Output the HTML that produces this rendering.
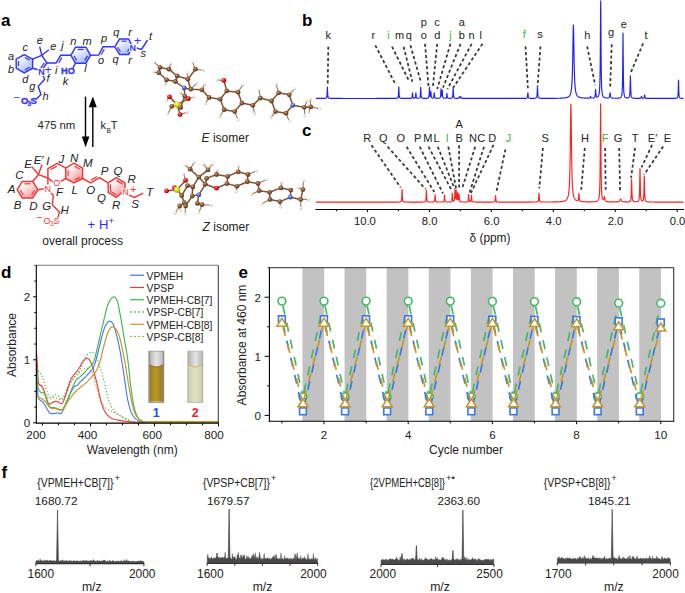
<!DOCTYPE html>
<html><head><meta charset="utf-8"><style>
html,body{margin:0;padding:0;background:#fff;}
svg{display:block;}
text{font-family:"Liberation Sans",sans-serif;}
</style></head><body>
<svg width="685" height="593" viewBox="0 0 685 593">
<rect width="685" height="593" fill="#fff"/>
<defs>
<linearGradient id="gb" x1="0.15" y1="0.1" x2="0.85" y2="0.95"><stop offset="0" stop-color="#ffffff"/><stop offset="0.3" stop-color="#e8eeff"/><stop offset="1" stop-color="#9ab4ff"/></linearGradient>
<linearGradient id="gr" x1="0.15" y1="0.1" x2="0.85" y2="0.95"><stop offset="0" stop-color="#ffffff"/><stop offset="0.35" stop-color="#fde6e6"/><stop offset="1" stop-color="#ee8c8c"/></linearGradient>
<radialGradient id="gh" cx="40%" cy="35%" r="65%"><stop offset="0" stop-color="#ffffff"/><stop offset="0.6" stop-color="#e4e4dc"/><stop offset="1" stop-color="#a8a8a0"/></radialGradient>
<radialGradient id="gc" cx="40%" cy="35%" r="65%"><stop offset="0" stop-color="#c9a58a"/><stop offset="0.5" stop-color="#85532f"/><stop offset="1" stop-color="#5a3418"/></radialGradient>
<radialGradient id="go" cx="40%" cy="35%" r="65%"><stop offset="0" stop-color="#ff9a9a"/><stop offset="0.5" stop-color="#e01010"/><stop offset="1" stop-color="#a00000"/></radialGradient>
<radialGradient id="gn" cx="40%" cy="35%" r="65%"><stop offset="0" stop-color="#b8c8ff"/><stop offset="0.5" stop-color="#4a66d0"/><stop offset="1" stop-color="#2a3a90"/></radialGradient>
<radialGradient id="gs" cx="40%" cy="35%" r="65%"><stop offset="0" stop-color="#ffffa0"/><stop offset="0.5" stop-color="#d8e020"/><stop offset="1" stop-color="#9aa000"/></radialGradient>
<linearGradient id="cuv1" x1="0" y1="0" x2="1" y2="0"><stop offset="0" stop-color="#9a7c2c"/><stop offset="0.45" stop-color="#bc981e"/><stop offset="1" stop-color="#977a30"/></linearGradient>
<linearGradient id="cuv2" x1="0" y1="0" x2="1" y2="0"><stop offset="0" stop-color="#cfd0b0"/><stop offset="0.5" stop-color="#e2e3c2"/><stop offset="1" stop-color="#cfd0b0"/></linearGradient>
</defs>
<text x="1" y="26" font-size="17" text-anchor="start" font-weight="bold" font-style="normal" fill="#000" >a</text>
<text x="302" y="26" font-size="17" text-anchor="start" font-weight="bold" font-style="normal" fill="#000" >b</text>
<text x="302" y="136" font-size="17" text-anchor="start" font-weight="bold" font-style="normal" fill="#000" >c</text>
<text x="1" y="277.5" font-size="17" text-anchor="start" font-weight="bold" font-style="normal" fill="#000" >d</text>
<text x="238.5" y="277.5" font-size="17" text-anchor="start" font-weight="bold" font-style="normal" fill="#000" >e</text>
<text x="1.5" y="477.5" font-size="17" text-anchor="start" font-weight="bold" font-style="normal" fill="#000" >f</text>
<path d="M24.2,54.7 L32.6,59.2 L32.6,68.2 L24.2,72.8 L16.2,68.2 L16.2,59.2 Z" stroke="#3434f8" stroke-width="1.45" fill="url(#gb)" />
<line x1="24.84" y1="57.55" x2="29.68" y2="60.14" stroke="#3434f8" stroke-width="1.2" />
<line x1="29.68" y1="67.28" x2="24.84" y2="69.93" stroke="#3434f8" stroke-width="1.2" />
<line x1="18.48" y1="66.3" x2="18.48" y2="61.11" stroke="#3434f8" stroke-width="1.2" />
<path d="M32.6,59.2 L41.8,55.3 L46.9,63 L41.6,70.7 L32.6,68.2" stroke="#3434f8" stroke-width="1.45" fill="none" />
<line x1="44.29" y1="62.91" x2="40.58" y2="68.3" stroke="#3434f8" stroke-width="1.2" />
<line x1="41.8" y1="55.3" x2="39.7" y2="46.6" stroke="#3434f8" stroke-width="1.45" />
<line x1="41.8" y1="55.3" x2="48.9" y2="49.7" stroke="#3434f8" stroke-width="1.45" />
<path d="M46.9,63 L56.1,63 L60.7,55.3 L70.9,55.3" stroke="#3434f8" stroke-width="1.45" fill="none" />
<line x1="58.68" y1="62.97" x2="61.9" y2="57.58" stroke="#3434f8" stroke-width="1.2" />
<path d="M70.9,55.3 L75.5,47.2 L85.9,47.2 L90.5,55.3 L85.9,63.2 L75.5,63.2 Z" stroke="#3434f8" stroke-width="1.45" fill="url(#gb)" />
<line x1="77.7" y1="49.45" x2="83.7" y2="49.45" stroke="#3434f8" stroke-width="1.2" />
<line x1="87.42" y1="55.85" x2="84.78" y2="60.4" stroke="#3434f8" stroke-width="1.2" />
<line x1="76.62" y1="60.4" x2="73.98" y2="55.85" stroke="#3434f8" stroke-width="1.2" />
<line x1="75.5" y1="63.2" x2="72.4" y2="69" stroke="#3434f8" stroke-width="1.45" />
<path d="M90.5,55.3 L98.7,55 L103,46.8 L114.7,46.8" stroke="#3434f8" stroke-width="1.45" fill="none" />
<line x1="101.29" y1="54.79" x2="104.3" y2="49.05" stroke="#3434f8" stroke-width="1.2" />
<path d="M114.7,46.8 L119.6,39 L128.6,39 L132.6,46.8 L128.6,54.4 L119.6,54.4 Z" stroke="#3434f8" stroke-width="1.45" fill="url(#gb)" />
<line x1="121.47" y1="41.17" x2="126.65" y2="41.17" stroke="#3434f8" stroke-width="1.2" />
<line x1="129.89" y1="47.33" x2="127.59" y2="51.71" stroke="#3434f8" stroke-width="1.2" />
<line x1="120.47" y1="51.71" x2="117.64" y2="47.33" stroke="#3434f8" stroke-width="1.2" />
<path d="M134.5,47.5 L141.5,49.5 L147.6,40" stroke="#3434f8" stroke-width="1.45" fill="none" />
<path d="M41.8,72.5 L44.6,79.3 L38.2,86.3 L41,94.5 L36,99.3" stroke="#3434f8" stroke-width="1.45" fill="none" />
<text x="41.6" y="74.6" font-size="9" text-anchor="middle" font-weight="bold" fill="#3434f8" stroke="#fff" stroke-width="2.2" paint-order="stroke" stroke-linejoin="round">N</text>
<text x="48" y="74.2" font-size="13" text-anchor="middle" font-weight="normal" font-style="normal" fill="#3434f8" >+</text>
<text x="132.8" y="50.9" font-size="9" text-anchor="middle" font-weight="bold" fill="#3434f8" stroke="#fff" stroke-width="2.2" paint-order="stroke" stroke-linejoin="round">N</text>
<text x="137.6" y="44.6" font-size="13" text-anchor="middle" font-weight="normal" font-style="normal" fill="#3434f8" >+</text>
<text x="67.9" y="74.2" font-size="9.2" text-anchor="middle" font-weight="bold" font-style="normal" fill="#3434f8" stroke="#3434f8" stroke-width="0.35">HO</text>
<text x="13.6" y="101.2" font-size="11" text-anchor="start" font-weight="normal" font-style="normal" fill="#3434f8" >−</text>
<text x="21" y="104.3" font-size="9.4" text-anchor="start" font-weight="bold" font-style="normal" fill="#3434f8" stroke="#3434f8" stroke-width="0.35">O</text>
<text x="27.6" y="106.2" font-size="6.5" text-anchor="start" font-weight="bold" font-style="normal" fill="#3434f8" stroke="#3434f8" stroke-width="0.25">3</text>
<text x="30.6" y="104.3" font-size="9.4" text-anchor="start" font-weight="bold" font-style="normal" fill="#3434f8" stroke="#3434f8" stroke-width="0.35">S</text>
<text x="11.1" y="59.5" font-size="11" text-anchor="middle" font-weight="normal" font-style="italic" fill="#222" >a</text>
<text x="11.1" y="73" font-size="11" text-anchor="middle" font-weight="normal" font-style="italic" fill="#222" >b</text>
<text x="25.2" y="51.3" font-size="11" text-anchor="middle" font-weight="normal" font-style="italic" fill="#222" >c</text>
<text x="25.2" y="83" font-size="11" text-anchor="middle" font-weight="normal" font-style="italic" fill="#222" >d</text>
<text x="39.7" y="44.3" font-size="11" text-anchor="middle" font-weight="normal" font-style="italic" fill="#222" >e</text>
<text x="53.2" y="50" font-size="11" text-anchor="middle" font-weight="normal" font-style="italic" fill="#222" >e</text>
<text x="62.5" y="48.9" font-size="11" text-anchor="middle" font-weight="normal" font-style="italic" fill="#222" >j</text>
<text x="56.2" y="73.5" font-size="11" text-anchor="middle" font-weight="normal" font-style="italic" fill="#222" >i</text>
<text x="48" y="82.4" font-size="11" text-anchor="middle" font-weight="normal" font-style="italic" fill="#222" >f</text>
<text x="32.3" y="90.3" font-size="11" text-anchor="middle" font-weight="normal" font-style="italic" fill="#222" >g</text>
<text x="45.6" y="99.7" font-size="11" text-anchor="middle" font-weight="normal" font-style="italic" fill="#222" >h</text>
<text x="65.4" y="84.6" font-size="11" text-anchor="middle" font-weight="normal" font-style="italic" fill="#222" >k</text>
<text x="73.2" y="45.2" font-size="11" text-anchor="middle" font-weight="normal" font-style="italic" fill="#222" >n</text>
<text x="87.2" y="45.2" font-size="11" text-anchor="middle" font-weight="normal" font-style="italic" fill="#222" >m</text>
<text x="85.6" y="71.8" font-size="11" text-anchor="middle" font-weight="normal" font-style="italic" fill="#222" >l</text>
<text x="104" y="41.6" font-size="11" text-anchor="middle" font-weight="normal" font-style="italic" fill="#222" >p</text>
<text x="101" y="63.7" font-size="11" text-anchor="middle" font-weight="normal" font-style="italic" fill="#222" >o</text>
<text x="116.2" y="35.9" font-size="11" text-anchor="middle" font-weight="normal" font-style="italic" fill="#222" >q</text>
<text x="130" y="35.9" font-size="11" text-anchor="middle" font-weight="normal" font-style="italic" fill="#222" >r</text>
<text x="115.6" y="62.9" font-size="11" text-anchor="middle" font-weight="normal" font-style="italic" fill="#222" >q</text>
<text x="130" y="64.4" font-size="11" text-anchor="middle" font-weight="normal" font-style="italic" fill="#222" >r</text>
<text x="143.3" y="57.1" font-size="11" text-anchor="middle" font-weight="normal" font-style="italic" fill="#222" >s</text>
<text x="150.6" y="40.3" font-size="11" text-anchor="middle" font-weight="normal" font-style="italic" fill="#222" >t</text>
<line x1="85.5" y1="96.6" x2="85.5" y2="138" stroke="#000" stroke-width="1.4" />
<path d="M81.8,136.5 L89.4,136.5 L85.6,147.2 Z" stroke="none" stroke-width="1" fill="#000" />
<line x1="92.8" y1="105" x2="92.8" y2="147" stroke="#000" stroke-width="1.4" />
<path d="M88.8,107.2 L96.8,107.2 L92.8,96.4 Z" stroke="none" stroke-width="1" fill="#000" />
<text x="37.6" y="128.5" font-size="11.3" text-anchor="start" font-weight="normal" font-style="normal" fill="#222" >475 nm</text>
<text x="100.6" y="128.8" font-size="11" text-anchor="start" font-weight="normal" font-style="normal" fill="#222" >k</text>
<text x="106.4" y="133" font-size="6.5" text-anchor="start" font-weight="normal" font-style="normal" fill="#222" >B</text>
<text x="110.8" y="128.8" font-size="11" text-anchor="start" font-weight="normal" font-style="normal" fill="#222" >T</text>
<path d="M22.2,181.5 L32.7,181.5 L38,189.7 L32.7,197.9 L22.2,197.9 L17.2,189.7 Z" stroke="#f03838" stroke-width="1.45" fill="url(#gr)" />
<line x1="24.44" y1="183.8" x2="30.49" y2="183.8" stroke="#f03838" stroke-width="1.2" />
<line x1="34.68" y1="190.29" x2="31.63" y2="195.01" stroke="#f03838" stroke-width="1.2" />
<line x1="23.32" y1="195.01" x2="20.44" y2="190.29" stroke="#f03838" stroke-width="1.2" />
<path d="M32.7,181.5 L38.5,174.5 L47.9,178 L47.9,184.5" stroke="#f03838" stroke-width="1.45" fill="none" />
<line x1="38" y1="189.7" x2="44.4" y2="188.6" stroke="#f03838" stroke-width="1.45" />
<line x1="38.5" y1="174.5" x2="31.5" y2="166.4" stroke="#f03838" stroke-width="1.45" />
<line x1="38.5" y1="174.5" x2="42" y2="164.6" stroke="#f03838" stroke-width="1.45" />
<path d="M47.9,178 L47.9,168.7 L57.2,163.4 L65.8,168.2 L65.8,178.5" stroke="#f03838" stroke-width="1.45" fill="none" />
<line x1="53.6" y1="182.3" x2="47.9" y2="178" stroke="#f03838" stroke-width="1.45" />
<line x1="65.8" y1="178.5" x2="60" y2="181.8" stroke="#f03838" stroke-width="1.45" />
<line x1="50.38" y1="169.82" x2="56.89" y2="166.11" stroke="#f03838" stroke-width="1.2" />
<path d="M73.9,163.1 L82.6,168.2 L82.6,178.5 L73.9,183 L65.8,178.5 L65.8,168.2 Z" stroke="#f03838" stroke-width="1.45" fill="url(#gr)" />
<line x1="74.58" y1="166.31" x2="79.59" y2="169.25" stroke="#f03838" stroke-width="1.2" />
<line x1="79.59" y1="177.35" x2="74.58" y2="179.95" stroke="#f03838" stroke-width="1.2" />
<line x1="68.12" y1="176.29" x2="68.12" y2="170.36" stroke="#f03838" stroke-width="1.2" />
<path d="M82.6,178.5 L90.7,182.8 L99.4,177.7 L108.2,182.8" stroke="#f03838" stroke-width="1.45" fill="none" />
<line x1="90.89" y1="180.14" x2="96.98" y2="176.57" stroke="#f03838" stroke-width="1.2" />
<path d="M116.2,177.7 L125,182.8 L125,190 L116.2,197.4 L108.2,192.3 L108.2,182.8 Z" stroke="#f03838" stroke-width="1.45" fill="url(#gr)" />
<line x1="116.42" y1="180.37" x2="122.58" y2="183.94" stroke="#f03838" stroke-width="1.2" />
<line x1="116.18" y1="194.78" x2="110.58" y2="191.21" stroke="#f03838" stroke-width="1.2" />
<line x1="110.4" y1="190.88" x2="110.4" y2="184.23" stroke="#f03838" stroke-width="1.2" />
<path d="M127.5,194.5 L134.5,197.4 L143.2,193.1" stroke="#f03838" stroke-width="1.45" fill="none" />
<path d="M49.5,191.5 L53.3,195.3 L52.4,204.9 L59.4,211.9 L57.9,217.6" stroke="#f03838" stroke-width="1.45" fill="none" />
<text x="47.8" y="191.8" font-size="9" text-anchor="middle" font-weight="normal" fill="#f03838" stroke="#fff" stroke-width="2.2" paint-order="stroke" stroke-linejoin="round">N</text>
<text x="56.7" y="186.3" font-size="9" text-anchor="middle" font-weight="normal" fill="#f03838" stroke="#fff" stroke-width="2.2" paint-order="stroke" stroke-linejoin="round">O</text>
<text x="125.5" y="195.3" font-size="9" text-anchor="middle" font-weight="normal" fill="#f03838" stroke="#fff" stroke-width="2.2" paint-order="stroke" stroke-linejoin="round">N</text>
<text x="133.2" y="192.6" font-size="11" text-anchor="middle" font-weight="normal" font-style="normal" fill="#f03838" >+</text>
<text x="36" y="221.2" font-size="10.5" text-anchor="start" font-weight="normal" font-style="normal" fill="#f03838" >−</text>
<text x="43.6" y="224.2" font-size="9" text-anchor="start" font-weight="normal" font-style="normal" fill="#f03838" >O</text>
<text x="49.9" y="226.3" font-size="6.5" text-anchor="start" font-weight="normal" font-style="normal" fill="#f03838" >3</text>
<text x="53.6" y="224.2" font-size="9" text-anchor="start" font-weight="normal" font-style="normal" fill="#f03838" >S</text>
<text x="28.2" y="167.6" font-size="11.5" text-anchor="middle" font-weight="normal" font-style="italic" fill="#222" >E</text>
<text x="38.6" y="164.2" font-size="11.5" text-anchor="middle" font-weight="normal" font-style="italic" fill="#222" >E′</text>
<text x="47.9" y="165.2" font-size="11.5" text-anchor="middle" font-weight="normal" font-style="italic" fill="#222" >I</text>
<text x="61.3" y="163.4" font-size="11.5" text-anchor="middle" font-weight="normal" font-style="italic" fill="#222" >J</text>
<text x="74.2" y="161.8" font-size="11.5" text-anchor="middle" font-weight="normal" font-style="italic" fill="#222" >N</text>
<text x="19.3" y="179.3" font-size="11.5" text-anchor="middle" font-weight="normal" font-style="italic" fill="#222" >C</text>
<text x="11.7" y="192.6" font-size="11.5" text-anchor="middle" font-weight="normal" font-style="italic" fill="#222" >A</text>
<text x="17.5" y="209.1" font-size="11.5" text-anchor="middle" font-weight="normal" font-style="italic" fill="#222" >B</text>
<text x="33.3" y="209.6" font-size="11.5" text-anchor="middle" font-weight="normal" font-style="italic" fill="#222" >D</text>
<text x="46.7" y="210.2" font-size="11.5" text-anchor="middle" font-weight="normal" font-style="italic" fill="#222" >G</text>
<text x="59.6" y="196.2" font-size="11.5" text-anchor="middle" font-weight="normal" font-style="italic" fill="#222" >F</text>
<text x="74.6" y="194.2" font-size="11.5" text-anchor="middle" font-weight="normal" font-style="italic" fill="#222" >L</text>
<text x="87.9" y="166.6" font-size="11.5" text-anchor="middle" font-weight="normal" font-style="italic" fill="#222" >M</text>
<text x="104.5" y="174.5" font-size="11.5" text-anchor="middle" font-weight="normal" font-style="italic" fill="#222" >P</text>
<text x="117.9" y="175.4" font-size="11.5" text-anchor="middle" font-weight="normal" font-style="italic" fill="#222" >Q</text>
<text x="131.7" y="183" font-size="11.5" text-anchor="middle" font-weight="normal" font-style="italic" fill="#222" >R</text>
<text x="149.8" y="195.7" font-size="11.5" text-anchor="middle" font-weight="normal" font-style="italic" fill="#222" >T</text>
<text x="135.2" y="208.1" font-size="11.5" text-anchor="middle" font-weight="normal" font-style="italic" fill="#222" >S</text>
<text x="116.2" y="208.8" font-size="11.5" text-anchor="middle" font-weight="normal" font-style="italic" fill="#222" >R</text>
<text x="101.6" y="202.4" font-size="11.5" text-anchor="middle" font-weight="normal" font-style="italic" fill="#222" >Q</text>
<text x="90.7" y="193.5" font-size="11.5" text-anchor="middle" font-weight="normal" font-style="italic" fill="#222" >O</text>
<text x="64.6" y="214.2" font-size="11.5" text-anchor="middle" font-weight="normal" font-style="italic" fill="#222" >H</text>
<text x="87.6" y="228.8" font-size="13" text-anchor="start" font-weight="normal" font-style="normal" fill="#2a2aff" >+</text>
<text x="99" y="229.4" font-size="13" text-anchor="start" font-weight="normal" font-style="normal" fill="#2a2aff" >H</text>
<text x="108.6" y="224.2" font-size="9.5" text-anchor="start" font-weight="normal" font-style="normal" fill="#2a2aff" >+</text>
<text x="42.3" y="244.5" font-size="12" text-anchor="start" font-weight="normal" font-style="normal" fill="#222" >overall process</text>
<line x1="154.1" y1="62.1" x2="160" y2="67.4" stroke="#9a7a64" stroke-width="1.1" />
<line x1="170.6" y1="63.5" x2="168.9" y2="69.2" stroke="#9a7a64" stroke-width="1.1" />
<line x1="192.5" y1="62.1" x2="195.4" y2="69.2" stroke="#9a7a64" stroke-width="1.1" />
<line x1="203.7" y1="70.3" x2="195.4" y2="69.2" stroke="#9a7a64" stroke-width="1.1" />
<line x1="153.5" y1="72.1" x2="158.8" y2="72.7" stroke="#9a7a64" stroke-width="1.1" />
<line x1="165.3" y1="84.6" x2="166.5" y2="79.8" stroke="#9a7a64" stroke-width="1.1" />
<line x1="187.2" y1="72.7" x2="187.8" y2="79.2" stroke="#9a7a64" stroke-width="1.1" />
<line x1="196.6" y1="83.3" x2="190.7" y2="89.2" stroke="#9a7a64" stroke-width="1.1" />
<line x1="204.9" y1="83.9" x2="201.9" y2="89.8" stroke="#9a7a64" stroke-width="1.1" />
<line x1="205.5" y1="103.4" x2="209" y2="97.5" stroke="#9a7a64" stroke-width="1.1" />
<line x1="217" y1="80" x2="223.9" y2="80.4" stroke="#9a7a64" stroke-width="1.1" />
<line x1="219.6" y1="116.5" x2="224.2" y2="109.7" stroke="#9a7a64" stroke-width="1.1" />
<line x1="167.7" y1="114" x2="171.8" y2="106.3" stroke="#9a7a64" stroke-width="1.1" />
<line x1="166.5" y1="100.5" x2="169.5" y2="96.9" stroke="#9a7a64" stroke-width="1.1" />
<line x1="187.2" y1="112.2" x2="180.1" y2="114.6" stroke="#9a7a64" stroke-width="1.1" />
<line x1="194" y1="96.9" x2="188.3" y2="98.7" stroke="#9a7a64" stroke-width="1.1" />
<line x1="180.1" y1="92.8" x2="184.8" y2="96.3" stroke="#9a7a64" stroke-width="1.1" />
<line x1="242.6" y1="85" x2="238" y2="92.2" stroke="#9a7a64" stroke-width="1.1" />
<line x1="259" y1="89.6" x2="260.3" y2="98.1" stroke="#9a7a64" stroke-width="1.1" />
<line x1="276.1" y1="84.3" x2="278.7" y2="92.8" stroke="#9a7a64" stroke-width="1.1" />
<line x1="294.5" y1="88.9" x2="289.2" y2="94.8" stroke="#9a7a64" stroke-width="1.1" />
<line x1="254.4" y1="113.9" x2="252.8" y2="105.3" stroke="#9a7a64" stroke-width="1.1" />
<line x1="238" y1="119.8" x2="234.7" y2="111.6" stroke="#9a7a64" stroke-width="1.1" />
<line x1="270.8" y1="117.8" x2="275.4" y2="111.6" stroke="#9a7a64" stroke-width="1.1" />
<line x1="289.2" y1="121.1" x2="286" y2="113.2" stroke="#9a7a64" stroke-width="1.1" />
<line x1="306.9" y1="101.2" x2="304.3" y2="107.3" stroke="#9a7a64" stroke-width="1.1" />
<line x1="310.3" y1="99" x2="310.7" y2="106.9" stroke="#9a7a64" stroke-width="1.1" />
<line x1="319.5" y1="108.8" x2="310.7" y2="106.9" stroke="#9a7a64" stroke-width="1.1" />
<line x1="304.7" y1="115.3" x2="304.3" y2="107.3" stroke="#9a7a64" stroke-width="1.1" />
<line x1="308.5" y1="112.6" x2="310.7" y2="106.9" stroke="#9a7a64" stroke-width="1.1" />
<line x1="160" y1="67.4" x2="168.9" y2="69.2" stroke="#7e5234" stroke-width="1.5" />
<line x1="168.9" y1="69.2" x2="177.1" y2="76" stroke="#7e5234" stroke-width="1.5" />
<line x1="177.1" y1="76" x2="175.4" y2="81.5" stroke="#7e5234" stroke-width="1.5" />
<line x1="175.4" y1="81.5" x2="166.5" y2="79.8" stroke="#7e5234" stroke-width="1.5" />
<line x1="166.5" y1="79.8" x2="158.8" y2="72.7" stroke="#7e5234" stroke-width="1.5" />
<line x1="158.8" y1="72.7" x2="160" y2="67.4" stroke="#7e5234" stroke-width="1.5" />
<line x1="177.1" y1="76" x2="187.8" y2="79.2" stroke="#7e5234" stroke-width="1.5" />
<line x1="187.8" y1="79.2" x2="190.7" y2="89.2" stroke="#7e5234" stroke-width="1.5" />
<line x1="190.7" y1="89.2" x2="184.2" y2="88" stroke="#7e5234" stroke-width="1.5" />
<line x1="184.2" y1="88" x2="175.4" y2="81.5" stroke="#7e5234" stroke-width="1.5" />
<line x1="187.8" y1="79.2" x2="195.4" y2="69.2" stroke="#7e5234" stroke-width="1.5" />
<line x1="190.7" y1="89.2" x2="201.9" y2="89.8" stroke="#7e5234" stroke-width="1.5" />
<line x1="201.9" y1="89.8" x2="209" y2="97.5" stroke="#7e5234" stroke-width="1.5" />
<line x1="209" y1="97.5" x2="220.2" y2="99.2" stroke="#7e5234" stroke-width="1.5" />
<line x1="220.2" y1="99.2" x2="226.8" y2="90.9" stroke="#7e5234" stroke-width="1.5" />
<line x1="226.8" y1="90.9" x2="238" y2="92.2" stroke="#7e5234" stroke-width="1.5" />
<line x1="238" y1="92.2" x2="241.9" y2="103.1" stroke="#7e5234" stroke-width="1.5" />
<line x1="241.9" y1="103.1" x2="234.7" y2="111.6" stroke="#7e5234" stroke-width="1.5" />
<line x1="234.7" y1="111.6" x2="224.2" y2="109.7" stroke="#7e5234" stroke-width="1.5" />
<line x1="224.2" y1="109.7" x2="220.2" y2="99.2" stroke="#7e5234" stroke-width="1.5" />
<line x1="226.8" y1="90.9" x2="223.9" y2="80.4" stroke="#7e5234" stroke-width="1.5" />
<line x1="241.9" y1="103.1" x2="252.8" y2="105.3" stroke="#7e5234" stroke-width="1.5" />
<line x1="252.8" y1="105.3" x2="260.3" y2="98.1" stroke="#7e5234" stroke-width="1.5" />
<line x1="260.3" y1="98.1" x2="271.5" y2="101" stroke="#7e5234" stroke-width="1.5" />
<line x1="271.5" y1="101" x2="278.7" y2="92.8" stroke="#7e5234" stroke-width="1.5" />
<line x1="278.7" y1="92.8" x2="289.2" y2="94.8" stroke="#7e5234" stroke-width="1.5" />
<line x1="289.2" y1="94.8" x2="292.8" y2="105.3" stroke="#7e5234" stroke-width="1.5" />
<line x1="292.8" y1="105.3" x2="286" y2="113.2" stroke="#7e5234" stroke-width="1.5" />
<line x1="286" y1="113.2" x2="275.4" y2="111.6" stroke="#7e5234" stroke-width="1.5" />
<line x1="275.4" y1="111.6" x2="271.5" y2="101" stroke="#7e5234" stroke-width="1.5" />
<line x1="292.8" y1="105.3" x2="304.3" y2="107.3" stroke="#7e5234" stroke-width="1.5" />
<line x1="304.3" y1="107.3" x2="310.7" y2="106.9" stroke="#7e5234" stroke-width="1.5" />
<line x1="184.2" y1="88" x2="184.8" y2="96.3" stroke="#7e5234" stroke-width="1.5" />
<line x1="184.8" y1="96.3" x2="180.7" y2="107.5" stroke="#7e5234" stroke-width="1.5" />
<line x1="180.7" y1="107.5" x2="177.1" y2="104.6" stroke="#7e5234" stroke-width="1.5" />
<line x1="177.1" y1="104.6" x2="171.8" y2="106.3" stroke="#7e5234" stroke-width="1.5" />
<line x1="177.1" y1="104.6" x2="169.5" y2="96.9" stroke="#7e5234" stroke-width="1.5" />
<line x1="177.1" y1="104.6" x2="188.3" y2="98.7" stroke="#7e5234" stroke-width="1.5" />
<line x1="177.1" y1="104.6" x2="180.1" y2="114.6" stroke="#7e5234" stroke-width="1.5" />
<circle cx="154.1" cy="62.1" r="1.45" fill="url(#gh)"/>
<circle cx="170.6" cy="63.5" r="1.45" fill="url(#gh)"/>
<circle cx="192.5" cy="62.1" r="1.45" fill="url(#gh)"/>
<circle cx="203.7" cy="70.3" r="1.45" fill="url(#gh)"/>
<circle cx="153.5" cy="72.1" r="1.45" fill="url(#gh)"/>
<circle cx="165.3" cy="84.6" r="1.45" fill="url(#gh)"/>
<circle cx="187.2" cy="72.7" r="1.45" fill="url(#gh)"/>
<circle cx="196.6" cy="83.3" r="1.45" fill="url(#gh)"/>
<circle cx="204.9" cy="83.9" r="1.45" fill="url(#gh)"/>
<circle cx="205.5" cy="103.4" r="1.45" fill="url(#gh)"/>
<circle cx="217" cy="80" r="1.45" fill="url(#gh)"/>
<circle cx="219.6" cy="116.5" r="1.45" fill="url(#gh)"/>
<circle cx="167.7" cy="114" r="1.45" fill="url(#gh)"/>
<circle cx="166.5" cy="100.5" r="1.45" fill="url(#gh)"/>
<circle cx="187.2" cy="112.2" r="1.45" fill="url(#gh)"/>
<circle cx="194" cy="96.9" r="1.45" fill="url(#gh)"/>
<circle cx="180.1" cy="92.8" r="1.45" fill="url(#gh)"/>
<circle cx="242.6" cy="85" r="1.45" fill="url(#gh)"/>
<circle cx="259" cy="89.6" r="1.45" fill="url(#gh)"/>
<circle cx="276.1" cy="84.3" r="1.45" fill="url(#gh)"/>
<circle cx="294.5" cy="88.9" r="1.45" fill="url(#gh)"/>
<circle cx="254.4" cy="113.9" r="1.45" fill="url(#gh)"/>
<circle cx="238" cy="119.8" r="1.45" fill="url(#gh)"/>
<circle cx="270.8" cy="117.8" r="1.45" fill="url(#gh)"/>
<circle cx="289.2" cy="121.1" r="1.45" fill="url(#gh)"/>
<circle cx="306.9" cy="101.2" r="1.45" fill="url(#gh)"/>
<circle cx="310.3" cy="99" r="1.45" fill="url(#gh)"/>
<circle cx="319.5" cy="108.8" r="1.45" fill="url(#gh)"/>
<circle cx="304.7" cy="115.3" r="1.45" fill="url(#gh)"/>
<circle cx="308.5" cy="112.6" r="1.45" fill="url(#gh)"/>
<circle cx="160" cy="67.4" r="2.4" fill="url(#gc)"/>
<circle cx="168.9" cy="69.2" r="2.4" fill="url(#gc)"/>
<circle cx="158.8" cy="72.7" r="2.4" fill="url(#gc)"/>
<circle cx="177.1" cy="76" r="2.4" fill="url(#gc)"/>
<circle cx="166.5" cy="79.8" r="2.4" fill="url(#gc)"/>
<circle cx="175.4" cy="81.5" r="2.4" fill="url(#gc)"/>
<circle cx="187.8" cy="79.2" r="2.4" fill="url(#gc)"/>
<circle cx="195.4" cy="69.2" r="2.4" fill="url(#gc)"/>
<circle cx="190.7" cy="89.2" r="2.4" fill="url(#gc)"/>
<circle cx="201.9" cy="89.8" r="2.4" fill="url(#gc)"/>
<circle cx="209" cy="97.5" r="2.4" fill="url(#gc)"/>
<circle cx="220.2" cy="99.2" r="2.4" fill="url(#gc)"/>
<circle cx="226.8" cy="90.9" r="2.4" fill="url(#gc)"/>
<circle cx="224.2" cy="109.7" r="2.4" fill="url(#gc)"/>
<circle cx="184.8" cy="96.3" r="2.4" fill="url(#gc)"/>
<circle cx="171.8" cy="106.3" r="2.4" fill="url(#gc)"/>
<circle cx="180.7" cy="107.5" r="2.4" fill="url(#gc)"/>
<circle cx="184.2" cy="88" r="2.4" fill="url(#gn)"/>
<circle cx="223.9" cy="80.4" r="2.4" fill="url(#go)"/>
<circle cx="169.5" cy="96.9" r="2.4" fill="url(#go)"/>
<circle cx="188.3" cy="98.7" r="2.4" fill="url(#go)"/>
<circle cx="180.1" cy="114.6" r="2.4" fill="url(#go)"/>
<circle cx="177.1" cy="104.6" r="3.2" fill="url(#gs)"/>
<circle cx="238" cy="92.2" r="2.4" fill="url(#gc)"/>
<circle cx="241.9" cy="103.1" r="2.4" fill="url(#gc)"/>
<circle cx="234.7" cy="111.6" r="2.4" fill="url(#gc)"/>
<circle cx="252.8" cy="105.3" r="2.4" fill="url(#gc)"/>
<circle cx="260.3" cy="98.1" r="2.4" fill="url(#gc)"/>
<circle cx="271.5" cy="101" r="2.4" fill="url(#gc)"/>
<circle cx="278.7" cy="92.8" r="2.4" fill="url(#gc)"/>
<circle cx="289.2" cy="94.8" r="2.4" fill="url(#gc)"/>
<circle cx="275.4" cy="111.6" r="2.4" fill="url(#gc)"/>
<circle cx="286" cy="113.2" r="2.4" fill="url(#gc)"/>
<circle cx="292.8" cy="105.3" r="2.4" fill="url(#gn)"/>
<circle cx="304.3" cy="107.3" r="2.4" fill="url(#gc)"/>
<circle cx="310.7" cy="106.9" r="2.4" fill="url(#gc)"/>
<line x1="185" y1="165.3" x2="190.2" y2="169.2" stroke="#9a7a64" stroke-width="1.1" />
<line x1="194.2" y1="162" x2="190.2" y2="169.2" stroke="#9a7a64" stroke-width="1.1" />
<line x1="203.4" y1="164" x2="208" y2="169.9" stroke="#9a7a64" stroke-width="1.1" />
<line x1="212.6" y1="164" x2="208" y2="169.9" stroke="#9a7a64" stroke-width="1.1" />
<line x1="183.7" y1="173.8" x2="185.6" y2="180.4" stroke="#9a7a64" stroke-width="1.1" />
<line x1="217.2" y1="169.9" x2="216.5" y2="174.5" stroke="#9a7a64" stroke-width="1.1" />
<line x1="238.8" y1="165.9" x2="238.2" y2="171.8" stroke="#9a7a64" stroke-width="1.1" />
<line x1="236.2" y1="191.5" x2="236.9" y2="186.3" stroke="#9a7a64" stroke-width="1.1" />
<line x1="175.1" y1="213.2" x2="179.7" y2="206" stroke="#9a7a64" stroke-width="1.1" />
<line x1="185" y1="213.9" x2="185.6" y2="206" stroke="#9a7a64" stroke-width="1.1" />
<line x1="198.8" y1="212.6" x2="202" y2="204.7" stroke="#9a7a64" stroke-width="1.1" />
<line x1="211.2" y1="205.3" x2="202" y2="204.7" stroke="#9a7a64" stroke-width="1.1" />
<line x1="180.4" y1="210" x2="179.7" y2="206" stroke="#9a7a64" stroke-width="1.1" />
<line x1="256.4" y1="171" x2="248" y2="174.5" stroke="#9a7a64" stroke-width="1.1" />
<line x1="266.2" y1="179.7" x2="258" y2="183.5" stroke="#9a7a64" stroke-width="1.1" />
<line x1="251.4" y1="194.5" x2="259.1" y2="190.7" stroke="#9a7a64" stroke-width="1.1" />
<line x1="261.8" y1="203.8" x2="270" y2="199.4" stroke="#9a7a64" stroke-width="1.1" />
<line x1="281.5" y1="182.4" x2="281" y2="187.9" stroke="#9a7a64" stroke-width="1.1" />
<line x1="280.4" y1="207.1" x2="279.9" y2="201.6" stroke="#9a7a64" stroke-width="1.1" />
<line x1="298.5" y1="187.4" x2="302.9" y2="189.6" stroke="#9a7a64" stroke-width="1.1" />
<line x1="303.4" y1="180.8" x2="302.9" y2="189.6" stroke="#9a7a64" stroke-width="1.1" />
<line x1="300.7" y1="208.2" x2="300.7" y2="199.4" stroke="#9a7a64" stroke-width="1.1" />
<line x1="308.4" y1="199.4" x2="300.7" y2="199.4" stroke="#9a7a64" stroke-width="1.1" />
<line x1="190.2" y1="169.2" x2="198.8" y2="177.1" stroke="#7e5234" stroke-width="1.5" />
<line x1="208" y1="169.9" x2="198.8" y2="177.1" stroke="#7e5234" stroke-width="1.5" />
<line x1="198.8" y1="177.1" x2="205.3" y2="184.3" stroke="#7e5234" stroke-width="1.5" />
<line x1="205.3" y1="184.3" x2="198.8" y2="194.8" stroke="#7e5234" stroke-width="1.5" />
<line x1="205.3" y1="184.3" x2="216.5" y2="188.2" stroke="#7e5234" stroke-width="1.5" />
<line x1="205.3" y1="184.3" x2="206.6" y2="178.4" stroke="#7e5234" stroke-width="1.5" />
<line x1="206.6" y1="178.4" x2="216.5" y2="174.5" stroke="#7e5234" stroke-width="1.5" />
<line x1="216.5" y1="174.5" x2="227.7" y2="176.4" stroke="#7e5234" stroke-width="1.5" />
<line x1="227.7" y1="176.4" x2="227" y2="183.6" stroke="#7e5234" stroke-width="1.5" />
<line x1="227" y1="183.6" x2="216.5" y2="188.2" stroke="#7e5234" stroke-width="1.5" />
<line x1="227.7" y1="176.4" x2="238.2" y2="171.8" stroke="#7e5234" stroke-width="1.5" />
<line x1="238.2" y1="171.8" x2="248" y2="174.5" stroke="#7e5234" stroke-width="1.5" />
<line x1="248" y1="174.5" x2="247.4" y2="181.7" stroke="#7e5234" stroke-width="1.5" />
<line x1="247.4" y1="181.7" x2="236.9" y2="186.3" stroke="#7e5234" stroke-width="1.5" />
<line x1="236.9" y1="186.3" x2="227" y2="183.6" stroke="#7e5234" stroke-width="1.5" />
<line x1="247.4" y1="181.7" x2="258" y2="183.5" stroke="#7e5234" stroke-width="1.5" />
<line x1="258" y1="183.5" x2="259.1" y2="190.7" stroke="#7e5234" stroke-width="1.5" />
<line x1="259.1" y1="190.7" x2="269.5" y2="192.3" stroke="#7e5234" stroke-width="1.5" />
<line x1="269.5" y1="192.3" x2="281" y2="187.9" stroke="#7e5234" stroke-width="1.5" />
<line x1="281" y1="187.9" x2="290.8" y2="190.1" stroke="#7e5234" stroke-width="1.5" />
<line x1="290.8" y1="190.1" x2="290.3" y2="197.2" stroke="#7e5234" stroke-width="1.5" />
<line x1="290.3" y1="197.2" x2="279.9" y2="201.6" stroke="#7e5234" stroke-width="1.5" />
<line x1="279.9" y1="201.6" x2="270" y2="199.4" stroke="#7e5234" stroke-width="1.5" />
<line x1="270" y1="199.4" x2="269.5" y2="192.3" stroke="#7e5234" stroke-width="1.5" />
<line x1="290.3" y1="197.2" x2="300.7" y2="199.4" stroke="#7e5234" stroke-width="1.5" />
<line x1="300.7" y1="199.4" x2="302.9" y2="189.6" stroke="#7e5234" stroke-width="1.5" />
<line x1="198.8" y1="177.1" x2="192.8" y2="186.9" stroke="#7e5234" stroke-width="1.5" />
<line x1="192.8" y1="186.9" x2="192.2" y2="196.1" stroke="#7e5234" stroke-width="1.5" />
<line x1="192.2" y1="196.1" x2="198.8" y2="194.8" stroke="#7e5234" stroke-width="1.5" />
<line x1="192.8" y1="186.9" x2="187.6" y2="185.6" stroke="#7e5234" stroke-width="1.5" />
<line x1="187.6" y1="185.6" x2="181.7" y2="195.5" stroke="#7e5234" stroke-width="1.5" />
<line x1="181.7" y1="195.5" x2="184.3" y2="202.7" stroke="#7e5234" stroke-width="1.5" />
<line x1="184.3" y1="202.7" x2="185.6" y2="206" stroke="#7e5234" stroke-width="1.5" />
<line x1="185.6" y1="206" x2="192.2" y2="196.1" stroke="#7e5234" stroke-width="1.5" />
<line x1="184.3" y1="202.7" x2="179.7" y2="206" stroke="#7e5234" stroke-width="1.5" />
<line x1="198.8" y1="194.8" x2="197.4" y2="203.4" stroke="#7e5234" stroke-width="1.5" />
<line x1="197.4" y1="203.4" x2="202" y2="204.7" stroke="#7e5234" stroke-width="1.5" />
<line x1="181.7" y1="195.5" x2="177.1" y2="189.6" stroke="#7e5234" stroke-width="1.5" />
<line x1="177.1" y1="189.6" x2="185.6" y2="180.4" stroke="#7e5234" stroke-width="1.5" />
<line x1="177.1" y1="189.6" x2="174.5" y2="187.6" stroke="#7e5234" stroke-width="1.5" />
<line x1="177.1" y1="189.6" x2="166.6" y2="190.9" stroke="#7e5234" stroke-width="1.5" />
<circle cx="185" cy="165.3" r="1.45" fill="url(#gh)"/>
<circle cx="194.2" cy="162" r="1.45" fill="url(#gh)"/>
<circle cx="203.4" cy="164" r="1.45" fill="url(#gh)"/>
<circle cx="212.6" cy="164" r="1.45" fill="url(#gh)"/>
<circle cx="183.7" cy="173.8" r="1.45" fill="url(#gh)"/>
<circle cx="217.2" cy="169.9" r="1.45" fill="url(#gh)"/>
<circle cx="238.8" cy="165.9" r="1.45" fill="url(#gh)"/>
<circle cx="236.2" cy="191.5" r="1.45" fill="url(#gh)"/>
<circle cx="175.1" cy="213.2" r="1.45" fill="url(#gh)"/>
<circle cx="185" cy="213.9" r="1.45" fill="url(#gh)"/>
<circle cx="198.8" cy="212.6" r="1.45" fill="url(#gh)"/>
<circle cx="211.2" cy="205.3" r="1.45" fill="url(#gh)"/>
<circle cx="180.4" cy="210" r="1.45" fill="url(#gh)"/>
<circle cx="256.4" cy="171" r="1.45" fill="url(#gh)"/>
<circle cx="266.2" cy="179.7" r="1.45" fill="url(#gh)"/>
<circle cx="251.4" cy="194.5" r="1.45" fill="url(#gh)"/>
<circle cx="261.8" cy="203.8" r="1.45" fill="url(#gh)"/>
<circle cx="281.5" cy="182.4" r="1.45" fill="url(#gh)"/>
<circle cx="280.4" cy="207.1" r="1.45" fill="url(#gh)"/>
<circle cx="298.5" cy="187.4" r="1.45" fill="url(#gh)"/>
<circle cx="303.4" cy="180.8" r="1.45" fill="url(#gh)"/>
<circle cx="300.7" cy="208.2" r="1.45" fill="url(#gh)"/>
<circle cx="308.4" cy="199.4" r="1.45" fill="url(#gh)"/>
<circle cx="190.2" cy="169.2" r="2.4" fill="url(#gc)"/>
<circle cx="208" cy="169.9" r="2.4" fill="url(#gc)"/>
<circle cx="198.8" cy="177.1" r="2.4" fill="url(#gc)"/>
<circle cx="206.6" cy="178.4" r="2.4" fill="url(#gc)"/>
<circle cx="216.5" cy="174.5" r="2.4" fill="url(#gc)"/>
<circle cx="227.7" cy="176.4" r="2.4" fill="url(#gc)"/>
<circle cx="238.2" cy="171.8" r="2.4" fill="url(#gc)"/>
<circle cx="248" cy="174.5" r="2.4" fill="url(#gc)"/>
<circle cx="205.3" cy="184.3" r="2.4" fill="url(#gc)"/>
<circle cx="227" cy="183.6" r="2.4" fill="url(#gc)"/>
<circle cx="236.9" cy="186.3" r="2.4" fill="url(#gc)"/>
<circle cx="247.4" cy="181.7" r="2.4" fill="url(#gc)"/>
<circle cx="187.6" cy="185.6" r="2.4" fill="url(#gc)"/>
<circle cx="192.8" cy="186.9" r="2.4" fill="url(#gc)"/>
<circle cx="192.2" cy="196.1" r="2.4" fill="url(#gc)"/>
<circle cx="181.7" cy="195.5" r="2.4" fill="url(#gc)"/>
<circle cx="184.3" cy="202.7" r="2.4" fill="url(#gc)"/>
<circle cx="185.6" cy="206" r="2.4" fill="url(#gc)"/>
<circle cx="179.7" cy="206" r="2.4" fill="url(#gc)"/>
<circle cx="197.4" cy="203.4" r="2.4" fill="url(#gc)"/>
<circle cx="202" cy="204.7" r="2.4" fill="url(#gc)"/>
<circle cx="198.8" cy="194.8" r="2.4" fill="url(#gn)"/>
<circle cx="216.5" cy="188.2" r="2.4" fill="url(#go)"/>
<circle cx="185.6" cy="180.4" r="2.4" fill="url(#go)"/>
<circle cx="174.5" cy="187.6" r="2.4" fill="url(#go)"/>
<circle cx="166.6" cy="190.9" r="2.4" fill="url(#go)"/>
<circle cx="177.1" cy="189.6" r="3.2" fill="url(#gs)"/>
<circle cx="258" cy="183.5" r="2.4" fill="url(#gc)"/>
<circle cx="259.1" cy="190.7" r="2.4" fill="url(#gc)"/>
<circle cx="269.5" cy="192.3" r="2.4" fill="url(#gc)"/>
<circle cx="281" cy="187.9" r="2.4" fill="url(#gc)"/>
<circle cx="290.8" cy="190.1" r="2.4" fill="url(#gc)"/>
<circle cx="270" cy="199.4" r="2.4" fill="url(#gc)"/>
<circle cx="279.9" cy="201.6" r="2.4" fill="url(#gc)"/>
<circle cx="290.3" cy="197.2" r="2.4" fill="url(#gn)"/>
<circle cx="302.9" cy="189.6" r="2.4" fill="url(#gc)"/>
<circle cx="300.7" cy="199.4" r="2.4" fill="url(#gc)"/>
<text x="201.6" y="141.6" font-size="12" text-anchor="start" font-weight="normal" font-style="normal" fill="#222" ><tspan font-style="italic">E</tspan> isomer</text>
<text x="202.6" y="231" font-size="12" text-anchor="start" font-weight="normal" font-style="normal" fill="#222" ><tspan font-style="italic">Z</tspan> isomer</text>
<path d="M316,98.44 L316.2,98.44 L316.4,98.44 L316.6,98.44 L316.8,98.44 L317,98.44 L317.2,98.44 L317.4,98.44 L317.6,98.44 L317.8,98.44 L318,98.44 L318.2,98.44 L318.4,98.44 L318.6,98.44 L318.8,98.44 L319,98.44 L319.2,98.44 L319.4,98.44 L319.6,98.44 L319.8,98.44 L320,98.44 L320.2,98.43 L320.4,98.43 L320.6,98.43 L320.8,98.43 L321,98.43 L321.2,98.43 L321.4,98.43 L321.6,98.43 L321.8,98.43 L322,98.42 L322.2,98.42 L322.4,98.42 L322.6,98.42 L322.8,98.41 L323,98.41 L323.2,98.41 L323.4,98.4 L323.6,98.4 L323.8,98.39 L324,98.39 L324.2,98.38 L324.4,98.37 L324.6,98.36 L324.8,98.34 L325,98.33 L325.2,98.3 L325.4,98.27 L325.6,98.23 L325.8,98.18 L326,98.09 L326.2,97.97 L326.4,97.77 L326.6,97.43 L326.8,96.75 L327,95.23 L327.2,91.47 L327.4,87 L327.6,91.47 L327.8,95.23 L328,96.75 L328.2,97.43 L328.4,97.77 L328.6,97.97 L328.8,98.09 L329,98.18 L329.2,98.23 L329.4,98.27 L329.6,98.3 L329.8,98.33 L330,98.34 L330.2,98.36 L330.4,98.37 L330.6,98.38 L330.8,98.39 L331,98.39 L331.2,98.4 L331.4,98.4 L331.6,98.41 L331.8,98.41 L332,98.41 L332.2,98.42 L332.4,98.42 L332.6,98.42 L332.8,98.42 L333,98.43 L333.2,98.43 L333.4,98.43 L333.6,98.43 L333.8,98.43 L334,98.43 L334.2,98.43 L334.4,98.43 L334.6,98.43 L334.8,98.44 L335,98.44 L335.2,98.44 L335.4,98.44 L335.6,98.44 L335.8,98.44 L336,98.44 L336.2,98.44 L336.4,98.44 L336.6,98.44 L336.8,98.44 L337,98.44 L337.2,98.44 L337.4,98.44 L337.6,98.44 L337.8,98.44 L338,98.44 L338.2,98.44 L338.4,98.44 L338.6,98.44 L338.8,98.44 L339,98.44 L339.2,98.44 L339.4,98.44 L339.6,98.44 L339.8,98.44 L340,98.44 L340.2,98.44 L340.4,98.44 L340.6,98.44 L340.8,98.44 L341,98.44 L341.2,98.44 L341.4,98.44 L341.6,98.44 L341.8,98.44 L342,98.44 L342.2,98.44 L342.4,98.44 L342.6,98.44 L342.8,98.44 L343,98.45 L343.2,98.45 L343.4,98.45 L343.6,98.45 L343.8,98.45 L344,98.45 L344.2,98.45 L344.4,98.45 L344.6,98.45 L344.8,98.45 L345,98.45 L345.2,98.45 L345.4,98.45 L345.6,98.45 L345.8,98.45 L346,98.45 L346.2,98.45 L346.4,98.45 L346.6,98.45 L346.8,98.45 L347,98.45 L347.2,98.45 L347.4,98.45 L347.6,98.45 L347.8,98.45 L348,98.45 L348.2,98.45 L348.4,98.45 L348.6,98.45 L348.8,98.45 L349,98.45 L349.2,98.45 L349.4,98.45 L349.6,98.45 L349.8,98.45 L350,98.45 L350.2,98.45 L350.4,98.45 L350.6,98.45 L350.8,98.45 L351,98.45 L351.2,98.45 L351.4,98.45 L351.6,98.45 L351.8,98.45 L352,98.45 L352.2,98.45 L352.4,98.45 L352.6,98.45 L352.8,98.45 L353,98.45 L353.2,98.45 L353.4,98.45 L353.6,98.45 L353.8,98.45 L354,98.45 L354.2,98.45 L354.4,98.45 L354.6,98.45 L354.8,98.45 L355,98.45 L355.2,98.45 L355.4,98.45 L355.6,98.45 L355.8,98.45 L356,98.45 L356.2,98.45 L356.4,98.45 L356.6,98.45 L356.8,98.45 L357,98.45 L357.2,98.45 L357.4,98.45 L357.6,98.45 L357.8,98.45 L358,98.45 L358.2,98.45 L358.4,98.45 L358.6,98.45 L358.8,98.45 L359,98.45 L359.2,98.45 L359.4,98.45 L359.6,98.45 L359.8,98.45 L360,98.45 L360.2,98.45 L360.4,98.45 L360.6,98.45 L360.8,98.45 L361,98.45 L361.2,98.45 L361.4,98.45 L361.6,98.45 L361.8,98.45 L362,98.45 L362.2,98.45 L362.4,98.45 L362.6,98.45 L362.8,98.45 L363,98.45 L363.2,98.45 L363.4,98.45 L363.6,98.45 L363.8,98.45 L364,98.45 L364.2,98.45 L364.4,98.45 L364.6,98.45 L364.8,98.45 L365,98.45 L365.2,98.45 L365.4,98.45 L365.6,98.45 L365.8,98.45 L366,98.45 L366.2,98.45 L366.4,98.45 L366.6,98.45 L366.8,98.45 L367,98.45 L367.2,98.45 L367.4,98.45 L367.6,98.45 L367.8,98.45 L368,98.45 L368.2,98.45 L368.4,98.45 L368.6,98.45 L368.8,98.45 L369,98.45 L369.2,98.45 L369.4,98.45 L369.6,98.45 L369.8,98.45 L370,98.45 L370.2,98.45 L370.4,98.45 L370.6,98.45 L370.8,98.45 L371,98.45 L371.2,98.45 L371.4,98.45 L371.6,98.45 L371.8,98.45 L372,98.45 L372.2,98.45 L372.4,98.45 L372.6,98.45 L372.8,98.45 L373,98.45 L373.2,98.45 L373.4,98.45 L373.6,98.45 L373.8,98.45 L374,98.45 L374.2,98.45 L374.4,98.45 L374.6,98.45 L374.8,98.45 L375,98.45 L375.2,98.45 L375.4,98.45 L375.6,98.45 L375.8,98.45 L376,98.45 L376.2,98.44 L376.4,98.44 L376.6,98.44 L376.8,98.44 L377,98.44 L377.2,98.44 L377.4,98.44 L377.6,98.44 L377.8,98.44 L378,98.44 L378.2,98.44 L378.4,98.44 L378.6,98.44 L378.8,98.44 L379,98.44 L379.2,98.44 L379.4,98.44 L379.6,98.44 L379.8,98.44 L380,98.44 L380.2,98.44 L380.4,98.44 L380.6,98.44 L380.8,98.44 L381,98.44 L381.2,98.44 L381.4,98.44 L381.6,98.44 L381.8,98.44 L382,98.44 L382.2,98.44 L382.4,98.44 L382.6,98.44 L382.8,98.44 L383,98.44 L383.2,98.44 L383.4,98.44 L383.6,98.44 L383.8,98.44 L384,98.44 L384.2,98.44 L384.4,98.44 L384.6,98.44 L384.8,98.44 L385,98.44 L385.2,98.44 L385.4,98.44 L385.6,98.44 L385.8,98.44 L386,98.44 L386.2,98.44 L386.4,98.44 L386.6,98.44 L386.8,98.44 L387,98.44 L387.2,98.44 L387.4,98.44 L387.6,98.44 L387.8,98.44 L388,98.44 L388.2,98.44 L388.4,98.44 L388.6,98.44 L388.8,98.44 L389,98.44 L389.2,98.44 L389.4,98.44 L389.6,98.44 L389.8,98.44 L390,98.44 L390.2,98.43 L390.4,98.43 L390.6,98.43 L390.8,98.43 L391,98.43 L391.2,98.43 L391.4,98.43 L391.6,98.43 L391.8,98.43 L392,98.43 L392.2,98.43 L392.4,98.43 L392.6,98.43 L392.8,98.42 L393,98.42 L393.2,98.42 L393.4,98.42 L393.6,98.42 L393.8,98.41 L394,98.41 L394.2,98.41 L394.4,98.41 L394.6,98.4 L394.8,98.4 L395,98.39 L395.2,98.39 L395.4,98.38 L395.6,98.37 L395.8,98.36 L396,98.35 L396.2,98.34 L396.4,98.32 L396.6,98.3 L396.8,98.26 L397,98.22 L397.2,98.17 L397.4,98.08 L397.6,97.96 L397.8,97.76 L398,97.41 L398.2,96.73 L398.4,95.2 L398.6,91.4 L398.8,86.89 L399,91.4 L399.2,95.2 L399.4,96.73 L399.6,97.41 L399.8,97.76 L400,97.96 L400.2,98.08 L400.4,98.16 L400.6,98.22 L400.8,98.26 L401,98.29 L401.2,98.32 L401.4,98.33 L401.6,98.35 L401.8,98.36 L402,98.37 L402.2,98.38 L402.4,98.38 L402.6,98.39 L402.8,98.39 L403,98.4 L403.2,98.4 L403.4,98.4 L403.6,98.4 L403.8,98.41 L404,98.41 L404.2,98.41 L404.4,98.41 L404.6,98.41 L404.8,98.41 L405,98.41 L405.2,98.41 L405.4,98.41 L405.6,98.42 L405.8,98.42 L406,98.42 L406.2,98.42 L406.4,98.42 L406.6,98.41 L406.8,98.41 L407,98.41 L407.2,98.41 L407.4,98.41 L407.6,98.41 L407.8,98.41 L408,98.41 L408.2,98.41 L408.4,98.4 L408.6,98.4 L408.8,98.4 L409,98.4 L409.2,98.39 L409.4,98.39 L409.6,98.38 L409.8,98.38 L410,98.37 L410.2,98.36 L410.4,98.34 L410.6,98.33 L410.8,98.3 L411,98.27 L411.2,98.22 L411.4,98.14 L411.6,98.02 L411.8,97.79 L412,97.32 L412.2,96.17 L412.4,93.7 L412.5,92.95 L412.6,93.7 L412.8,96.16 L413,97.3 L413.2,97.76 L413.4,97.98 L413.6,98.09 L413.8,98.15 L414,98.18 L414.2,98.19 L414.4,98.18 L414.6,98.15 L414.8,98.09 L415,97.97 L415.2,97.75 L415.4,97.28 L415.6,96.14 L415.8,93.68 L415.9,92.93 L416,93.68 L416.2,96.14 L416.4,97.29 L416.6,97.76 L416.8,97.98 L417,98.1 L417.2,98.17 L417.4,98.21 L417.6,98.23 L417.8,98.25 L418,98.25 L418.2,98.25 L418.4,98.24 L418.6,98.22 L418.8,98.19 L419,98.15 L419.2,98.09 L419.4,98 L419.6,97.85 L419.8,97.6 L420,97.14 L420.2,96.17 L420.4,93.84 L420.6,88.8 L420.7,87.26 L420.8,88.8 L421,93.84 L421.2,96.18 L421.4,97.15 L421.6,97.61 L421.8,97.86 L422,98.01 L422.2,98.11 L422.4,98.17 L422.6,98.22 L422.8,98.25 L423,98.28 L423.2,98.29 L423.4,98.31 L423.6,98.32 L423.8,98.33 L424,98.34 L424.2,98.34 L424.4,98.34 L424.6,98.35 L424.8,98.35 L425,98.35 L425.2,98.35 L425.4,98.34 L425.6,98.34 L425.8,98.34 L426,98.33 L426.2,98.33 L426.4,98.32 L426.6,98.31 L426.8,98.29 L427,98.28 L427.2,98.25 L427.4,98.23 L427.6,98.19 L427.8,98.14 L428,98.07 L428.2,97.97 L428.4,97.81 L428.6,97.55 L428.8,97.08 L429,96.11 L429.2,93.79 L429.4,88.79 L429.5,87.26 L429.6,88.74 L429.8,93.6 L430,95.75 L430.2,96.43 L430.4,96.33 L430.6,95.22 L430.8,92.44 L430.9,91.6 L431,92.53 L431.2,95.51 L431.4,96.9 L431.6,97.49 L431.8,97.77 L432,97.93 L432.2,98.01 L432.4,98.06 L432.6,98.08 L432.8,98.07 L433,98.04 L433.2,97.96 L433.4,97.81 L433.6,97.49 L433.8,96.75 L434,94.9 L434.2,92.7 L434.4,94.91 L434.6,96.77 L434.8,97.53 L435,97.86 L435.2,98.03 L435.4,98.13 L435.6,98.19 L435.8,98.23 L436,98.26 L436.2,98.28 L436.4,98.29 L436.6,98.3 L436.8,98.31 L437,98.31 L437.2,98.32 L437.4,98.32 L437.6,98.31 L437.8,98.31 L438,98.3 L438.2,98.29 L438.4,98.28 L438.6,98.26 L438.8,98.24 L439,98.22 L439.2,98.18 L439.4,98.13 L439.6,98.05 L439.8,97.94 L440,97.77 L440.2,97.47 L440.4,96.91 L440.6,95.65 L440.8,92.59 L441,88.93 L441.2,92.37 L441.4,95.13 L441.6,95.88 L441.8,95.36 L442,93.02 L442.2,90.08 L442.4,93.28 L442.6,95.96 L442.8,97.06 L443,97.56 L443.2,97.82 L443.4,97.97 L443.6,98.07 L443.8,98.13 L444,98.17 L444.2,98.2 L444.4,98.22 L444.6,98.24 L444.8,98.24 L445,98.24 L445.2,98.23 L445.4,98.21 L445.6,98.17 L445.8,98.11 L446,98 L446.2,97.8 L446.4,97.36 L446.6,96.31 L446.8,94.03 L446.9,93.33 L447,94.03 L447.2,96.31 L447.4,97.37 L447.6,97.81 L447.8,98.02 L448,98.14 L448.2,98.2 L448.4,98.25 L448.6,98.28 L448.8,98.29 L449,98.31 L449.2,98.32 L449.4,98.32 L449.6,98.32 L449.8,98.32 L450,98.32 L450.2,98.32 L450.4,98.31 L450.6,98.3 L450.8,98.28 L451,98.26 L451.2,98.24 L451.4,98.2 L451.6,98.15 L451.8,98.07 L452,97.95 L452.2,97.76 L452.4,97.42 L452.6,96.77 L452.8,95.29 L453,91.62 L453.2,87.27 L453.4,91.62 L453.6,95.29 L453.8,96.77 L454,97.43 L454.2,97.76 L454.4,97.96 L454.6,98.08 L454.8,98.15 L455,98.21 L455.2,98.25 L455.4,98.28 L455.6,98.3 L455.8,98.31 L456,98.33 L456.2,98.34 L456.4,98.34 L456.6,98.35 L456.8,98.35 L457,98.35 L457.2,98.35 L457.4,98.35 L457.6,98.34 L457.8,98.33 L458,98.32 L458.2,98.3 L458.4,98.26 L458.6,98.2 L458.8,98.1 L459,97.89 L459.2,97.45 L459.4,96.7 L459.5,96.51 L459.6,96.68 L459.8,97.4 L460,97.8 L460.2,97.93 L460.4,97.91 L460.6,97.7 L460.8,97.19 L461,96.71 L461.2,97.23 L461.4,97.79 L461.6,98.06 L461.8,98.2 L462,98.27 L462.2,98.31 L462.4,98.34 L462.6,98.36 L462.8,98.37 L463,98.38 L463.2,98.39 L463.4,98.4 L463.6,98.4 L463.8,98.41 L464,98.41 L464.2,98.41 L464.4,98.41 L464.6,98.42 L464.8,98.42 L465,98.42 L465.2,98.42 L465.4,98.42 L465.6,98.42 L465.8,98.43 L466,98.43 L466.2,98.43 L466.4,98.43 L466.6,98.43 L466.8,98.43 L467,98.43 L467.2,98.43 L467.4,98.43 L467.6,98.43 L467.8,98.43 L468,98.43 L468.2,98.43 L468.4,98.43 L468.6,98.43 L468.8,98.43 L469,98.43 L469.2,98.43 L469.4,98.43 L469.6,98.43 L469.8,98.44 L470,98.44 L470.2,98.44 L470.4,98.44 L470.6,98.44 L470.8,98.44 L471,98.44 L471.2,98.44 L471.4,98.44 L471.6,98.44 L471.8,98.44 L472,98.44 L472.2,98.44 L472.4,98.44 L472.6,98.44 L472.8,98.44 L473,98.44 L473.2,98.44 L473.4,98.44 L473.6,98.44 L473.8,98.44 L474,98.44 L474.2,98.44 L474.4,98.44 L474.6,98.44 L474.8,98.44 L475,98.44 L475.2,98.44 L475.4,98.44 L475.6,98.44 L475.8,98.44 L476,98.44 L476.2,98.44 L476.4,98.44 L476.6,98.44 L476.8,98.44 L477,98.44 L477.2,98.44 L477.4,98.44 L477.6,98.44 L477.8,98.44 L478,98.44 L478.2,98.44 L478.4,98.44 L478.6,98.44 L478.8,98.44 L479,98.44 L479.2,98.44 L479.4,98.44 L479.6,98.44 L479.8,98.44 L480,98.44 L480.2,98.44 L480.4,98.44 L480.6,98.44 L480.8,98.44 L481,98.44 L481.2,98.44 L481.4,98.44 L481.6,98.44 L481.8,98.44 L482,98.44 L482.2,98.44 L482.4,98.44 L482.6,98.44 L482.8,98.44 L483,98.44 L483.2,98.44 L483.4,98.44 L483.6,98.44 L483.8,98.44 L484,98.44 L484.2,98.44 L484.4,98.44 L484.6,98.44 L484.8,98.44 L485,98.44 L485.2,98.44 L485.4,98.44 L485.6,98.44 L485.8,98.44 L486,98.44 L486.2,98.44 L486.4,98.44 L486.6,98.44 L486.8,98.44 L487,98.44 L487.2,98.44 L487.4,98.44 L487.6,98.44 L487.8,98.44 L488,98.44 L488.2,98.44 L488.4,98.44 L488.6,98.44 L488.8,98.44 L489,98.44 L489.2,98.44 L489.4,98.44 L489.6,98.44 L489.8,98.44 L490,98.44 L490.2,98.44 L490.4,98.44 L490.6,98.44 L490.8,98.44 L491,98.44 L491.2,98.44 L491.4,98.44 L491.6,98.44 L491.8,98.44 L492,98.44 L492.2,98.44 L492.4,98.44 L492.6,98.44 L492.8,98.44 L493,98.44 L493.2,98.44 L493.4,98.44 L493.6,98.44 L493.8,98.44 L494,98.44 L494.2,98.44 L494.4,98.44 L494.6,98.44 L494.8,98.44 L495,98.44 L495.2,98.44 L495.4,98.44 L495.6,98.44 L495.8,98.44 L496,98.44 L496.2,98.44 L496.4,98.44 L496.6,98.44 L496.8,98.44 L497,98.44 L497.2,98.44 L497.4,98.44 L497.6,98.44 L497.8,98.44 L498,98.44 L498.2,98.44 L498.4,98.44 L498.6,98.44 L498.8,98.44 L499,98.44 L499.2,98.44 L499.4,98.44 L499.6,98.44 L499.8,98.44 L500,98.44 L500.2,98.44 L500.4,98.44 L500.6,98.44 L500.8,98.44 L501,98.44 L501.2,98.44 L501.4,98.44 L501.6,98.44 L501.8,98.44 L502,98.44 L502.2,98.44 L502.4,98.44 L502.6,98.44 L502.8,98.44 L503,98.44 L503.2,98.44 L503.4,98.44 L503.6,98.44 L503.8,98.44 L504,98.44 L504.2,98.44 L504.4,98.44 L504.6,98.44 L504.8,98.44 L505,98.44 L505.2,98.44 L505.4,98.44 L505.6,98.44 L505.8,98.44 L506,98.44 L506.2,98.44 L506.4,98.44 L506.6,98.44 L506.8,98.44 L507,98.44 L507.2,98.43 L507.4,98.43 L507.6,98.43 L507.8,98.43 L508,98.43 L508.2,98.43 L508.4,98.43 L508.6,98.43 L508.8,98.43 L509,98.43 L509.2,98.43 L509.4,98.43 L509.6,98.43 L509.8,98.43 L510,98.43 L510.2,98.43 L510.4,98.43 L510.6,98.43 L510.8,98.43 L511,98.43 L511.2,98.43 L511.4,98.43 L511.6,98.43 L511.8,98.43 L512,98.43 L512.2,98.43 L512.4,98.43 L512.6,98.43 L512.8,98.43 L513,98.43 L513.2,98.43 L513.4,98.43 L513.6,98.43 L513.8,98.43 L514,98.43 L514.2,98.43 L514.4,98.43 L514.6,98.43 L514.8,98.43 L515,98.43 L515.2,98.43 L515.4,98.43 L515.6,98.43 L515.8,98.43 L516,98.43 L516.2,98.43 L516.4,98.43 L516.6,98.43 L516.8,98.43 L517,98.43 L517.2,98.43 L517.4,98.43 L517.6,98.43 L517.8,98.43 L518,98.43 L518.2,98.42 L518.4,98.42 L518.6,98.42 L518.8,98.42 L519,98.42 L519.2,98.42 L519.4,98.42 L519.6,98.42 L519.8,98.42 L520,98.42 L520.2,98.42 L520.4,98.42 L520.6,98.42 L520.8,98.42 L521,98.42 L521.2,98.42 L521.4,98.42 L521.6,98.41 L521.8,98.41 L522,98.41 L522.2,98.41 L522.4,98.41 L522.6,98.41 L522.8,98.41 L523,98.4 L523.2,98.4 L523.4,98.4 L523.6,98.4 L523.8,98.39 L524,98.39 L524.2,98.39 L524.4,98.38 L524.6,98.38 L524.8,98.37 L525,98.36 L525.2,98.35 L525.4,98.34 L525.6,98.33 L525.8,98.31 L526,98.28 L526.2,98.25 L526.4,98.2 L526.6,98.13 L526.8,98.03 L527,97.85 L527.2,97.54 L527.4,96.92 L527.6,95.59 L527.8,93.33 L527.9,92.77 L528,93.33 L528.2,95.59 L528.4,96.92 L528.6,97.54 L528.8,97.85 L529,98.02 L529.2,98.12 L529.4,98.19 L529.6,98.24 L529.8,98.27 L530,98.29 L530.2,98.31 L530.4,98.32 L530.6,98.33 L530.8,98.34 L531,98.35 L531.2,98.35 L531.4,98.35 L531.6,98.36 L531.8,98.36 L532,98.36 L532.2,98.36 L532.4,98.36 L532.6,98.36 L532.8,98.35 L533,98.35 L533.2,98.35 L533.4,98.34 L533.6,98.34 L533.8,98.33 L534,98.32 L534.2,98.32 L534.4,98.3 L534.6,98.29 L534.8,98.27 L535,98.25 L535.2,98.22 L535.4,98.19 L535.6,98.14 L535.8,98.07 L536,97.98 L536.2,97.85 L536.4,97.64 L536.6,97.3 L536.8,96.69 L537,95.48 L537.2,92.88 L537.4,88.46 L537.5,87.36 L537.6,88.46 L537.8,92.88 L538,95.48 L538.2,96.69 L538.4,97.3 L538.6,97.64 L538.8,97.85 L539,97.98 L539.2,98.07 L539.4,98.14 L539.6,98.18 L539.8,98.22 L540,98.25 L540.2,98.27 L540.4,98.29 L540.6,98.3 L540.8,98.31 L541,98.32 L541.2,98.33 L541.4,98.34 L541.6,98.34 L541.8,98.35 L542,98.35 L542.2,98.35 L542.4,98.36 L542.6,98.36 L542.8,98.36 L543,98.36 L543.2,98.37 L543.4,98.37 L543.6,98.37 L543.8,98.37 L544,98.37 L544.2,98.37 L544.4,98.37 L544.6,98.37 L544.8,98.37 L545,98.37 L545.2,98.37 L545.4,98.37 L545.6,98.37 L545.8,98.37 L546,98.37 L546.2,98.37 L546.4,98.37 L546.6,98.37 L546.8,98.37 L547,98.37 L547.2,98.37 L547.4,98.37 L547.6,98.37 L547.8,98.37 L548,98.37 L548.2,98.37 L548.4,98.37 L548.6,98.37 L548.8,98.37 L549,98.37 L549.2,98.36 L549.4,98.36 L549.6,98.36 L549.8,98.36 L550,98.36 L550.2,98.36 L550.4,98.36 L550.6,98.36 L550.8,98.36 L551,98.35 L551.2,98.35 L551.4,98.35 L551.6,98.35 L551.8,98.35 L552,98.35 L552.2,98.35 L552.4,98.34 L552.6,98.34 L552.8,98.34 L553,98.34 L553.2,98.34 L553.4,98.33 L553.6,98.33 L553.8,98.33 L554,98.33 L554.2,98.33 L554.4,98.32 L554.6,98.32 L554.8,98.32 L555,98.32 L555.2,98.31 L555.4,98.31 L555.6,98.31 L555.8,98.3 L556,98.3 L556.2,98.3 L556.4,98.29 L556.6,98.29 L556.8,98.29 L557,98.28 L557.2,98.28 L557.4,98.28 L557.6,98.27 L557.8,98.27 L558,98.26 L558.2,98.26 L558.4,98.25 L558.6,98.25 L558.8,98.24 L559,98.24 L559.2,98.23 L559.4,98.23 L559.6,98.22 L559.8,98.21 L560,98.21 L560.2,98.2 L560.4,98.19 L560.6,98.19 L560.8,98.18 L561,98.17 L561.2,98.16 L561.4,98.15 L561.6,98.14 L561.8,98.13 L562,98.12 L562.2,98.11 L562.4,98.1 L562.6,98.08 L562.8,98.07 L563,98.06 L563.2,98.04 L563.4,98.03 L563.6,98.01 L563.8,97.99 L564,97.97 L564.2,97.95 L564.4,97.93 L564.6,97.91 L564.8,97.88 L565,97.85 L565.2,97.83 L565.4,97.8 L565.6,97.76 L565.8,97.73 L566,97.69 L566.2,97.65 L566.4,97.6 L566.6,97.55 L566.8,97.5 L567,97.44 L567.2,97.38 L567.4,97.3 L567.6,97.23 L567.8,97.14 L568,97.04 L568.2,96.94 L568.4,96.82 L568.6,96.68 L568.8,96.53 L569,96.36 L569.2,96.17 L569.4,95.94 L569.6,95.68 L569.8,95.38 L570,95.03 L570.2,94.61 L570.4,94.12 L570.6,93.52 L570.8,92.8 L571,91.9 L571.2,90.79 L571.4,89.39 L571.6,87.58 L571.8,85.22 L572,82.07 L572.2,77.82 L572.4,72.02 L572.6,64.12 L572.8,53.7 L573,41.32 L573.2,29.95 L573.4,25.08 L573.6,29.95 L573.8,41.32 L574,53.7 L574.2,64.11 L574.4,72.02 L574.6,77.82 L574.8,82.07 L575,85.21 L575.2,87.57 L575.4,89.38 L575.6,90.79 L575.8,91.9 L576,92.79 L576.2,93.51 L576.4,94.11 L576.6,94.6 L576.8,95.02 L577,95.37 L577.2,95.67 L577.4,95.93 L577.6,96.15 L577.8,96.35 L578,96.52 L578.2,96.67 L578.4,96.8 L578.6,96.92 L578.8,97.03 L579,97.12 L579.2,97.21 L579.4,97.29 L579.6,97.36 L579.8,97.42 L580,97.48 L580.2,97.53 L580.4,97.58 L580.6,97.62 L580.8,97.66 L581,97.7 L581.2,97.73 L581.4,97.77 L581.6,97.8 L581.8,97.82 L582,97.85 L582.2,97.87 L582.4,97.9 L582.6,97.92 L582.8,97.93 L583,97.95 L583.2,97.97 L583.4,97.98 L583.6,98 L583.8,98.01 L584,98.03 L584.2,98.04 L584.4,98.05 L584.6,98.06 L584.8,98.07 L585,98.08 L585.2,98.08 L585.4,98.09 L585.6,98.1 L585.8,98.11 L586,98.11 L586.2,98.12 L586.4,98.12 L586.6,98.13 L586.8,98.13 L587,98.13 L587.2,98.13 L587.4,98.14 L587.6,98.14 L587.8,98.14 L588,98.14 L588.2,98.13 L588.4,98.13 L588.6,98.12 L588.8,98.11 L589,98.1 L589.2,98.07 L589.4,98.04 L589.6,97.98 L589.8,97.88 L590,97.67 L590.2,97.24 L590.4,96.49 L590.5,96.31 L590.6,96.49 L590.8,97.22 L591,97.65 L591.2,97.85 L591.4,97.95 L591.6,98 L591.8,98.02 L592,98.03 L592.2,98.04 L592.4,98.03 L592.6,98.02 L592.8,98.01 L593,97.99 L593.2,97.97 L593.4,97.93 L593.6,97.89 L593.8,97.84 L594,97.77 L594.2,97.67 L594.4,97.52 L594.6,97.3 L594.8,96.93 L595,96.24 L595.2,94.84 L595.4,91.93 L595.6,89.24 L595.8,91.86 L596,94.7 L596.2,96.04 L596.4,96.64 L596.6,96.93 L596.8,97.07 L597,97.11 L597.2,97.1 L597.4,97.04 L597.6,96.94 L597.8,96.8 L598,96.62 L598.2,96.38 L598.4,96.06 L598.6,95.64 L598.8,95.09 L599,94.34 L599.2,93.28 L599.4,91.73 L599.6,89.36 L599.8,85.52 L600,78.84 L600.2,66.28 L600.4,42.16 L600.6,8.24 L600.7,0.89 L600.8,8.25 L601,42.17 L601.2,66.3 L601.4,78.86 L601.6,85.55 L601.8,89.39 L602,91.76 L602.2,93.32 L602.4,94.39 L602.6,95.15 L602.8,95.72 L603,96.15 L603.2,96.48 L603.4,96.74 L603.6,96.95 L603.8,97.13 L604,97.27 L604.2,97.39 L604.4,97.49 L604.6,97.57 L604.8,97.64 L605,97.7 L605.2,97.76 L605.4,97.8 L605.6,97.84 L605.8,97.88 L606,97.91 L606.2,97.93 L606.4,97.95 L606.6,97.97 L606.8,97.98 L607,97.99 L607.2,98 L607.4,98 L607.6,98 L607.8,97.99 L608,97.97 L608.2,97.94 L608.4,97.89 L608.6,97.83 L608.8,97.73 L609,97.57 L609.2,97.32 L609.4,96.88 L609.6,96.1 L609.8,94.75 L610,93.11 L610.1,92.79 L610.2,93.12 L610.4,94.76 L610.6,96.13 L610.8,96.92 L611,97.36 L611.2,97.63 L611.4,97.8 L611.6,97.91 L611.8,97.99 L612,98.04 L612.2,98.09 L612.4,98.12 L612.6,98.14 L612.8,98.16 L613,98.18 L613.2,98.19 L613.4,98.2 L613.6,98.21 L613.8,98.22 L614,98.23 L614.2,98.23 L614.4,98.23 L614.6,98.24 L614.8,98.24 L615,98.24 L615.2,98.24 L615.4,98.24 L615.6,98.24 L615.8,98.24 L616,98.23 L616.2,98.23 L616.4,98.23 L616.6,98.22 L616.8,98.22 L617,98.21 L617.2,98.2 L617.4,98.19 L617.6,98.18 L617.8,98.17 L618,98.15 L618.2,98.14 L618.4,98.12 L618.6,98.1 L618.8,98.07 L619,98.05 L619.2,98.01 L619.4,97.97 L619.6,97.93 L619.8,97.87 L620,97.8 L620.2,97.72 L620.4,97.62 L620.6,97.49 L620.8,97.33 L621,97.11 L621.2,96.83 L621.4,96.43 L621.6,95.86 L621.8,94.99 L622,93.62 L622.2,91.24 L622.4,86.68 L622.6,76.88 L622.8,55.09 L623,33.01 L623.2,55.09 L623.4,76.87 L623.6,86.67 L623.8,91.23 L624,93.6 L624.2,94.98 L624.4,95.84 L624.6,96.4 L624.8,96.8 L625,97.08 L625.2,97.29 L625.4,97.45 L625.6,97.57 L625.8,97.67 L626,97.74 L626.2,97.8 L626.4,97.84 L626.6,97.88 L626.8,97.9 L627,97.92 L627.2,97.93 L627.4,97.93 L627.6,97.92 L627.8,97.9 L628,97.86 L628.2,97.82 L628.4,97.75 L628.6,97.64 L628.8,97.5 L629,97.29 L629.2,96.96 L629.4,96.44 L629.6,95.53 L629.8,93.82 L630,90.23 L630.2,82.78 L630.4,75.87 L630.6,82.79 L630.8,90.25 L631,93.85 L631.2,95.57 L631.4,96.49 L631.6,97.03 L631.8,97.37 L632,97.59 L632.2,97.75 L632.4,97.87 L632.6,97.95 L632.8,98.02 L633,98.07 L633.2,98.11 L633.4,98.15 L633.6,98.18 L633.8,98.2 L634,98.22 L634.2,98.24 L634.4,98.25 L634.6,98.27 L634.8,98.28 L635,98.29 L635.2,98.3 L635.4,98.3 L635.6,98.31 L635.8,98.32 L636,98.32 L636.2,98.33 L636.4,98.33 L636.6,98.33 L636.8,98.34 L637,98.34 L637.2,98.34 L637.4,98.35 L637.6,98.35 L637.8,98.35 L638,98.35 L638.2,98.35 L638.4,98.35 L638.6,98.35 L638.8,98.35 L639,98.34 L639.2,98.34 L639.4,98.33 L639.6,98.32 L639.8,98.31 L640,98.29 L640.2,98.26 L640.4,98.21 L640.6,98.13 L640.8,97.98 L641,97.67 L641.2,97.02 L641.4,96.42 L641.6,97.02 L641.8,97.66 L642,97.97 L642.2,98.11 L642.4,98.18 L642.6,98.21 L642.8,98.22 L643,98.22 L643.2,98.2 L643.4,98.16 L643.6,98.08 L643.8,97.94 L644,97.67 L644.2,97.11 L644.4,95.93 L644.6,94.85 L644.8,95.94 L645,97.12 L645.2,97.69 L645.4,97.97 L645.6,98.11 L645.8,98.2 L646,98.25 L646.2,98.29 L646.4,98.31 L646.6,98.33 L646.8,98.35 L647,98.36 L647.2,98.37 L647.4,98.37 L647.6,98.38 L647.8,98.38 L648,98.39 L648.2,98.39 L648.4,98.4 L648.6,98.4 L648.8,98.4 L649,98.4 L649.2,98.4 L649.4,98.41 L649.6,98.41 L649.8,98.41 L650,98.41 L650.2,98.41 L650.4,98.41 L650.6,98.41 L650.8,98.41 L651,98.41 L651.2,98.42 L651.4,98.42 L651.6,98.42 L651.8,98.42 L652,98.42 L652.2,98.42 L652.4,98.42 L652.6,98.42 L652.8,98.42 L653,98.42 L653.2,98.42 L653.4,98.42 L653.6,98.42 L653.8,98.42 L654,98.42 L654.2,98.42 L654.4,98.42 L654.6,98.42 L654.8,98.42 L655,98.42 L655.2,98.42 L655.4,98.43 L655.6,98.43 L655.8,98.43 L656,98.43 L656.2,98.43 L656.4,98.43 L656.6,98.43 L656.8,98.43 L657,98.43 L657.2,98.43 L657.4,98.43 L657.6,98.43 L657.8,98.43 L658,98.43 L658.2,98.43 L658.4,98.43 L658.6,98.43 L658.8,98.43 L659,98.43 L659.2,98.43 L659.4,98.43 L659.6,98.43 L659.8,98.43 L660,98.43 L660.2,98.43 L660.4,98.43 L660.6,98.43 L660.8,98.43 L661,98.43 L661.2,98.43 L661.4,98.43 L661.6,98.43 L661.8,98.43 L662,98.43 L662.2,98.43 L662.4,98.43 L662.6,98.43 L662.8,98.43 L663,98.43 L663.2,98.43 L663.4,98.43 L663.6,98.43 L663.8,98.43 L664,98.43 L664.2,98.43 L664.4,98.43 L664.6,98.43 L664.8,98.43 L665,98.43 L665.2,98.43 L665.4,98.43 L665.6,98.43 L665.8,98.43 L666,98.43 L666.2,98.43 L666.4,98.43 L666.6,98.43 L666.8,98.43 L667,98.43 L667.2,98.43 L667.4,98.43 L667.6,98.43 L667.8,98.43 L668,98.43 L668.2,98.43 L668.4,98.43 L668.6,98.43 L668.8,98.43 L669,98.43 L669.2,98.42 L669.4,98.42 L669.6,98.42 L669.8,98.42 L670,98.42 L670.2,98.42 L670.4,98.42 L670.6,98.42 L670.8,98.42 L671,98.42 L671.2,98.42 L671.4,98.42 L671.6,98.41 L671.8,98.41 L672,98.41 L672.2,98.41 L672.4,98.41 L672.6,98.41 L672.8,98.4 L673,98.4 L673.2,98.4 L673.4,98.4 L673.6,98.39 L673.8,98.39 L674,98.38 L674.2,98.38 L674.4,98.37 L674.6,98.37 L674.8,98.36 L675,98.35 L675.2,98.34 L675.4,98.32 L675.6,98.31 L675.8,98.28 L676,98.26 L676.2,98.23 L676.4,98.19 L676.6,98.13 L676.8,98.05 L677,97.95 L677.2,97.79 L677.4,97.54 L677.6,97.13 L677.8,96.38 L678,94.79 L678.2,90.96 L678.4,82.71 L678.5,80.19 L678.6,82.71 L678.8,90.96 L679,94.79 L679.2,96.38 L679.4,97.13 L679.6,97.54 L679.8,97.79 L680,97.95 L680.2,98.05 L680.4,98.13 L680.6,98.19 L680.8,98.23 L681,98.26 L681.2,98.29 L681.4,98.31 L681.6,98.32 L681.8,98.34 L682,98.35 L682.2,98.36 L682.4,98.37 L682.6,98.37 L682.8,98.38 L683,98.39 L683.2,98.39 L683.4,98.39" stroke="#1f1fff" stroke-width="1.15" fill="none" stroke-linejoin="round"/>
<path d="M315.8,202.1 L316,202.1 L316.2,202.1 L316.4,202.1 L316.6,202.1 L316.8,202.1 L317,202.1 L317.2,202.1 L317.4,202.1 L317.6,202.1 L317.8,202.1 L318,202.1 L318.2,202.1 L318.4,202.1 L318.6,202.1 L318.8,202.1 L319,202.1 L319.2,202.1 L319.4,202.1 L319.6,202.1 L319.8,202.1 L320,202.1 L320.2,202.1 L320.4,202.1 L320.6,202.1 L320.8,202.1 L321,202.1 L321.2,202.1 L321.4,202.1 L321.6,202.1 L321.8,202.1 L322,202.1 L322.2,202.1 L322.4,202.1 L322.6,202.1 L322.8,202.1 L323,202.1 L323.2,202.1 L323.4,202.1 L323.6,202.1 L323.8,202.1 L324,202.1 L324.2,202.1 L324.4,202.1 L324.6,202.1 L324.8,202.1 L325,202.1 L325.2,202.1 L325.4,202.1 L325.6,202.1 L325.8,202.1 L326,202.1 L326.2,202.1 L326.4,202.1 L326.6,202.1 L326.8,202.1 L327,202.1 L327.2,202.1 L327.4,202.1 L327.6,202.1 L327.8,202.1 L328,202.1 L328.2,202.1 L328.4,202.1 L328.6,202.1 L328.8,202.1 L329,202.1 L329.2,202.1 L329.4,202.1 L329.6,202.1 L329.8,202.1 L330,202.1 L330.2,202.1 L330.4,202.1 L330.6,202.1 L330.8,202.1 L331,202.1 L331.2,202.1 L331.4,202.1 L331.6,202.1 L331.8,202.1 L332,202.1 L332.2,202.1 L332.4,202.1 L332.6,202.1 L332.8,202.1 L333,202.1 L333.2,202.1 L333.4,202.1 L333.6,202.1 L333.8,202.1 L334,202.1 L334.2,202.1 L334.4,202.1 L334.6,202.1 L334.8,202.1 L335,202.1 L335.2,202.1 L335.4,202.1 L335.6,202.1 L335.8,202.1 L336,202.1 L336.2,202.1 L336.4,202.1 L336.6,202.1 L336.8,202.1 L337,202.1 L337.2,202.1 L337.4,202.1 L337.6,202.1 L337.8,202.1 L338,202.1 L338.2,202.1 L338.4,202.1 L338.6,202.1 L338.8,202.1 L339,202.1 L339.2,202.1 L339.4,202.1 L339.6,202.1 L339.8,202.1 L340,202.1 L340.2,202.1 L340.4,202.1 L340.6,202.1 L340.8,202.1 L341,202.1 L341.2,202.1 L341.4,202.1 L341.6,202.1 L341.8,202.1 L342,202.1 L342.2,202.1 L342.4,202.1 L342.6,202.1 L342.8,202.1 L343,202.1 L343.2,202.1 L343.4,202.1 L343.6,202.1 L343.8,202.1 L344,202.1 L344.2,202.1 L344.4,202.1 L344.6,202.1 L344.8,202.1 L345,202.1 L345.2,202.1 L345.4,202.1 L345.6,202.1 L345.8,202.1 L346,202.1 L346.2,202.1 L346.4,202.1 L346.6,202.1 L346.8,202.1 L347,202.1 L347.2,202.1 L347.4,202.1 L347.6,202.1 L347.8,202.1 L348,202.1 L348.2,202.1 L348.4,202.1 L348.6,202.1 L348.8,202.1 L349,202.1 L349.2,202.1 L349.4,202.1 L349.6,202.1 L349.8,202.1 L350,202.1 L350.2,202.1 L350.4,202.1 L350.6,202.1 L350.8,202.1 L351,202.1 L351.2,202.1 L351.4,202.1 L351.6,202.1 L351.8,202.1 L352,202.1 L352.2,202.1 L352.4,202.1 L352.6,202.1 L352.8,202.1 L353,202.1 L353.2,202.1 L353.4,202.1 L353.6,202.1 L353.8,202.1 L354,202.1 L354.2,202.1 L354.4,202.1 L354.6,202.1 L354.8,202.1 L355,202.1 L355.2,202.1 L355.4,202.1 L355.6,202.1 L355.8,202.1 L356,202.1 L356.2,202.1 L356.4,202.1 L356.6,202.1 L356.8,202.1 L357,202.1 L357.2,202.1 L357.4,202.1 L357.6,202.1 L357.8,202.1 L358,202.1 L358.2,202.1 L358.4,202.1 L358.6,202.1 L358.8,202.1 L359,202.1 L359.2,202.1 L359.4,202.1 L359.6,202.1 L359.8,202.1 L360,202.1 L360.2,202.1 L360.4,202.1 L360.6,202.1 L360.8,202.1 L361,202.1 L361.2,202.1 L361.4,202.1 L361.6,202.1 L361.8,202.1 L362,202.1 L362.2,202.1 L362.4,202.1 L362.6,202.1 L362.8,202.1 L363,202.1 L363.2,202.1 L363.4,202.1 L363.6,202.1 L363.8,202.1 L364,202.1 L364.2,202.1 L364.4,202.1 L364.6,202.1 L364.8,202.1 L365,202.1 L365.2,202.1 L365.4,202.1 L365.6,202.1 L365.8,202.1 L366,202.1 L366.2,202.1 L366.4,202.1 L366.6,202.1 L366.8,202.1 L367,202.1 L367.2,202.1 L367.4,202.1 L367.6,202.1 L367.8,202.1 L368,202.1 L368.2,202.1 L368.4,202.1 L368.6,202.1 L368.8,202.1 L369,202.1 L369.2,202.1 L369.4,202.1 L369.6,202.1 L369.8,202.1 L370,202.1 L370.2,202.1 L370.4,202.1 L370.6,202.1 L370.8,202.1 L371,202.1 L371.2,202.1 L371.4,202.1 L371.6,202.1 L371.8,202.1 L372,202.1 L372.2,202.1 L372.4,202.1 L372.6,202.1 L372.8,202.1 L373,202.1 L373.2,202.1 L373.4,202.1 L373.6,202.1 L373.8,202.1 L374,202.1 L374.2,202.1 L374.4,202.1 L374.6,202.1 L374.8,202.1 L375,202.1 L375.2,202.1 L375.4,202.1 L375.6,202.1 L375.8,202.1 L376,202.1 L376.2,202.1 L376.4,202.1 L376.6,202.1 L376.8,202.1 L377,202.1 L377.2,202.1 L377.4,202.1 L377.6,202.1 L377.8,202.1 L378,202.1 L378.2,202.1 L378.4,202.1 L378.6,202.1 L378.8,202.1 L379,202.1 L379.2,202.1 L379.4,202.1 L379.6,202.1 L379.8,202.1 L380,202.1 L380.2,202.1 L380.4,202.1 L380.6,202.1 L380.8,202.1 L381,202.1 L381.2,202.1 L381.4,202.09 L381.6,202.09 L381.8,202.09 L382,202.09 L382.2,202.09 L382.4,202.09 L382.6,202.09 L382.8,202.09 L383,202.09 L383.2,202.09 L383.4,202.09 L383.6,202.09 L383.8,202.09 L384,202.09 L384.2,202.09 L384.4,202.09 L384.6,202.09 L384.8,202.09 L385,202.09 L385.2,202.09 L385.4,202.09 L385.6,202.09 L385.8,202.09 L386,202.09 L386.2,202.09 L386.4,202.09 L386.6,202.09 L386.8,202.09 L387,202.09 L387.2,202.09 L387.4,202.09 L387.6,202.09 L387.8,202.09 L388,202.09 L388.2,202.09 L388.4,202.09 L388.6,202.09 L388.8,202.09 L389,202.09 L389.2,202.09 L389.4,202.09 L389.6,202.09 L389.8,202.09 L390,202.09 L390.2,202.09 L390.4,202.09 L390.6,202.09 L390.8,202.09 L391,202.09 L391.2,202.09 L391.4,202.09 L391.6,202.09 L391.8,202.09 L392,202.09 L392.2,202.09 L392.4,202.09 L392.6,202.09 L392.8,202.09 L393,202.09 L393.2,202.09 L393.4,202.09 L393.6,202.08 L393.8,202.08 L394,202.08 L394.2,202.08 L394.4,202.08 L394.6,202.08 L394.8,202.08 L395,202.08 L395.2,202.08 L395.4,202.08 L395.6,202.08 L395.8,202.08 L396,202.07 L396.2,202.07 L396.4,202.07 L396.6,202.07 L396.8,202.07 L397,202.06 L397.2,202.06 L397.4,202.06 L397.6,202.06 L397.8,202.05 L398,202.05 L398.2,202.04 L398.4,202.04 L398.6,202.03 L398.8,202.02 L399,202.01 L399.2,202 L399.4,201.99 L399.6,201.97 L399.8,201.95 L400,201.92 L400.2,201.88 L400.4,201.82 L400.6,201.75 L400.8,201.64 L401,201.47 L401.2,201.18 L401.4,200.65 L401.6,199.53 L401.8,196.85 L402,191.06 L402.1,189.29 L402.2,191.06 L402.4,196.85 L402.6,199.53 L402.8,200.65 L403,201.18 L403.2,201.47 L403.4,201.64 L403.6,201.75 L403.8,201.82 L404,201.88 L404.2,201.92 L404.4,201.94 L404.6,201.97 L404.8,201.99 L405,202 L405.2,202.01 L405.4,202.02 L405.6,202.03 L405.8,202.04 L406,202.04 L406.2,202.05 L406.4,202.05 L406.6,202.05 L406.8,202.06 L407,202.06 L407.2,202.06 L407.4,202.06 L407.6,202.07 L407.8,202.07 L408,202.07 L408.2,202.07 L408.4,202.07 L408.6,202.07 L408.8,202.07 L409,202.08 L409.2,202.08 L409.4,202.08 L409.6,202.08 L409.8,202.08 L410,202.08 L410.2,202.08 L410.4,202.08 L410.6,202.08 L410.8,202.08 L411,202.08 L411.2,202.08 L411.4,202.08 L411.6,202.08 L411.8,202.08 L412,202.08 L412.2,202.08 L412.4,202.08 L412.6,202.08 L412.8,202.08 L413,202.08 L413.2,202.08 L413.4,202.08 L413.6,202.08 L413.8,202.08 L414,202.08 L414.2,202.08 L414.4,202.08 L414.6,202.08 L414.8,202.08 L415,202.08 L415.2,202.08 L415.4,202.08 L415.6,202.08 L415.8,202.08 L416,202.08 L416.2,202.08 L416.4,202.08 L416.6,202.08 L416.8,202.08 L417,202.08 L417.2,202.08 L417.4,202.08 L417.6,202.08 L417.8,202.08 L418,202.08 L418.2,202.08 L418.4,202.08 L418.6,202.08 L418.8,202.08 L419,202.08 L419.2,202.07 L419.4,202.07 L419.6,202.07 L419.8,202.07 L420,202.07 L420.2,202.07 L420.4,202.07 L420.6,202.07 L420.8,202.06 L421,202.06 L421.2,202.06 L421.4,202.06 L421.6,202.06 L421.8,202.05 L422,202.05 L422.2,202.05 L422.4,202.04 L422.6,202.04 L422.8,202.03 L423,202.02 L423.2,202.01 L423.4,202 L423.6,201.99 L423.8,201.98 L424,201.96 L424.2,201.93 L424.4,201.9 L424.6,201.86 L424.8,201.8 L425,201.71 L425.2,201.58 L425.4,201.37 L425.6,201.01 L425.8,200.29 L426,198.69 L426.2,194.71 L426.4,189.98 L426.6,194.71 L426.8,198.68 L427,200.29 L427.2,201.01 L427.4,201.37 L427.6,201.58 L427.8,201.71 L428,201.79 L428.2,201.85 L428.4,201.89 L428.6,201.92 L428.8,201.95 L429,201.97 L429.2,201.98 L429.4,201.99 L429.6,202 L429.8,202.01 L430,202.01 L430.2,202.02 L430.4,202.02 L430.6,202.02 L430.8,202.02 L431,202.02 L431.2,202.02 L431.4,202.02 L431.6,202.02 L431.8,202.02 L432,202.01 L432.2,202.01 L432.4,202 L432.6,201.99 L432.8,201.98 L433,201.96 L433.2,201.94 L433.4,201.91 L433.6,201.87 L433.8,201.8 L434,201.7 L434.2,201.53 L434.4,201.21 L434.6,200.55 L434.8,198.96 L435,195.52 L435.1,194.47 L435.2,195.52 L435.4,198.96 L435.6,200.55 L435.8,201.21 L436,201.53 L436.2,201.7 L436.4,201.8 L436.6,201.87 L436.8,201.91 L437,201.94 L437.2,201.97 L437.4,201.98 L437.6,202 L437.8,202.01 L438,202.01 L438.2,202.02 L438.4,202.02 L438.6,202.03 L438.8,202.03 L439,202.03 L439.2,202.04 L439.4,202.04 L439.6,202.04 L439.8,202.04 L440,202.04 L440.2,202.04 L440.4,202.03 L440.6,202.03 L440.8,202.03 L441,202.03 L441.2,202.02 L441.4,202.02 L441.6,202.01 L441.8,202.01 L442,202 L442.2,201.98 L442.4,201.97 L442.6,201.95 L442.8,201.92 L443,201.88 L443.2,201.82 L443.4,201.72 L443.6,201.57 L443.8,201.28 L444,200.68 L444.2,199.23 L444.4,196.11 L444.5,195.16 L444.6,196.11 L444.8,199.23 L445,200.68 L445.2,201.28 L445.4,201.56 L445.6,201.72 L445.8,201.81 L446,201.86 L446.2,201.9 L446.4,201.93 L446.6,201.95 L446.8,201.96 L447,201.97 L447.2,201.98 L447.4,201.98 L447.6,201.99 L447.8,201.99 L448,201.99 L448.2,201.99 L448.4,201.99 L448.6,201.98 L448.8,201.98 L449,201.97 L449.2,201.96 L449.4,201.95 L449.6,201.94 L449.8,201.93 L450,201.91 L450.2,201.88 L450.4,201.85 L450.6,201.81 L450.8,201.75 L451,201.67 L451.2,201.54 L451.4,201.33 L451.6,200.95 L451.8,200.17 L452,198.29 L452.2,194.24 L452.3,193.01 L452.4,194.22 L452.6,198.22 L452.8,200.06 L453,200.79 L453.2,201.1 L453.4,201.23 L453.6,201.25 L453.8,201.18 L454,201 L454.2,200.65 L454.4,199.93 L454.6,198.32 L454.8,194.37 L455,189.64 L455.2,194.05 L455.4,197.59 L455.6,198.48 L455.8,197.68 L456,194.34 L456.2,190.16 L456.4,194.54 L456.6,198.14 L456.8,199.46 L457,199.78 L457.2,199.35 L457.4,197.69 L457.6,193.79 L457.7,192.59 L457.8,193.81 L458,197.72 L458.2,199.39 L458.4,199.74 L458.6,199.13 L458.8,196.85 L459,194.02 L459.2,197.08 L459.4,199.64 L459.6,200.7 L459.8,201.19 L460,201.44 L460.2,201.6 L460.4,201.7 L460.6,201.77 L460.8,201.82 L461,201.85 L461.2,201.88 L461.4,201.91 L461.6,201.92 L461.8,201.94 L462,201.95 L462.2,201.96 L462.4,201.97 L462.6,201.98 L462.8,201.98 L463,201.99 L463.2,201.99 L463.4,202 L463.6,202 L463.8,202 L464,202 L464.2,202 L464.4,202 L464.6,202 L464.8,202 L465,202 L465.2,202 L465.4,201.99 L465.6,201.99 L465.8,201.98 L466,201.97 L466.2,201.96 L466.4,201.94 L466.6,201.92 L466.8,201.9 L467,201.86 L467.2,201.8 L467.4,201.72 L467.6,201.58 L467.8,201.34 L468,200.88 L468.2,199.84 L468.4,197.27 L468.6,194.22 L468.8,197.26 L469,199.81 L469.2,200.84 L469.4,201.28 L469.6,201.5 L469.8,201.6 L470,201.65 L470.2,201.64 L470.4,201.59 L470.6,201.46 L470.8,201.2 L471,200.61 L471.2,199.18 L471.4,196.07 L471.5,195.12 L471.6,196.08 L471.8,199.2 L472,200.66 L472.2,201.26 L472.4,201.55 L472.6,201.71 L472.8,201.81 L473,201.87 L473.2,201.91 L473.4,201.94 L473.6,201.97 L473.8,201.98 L474,202 L474.2,202.01 L474.4,202.02 L474.6,202.02 L474.8,202.03 L475,202.04 L475.2,202.04 L475.4,202.04 L475.6,202.05 L475.8,202.05 L476,202.05 L476.2,202.06 L476.4,202.06 L476.6,202.06 L476.8,202.06 L477,202.06 L477.2,202.06 L477.4,202.07 L477.6,202.07 L477.8,202.07 L478,202.07 L478.2,202.07 L478.4,202.07 L478.6,202.07 L478.8,202.07 L479,202.07 L479.2,202.07 L479.4,202.07 L479.6,202.07 L479.8,202.07 L480,202.07 L480.2,202.08 L480.4,202.08 L480.6,202.08 L480.8,202.08 L481,202.08 L481.2,202.08 L481.4,202.08 L481.6,202.08 L481.8,202.08 L482,202.08 L482.2,202.08 L482.4,202.08 L482.6,202.08 L482.8,202.08 L483,202.08 L483.2,202.08 L483.4,202.08 L483.6,202.08 L483.8,202.08 L484,202.08 L484.2,202.08 L484.4,202.08 L484.6,202.08 L484.8,202.08 L485,202.08 L485.2,202.08 L485.4,202.08 L485.6,202.08 L485.8,202.08 L486,202.08 L486.2,202.08 L486.4,202.08 L486.6,202.08 L486.8,202.08 L487,202.08 L487.2,202.08 L487.4,202.08 L487.6,202.08 L487.8,202.08 L488,202.08 L488.2,202.08 L488.4,202.08 L488.6,202.08 L488.8,202.08 L489,202.08 L489.2,202.08 L489.4,202.07 L489.6,202.07 L489.8,202.07 L490,202.07 L490.2,202.07 L490.4,202.07 L490.6,202.07 L490.8,202.07 L491,202.07 L491.2,202.06 L491.4,202.06 L491.6,202.06 L491.8,202.06 L492,202.05 L492.2,202.05 L492.4,202.05 L492.6,202.04 L492.8,202.03 L493,202.03 L493.2,202.02 L493.4,202 L493.6,201.99 L493.8,201.96 L494,201.93 L494.2,201.88 L494.4,201.82 L494.6,201.7 L494.8,201.51 L495,201.12 L495.2,200.26 L495.4,198.12 L495.6,195.59 L495.8,198.12 L496,200.26 L496.2,201.12 L496.4,201.51 L496.6,201.7 L496.8,201.81 L497,201.88 L497.2,201.93 L497.4,201.96 L497.6,201.99 L497.8,202 L498,202.02 L498.2,202.03 L498.4,202.03 L498.6,202.04 L498.8,202.05 L499,202.05 L499.2,202.05 L499.4,202.06 L499.6,202.06 L499.8,202.06 L500,202.06 L500.2,202.07 L500.4,202.07 L500.6,202.07 L500.8,202.07 L501,202.07 L501.2,202.07 L501.4,202.07 L501.6,202.07 L501.8,202.07 L502,202.07 L502.2,202.08 L502.4,202.08 L502.6,202.08 L502.8,202.08 L503,202.08 L503.2,202.08 L503.4,202.08 L503.6,202.08 L503.8,202.08 L504,202.08 L504.2,202.08 L504.4,202.08 L504.6,202.08 L504.8,202.08 L505,202.08 L505.2,202.08 L505.4,202.08 L505.6,202.08 L505.8,202.08 L506,202.08 L506.2,202.08 L506.4,202.08 L506.6,202.08 L506.8,202.08 L507,202.08 L507.2,202.08 L507.4,202.08 L507.6,202.08 L507.8,202.08 L508,202.08 L508.2,202.08 L508.4,202.08 L508.6,202.08 L508.8,202.08 L509,202.08 L509.2,202.08 L509.4,202.08 L509.6,202.08 L509.8,202.08 L510,202.08 L510.2,202.08 L510.4,202.08 L510.6,202.08 L510.8,202.08 L511,202.08 L511.2,202.08 L511.4,202.08 L511.6,202.08 L511.8,202.08 L512,202.08 L512.2,202.08 L512.4,202.08 L512.6,202.08 L512.8,202.08 L513,202.08 L513.2,202.08 L513.4,202.08 L513.6,202.08 L513.8,202.08 L514,202.08 L514.2,202.08 L514.4,202.08 L514.6,202.08 L514.8,202.08 L515,202.08 L515.2,202.08 L515.4,202.08 L515.6,202.08 L515.8,202.08 L516,202.08 L516.2,202.08 L516.4,202.08 L516.6,202.08 L516.8,202.08 L517,202.08 L517.2,202.08 L517.4,202.08 L517.6,202.08 L517.8,202.08 L518,202.08 L518.2,202.08 L518.4,202.08 L518.6,202.08 L518.8,202.08 L519,202.08 L519.2,202.07 L519.4,202.07 L519.6,202.07 L519.8,202.07 L520,202.07 L520.2,202.07 L520.4,202.07 L520.6,202.07 L520.8,202.07 L521,202.07 L521.2,202.07 L521.4,202.07 L521.6,202.07 L521.8,202.07 L522,202.07 L522.2,202.07 L522.4,202.07 L522.6,202.07 L522.8,202.07 L523,202.07 L523.2,202.07 L523.4,202.07 L523.6,202.07 L523.8,202.07 L524,202.07 L524.2,202.07 L524.4,202.07 L524.6,202.07 L524.8,202.07 L525,202.07 L525.2,202.07 L525.4,202.07 L525.6,202.07 L525.8,202.07 L526,202.07 L526.2,202.07 L526.4,202.07 L526.6,202.07 L526.8,202.06 L527,202.06 L527.2,202.06 L527.4,202.06 L527.6,202.06 L527.8,202.06 L528,202.06 L528.2,202.06 L528.4,202.06 L528.6,202.06 L528.8,202.06 L529,202.06 L529.2,202.06 L529.4,202.06 L529.6,202.06 L529.8,202.06 L530,202.06 L530.2,202.06 L530.4,202.05 L530.6,202.05 L530.8,202.05 L531,202.05 L531.2,202.05 L531.4,202.05 L531.6,202.05 L531.8,202.05 L532,202.05 L532.2,202.05 L532.4,202.04 L532.6,202.04 L532.8,202.04 L533,202.04 L533.2,202.04 L533.4,202.03 L533.6,202.03 L533.8,202.03 L534,202.03 L534.2,202.02 L534.4,202.02 L534.6,202.02 L534.8,202.01 L535,202.01 L535.2,202 L535.4,201.99 L535.6,201.99 L535.8,201.98 L536,201.97 L536.2,201.95 L536.4,201.94 L536.6,201.92 L536.8,201.89 L537,201.86 L537.2,201.81 L537.4,201.75 L537.6,201.66 L537.8,201.53 L538,201.31 L538.2,200.95 L538.4,200.27 L538.6,198.84 L538.8,195.89 L539,193.15 L539.2,195.88 L539.4,198.84 L539.6,200.26 L539.8,200.95 L540,201.31 L540.2,201.52 L540.4,201.65 L540.6,201.74 L540.8,201.8 L541,201.84 L541.2,201.88 L541.4,201.9 L541.6,201.92 L541.8,201.94 L542,201.95 L542.2,201.96 L542.4,201.97 L542.6,201.97 L542.8,201.98 L543,201.98 L543.2,201.99 L543.4,201.99 L543.6,201.99 L543.8,201.99 L544,201.99 L544.2,202 L544.4,202 L544.6,202 L544.8,202 L545,202 L545.2,202 L545.4,202 L545.6,202 L545.8,202 L546,202 L546.2,202 L546.4,202 L546.6,202 L546.8,202 L547,202 L547.2,202 L547.4,201.99 L547.6,201.99 L547.8,201.99 L548,201.99 L548.2,201.99 L548.4,201.99 L548.6,201.99 L548.8,201.99 L549,201.98 L549.2,201.98 L549.4,201.98 L549.6,201.98 L549.8,201.98 L550,201.98 L550.2,201.97 L550.4,201.97 L550.6,201.97 L550.8,201.97 L551,201.96 L551.2,201.96 L551.4,201.96 L551.6,201.96 L551.8,201.95 L552,201.95 L552.2,201.95 L552.4,201.95 L552.6,201.94 L552.8,201.94 L553,201.94 L553.2,201.93 L553.4,201.93 L553.6,201.93 L553.8,201.92 L554,201.92 L554.2,201.92 L554.4,201.91 L554.6,201.91 L554.8,201.9 L555,201.9 L555.2,201.89 L555.4,201.89 L555.6,201.88 L555.8,201.88 L556,201.87 L556.2,201.87 L556.4,201.86 L556.6,201.85 L556.8,201.85 L557,201.84 L557.2,201.83 L557.4,201.82 L557.6,201.82 L557.8,201.81 L558,201.8 L558.2,201.79 L558.4,201.78 L558.6,201.77 L558.8,201.76 L559,201.75 L559.2,201.74 L559.4,201.72 L559.6,201.71 L559.8,201.7 L560,201.68 L560.2,201.67 L560.4,201.65 L560.6,201.63 L560.8,201.62 L561,201.6 L561.2,201.58 L561.4,201.56 L561.6,201.53 L561.8,201.51 L562,201.48 L562.2,201.45 L562.4,201.42 L562.6,201.39 L562.8,201.36 L563,201.32 L563.2,201.28 L563.4,201.24 L563.6,201.19 L563.8,201.14 L564,201.08 L564.2,201.02 L564.4,200.96 L564.6,200.89 L564.8,200.81 L565,200.72 L565.2,200.62 L565.4,200.52 L565.6,200.4 L565.8,200.27 L566,200.12 L566.2,199.95 L566.4,199.76 L566.6,199.55 L566.8,199.3 L567,199.02 L567.2,198.69 L567.4,198.31 L567.6,197.85 L567.8,197.32 L568,196.68 L568.2,195.9 L568.4,194.95 L568.6,193.76 L568.8,192.27 L569,190.35 L569.2,187.85 L569.4,184.53 L569.6,180.02 L569.8,173.8 L570,165.1 L570.2,153.02 L570.4,137.11 L570.6,119.19 L570.8,105.93 L570.9,103.97 L571,105.93 L571.2,119.19 L571.4,137.11 L571.6,153.02 L571.8,165.09 L572,173.79 L572.2,180.01 L572.4,184.52 L572.6,187.84 L572.8,190.34 L573,192.25 L573.2,193.74 L573.4,194.92 L573.6,195.87 L573.8,196.65 L574,197.29 L574.2,197.82 L574.4,198.27 L574.6,198.65 L574.8,198.97 L575,199.25 L575.2,199.49 L575.4,199.7 L575.6,199.88 L575.8,200.04 L576,200.18 L576.2,200.29 L576.4,200.4 L576.6,200.48 L576.8,200.55 L577,200.6 L577.2,200.63 L577.4,200.64 L577.6,200.6 L577.8,200.51 L578,200.32 L578.2,199.92 L578.4,199.08 L578.6,197.22 L578.8,194.01 L578.9,193.22 L579,194.05 L579.2,197.32 L579.4,199.26 L579.6,200.18 L579.8,200.65 L580,200.93 L580.2,201.1 L580.4,201.22 L580.6,201.31 L580.8,201.38 L581,201.43 L581.2,201.48 L581.4,201.51 L581.6,201.54 L581.8,201.57 L582,201.59 L582.2,201.62 L582.4,201.64 L582.6,201.65 L582.8,201.67 L583,201.68 L583.2,201.7 L583.4,201.71 L583.6,201.72 L583.8,201.73 L584,201.74 L584.2,201.75 L584.4,201.76 L584.6,201.77 L584.8,201.77 L585,201.78 L585.2,201.79 L585.4,201.79 L585.6,201.8 L585.8,201.81 L586,201.81 L586.2,201.81 L586.4,201.82 L586.6,201.82 L586.8,201.83 L587,201.83 L587.2,201.83 L587.4,201.84 L587.6,201.84 L587.8,201.84 L588,201.84 L588.2,201.84 L588.4,201.84 L588.6,201.85 L588.8,201.85 L589,201.85 L589.2,201.85 L589.4,201.85 L589.6,201.85 L589.8,201.85 L590,201.84 L590.2,201.84 L590.4,201.84 L590.6,201.84 L590.8,201.84 L591,201.83 L591.2,201.83 L591.4,201.83 L591.6,201.82 L591.8,201.82 L592,201.81 L592.2,201.81 L592.4,201.8 L592.6,201.79 L592.8,201.78 L593,201.77 L593.2,201.77 L593.4,201.75 L593.6,201.74 L593.8,201.73 L594,201.71 L594.2,201.7 L594.4,201.68 L594.6,201.66 L594.8,201.64 L595,201.61 L595.2,201.58 L595.4,201.55 L595.6,201.52 L595.8,201.48 L596,201.43 L596.2,201.38 L596.4,201.32 L596.6,201.25 L596.8,201.17 L597,201.08 L597.2,200.97 L597.4,200.84 L597.6,200.68 L597.8,200.49 L598,200.25 L598.2,199.95 L598.4,199.57 L598.6,199.08 L598.8,198.42 L599,197.51 L599.2,196.22 L599.4,194.29 L599.6,191.28 L599.8,186.22 L600,177.07 L600.2,159.43 L600.4,128.01 L600.6,103.86 L600.8,128 L601,159.4 L601.2,177.03 L601.4,186.16 L601.6,191.2 L601.8,194.19 L602,196.09 L602.2,197.35 L602.4,198.22 L602.6,198.83 L602.8,199.25 L603,199.54 L603.2,199.7 L603.4,199.74 L603.6,199.64 L603.8,199.33 L604,198.71 L604.2,197.74 L604.4,196.79 L604.5,196.66 L604.6,196.87 L604.8,197.98 L605,199.13 L605.2,199.92 L605.4,200.44 L605.6,200.78 L605.8,201.01 L606,201.17 L606.2,201.3 L606.4,201.39 L606.6,201.46 L606.8,201.52 L607,201.57 L607.2,201.62 L607.4,201.65 L607.6,201.68 L607.8,201.71 L608,201.73 L608.2,201.75 L608.4,201.77 L608.6,201.79 L608.8,201.8 L609,201.82 L609.2,201.83 L609.4,201.84 L609.6,201.85 L609.8,201.86 L610,201.87 L610.2,201.87 L610.4,201.88 L610.6,201.89 L610.8,201.89 L611,201.9 L611.2,201.9 L611.4,201.91 L611.6,201.91 L611.8,201.92 L612,201.92 L612.2,201.92 L612.4,201.93 L612.6,201.93 L612.8,201.93 L613,201.93 L613.2,201.93 L613.4,201.93 L613.6,201.93 L613.8,201.94 L614,201.94 L614.2,201.93 L614.4,201.93 L614.6,201.93 L614.8,201.93 L615,201.93 L615.2,201.93 L615.4,201.92 L615.6,201.92 L615.8,201.91 L616,201.91 L616.2,201.9 L616.4,201.89 L616.6,201.88 L616.8,201.87 L617,201.86 L617.2,201.84 L617.4,201.83 L617.6,201.8 L617.8,201.78 L618,201.74 L618.2,201.7 L618.4,201.65 L618.6,201.59 L618.8,201.5 L619,201.39 L619.2,201.25 L619.4,201.06 L619.6,200.81 L619.8,200.47 L620,200.03 L620.2,199.54 L620.4,199.1 L620.6,198.92 L620.8,199.1 L621,199.54 L621.2,200.03 L621.4,200.47 L621.6,200.81 L621.8,201.06 L622,201.25 L622.2,201.39 L622.4,201.5 L622.6,201.59 L622.8,201.65 L623,201.7 L623.2,201.74 L623.4,201.77 L623.6,201.8 L623.8,201.82 L624,201.84 L624.2,201.86 L624.4,201.87 L624.6,201.88 L624.8,201.89 L625,201.89 L625.2,201.9 L625.4,201.9 L625.6,201.91 L625.8,201.91 L626,201.91 L626.2,201.91 L626.4,201.91 L626.6,201.9 L626.8,201.9 L627,201.89 L627.2,201.89 L627.4,201.88 L627.6,201.87 L627.8,201.86 L628,201.84 L628.2,201.83 L628.4,201.81 L628.6,201.78 L628.8,201.75 L629,201.71 L629.2,201.66 L629.4,201.59 L629.6,201.5 L629.8,201.39 L630,201.23 L630.2,201.01 L630.4,200.66 L630.6,200.12 L630.8,199.19 L631,197.44 L631.2,193.79 L631.4,186.22 L631.6,179.2 L631.8,186.21 L632,193.79 L632.2,197.43 L632.4,199.18 L632.6,200.11 L632.8,200.64 L633,200.98 L633.2,201.2 L633.4,201.36 L633.6,201.47 L633.8,201.55 L634,201.61 L634.2,201.65 L634.4,201.69 L634.6,201.71 L634.8,201.73 L635,201.74 L635.2,201.75 L635.4,201.76 L635.6,201.76 L635.8,201.75 L636,201.74 L636.2,201.73 L636.4,201.71 L636.6,201.69 L636.8,201.66 L637,201.63 L637.2,201.58 L637.4,201.53 L637.6,201.45 L637.8,201.36 L638,201.23 L638.2,201.06 L638.4,200.83 L638.6,200.5 L638.8,200 L639,199.21 L639.2,197.85 L639.4,195.29 L639.6,189.95 L639.8,178.88 L640,168.62 L640.2,178.86 L640.4,189.91 L640.6,195.22 L640.8,197.76 L641,199.09 L641.2,199.86 L641.4,200.32 L641.6,200.61 L641.8,200.79 L642,200.9 L642.2,200.94 L642.4,200.93 L642.6,200.85 L642.8,200.7 L643,200.44 L643.2,200 L643.4,199.25 L643.6,197.86 L643.8,195.08 L644,189.08 L644.2,178.86 L644.3,176.31 L644.4,178.87 L644.6,189.13 L644.8,195.16 L645,197.98 L645.2,199.4 L645.4,200.2 L645.6,200.68 L645.8,201 L646,201.22 L646.2,201.37 L646.4,201.49 L646.6,201.58 L646.8,201.65 L647,201.7 L647.2,201.75 L647.4,201.78 L647.6,201.81 L647.8,201.84 L648,201.86 L648.2,201.88 L648.4,201.9 L648.6,201.91 L648.8,201.92 L649,201.94 L649.2,201.95 L649.4,201.96 L649.6,201.96 L649.8,201.97 L650,201.98 L650.2,201.98 L650.4,201.99 L650.6,201.99 L650.8,202 L651,202 L651.2,202.01 L651.4,202.01 L651.6,202.01 L651.8,202.02 L652,202.02 L652.2,202.02 L652.4,202.03 L652.6,202.03 L652.8,202.03 L653,202.03 L653.2,202.04 L653.4,202.04 L653.6,202.04 L653.8,202.04 L654,202.04 L654.2,202.04 L654.4,202.05 L654.6,202.05 L654.8,202.05 L655,202.05 L655.2,202.05 L655.4,202.05 L655.6,202.05 L655.8,202.05 L656,202.06 L656.2,202.06 L656.4,202.06 L656.6,202.06 L656.8,202.06 L657,202.06 L657.2,202.06 L657.4,202.06 L657.6,202.06 L657.8,202.06 L658,202.06 L658.2,202.06 L658.4,202.06 L658.6,202.07 L658.8,202.07 L659,202.07 L659.2,202.07 L659.4,202.07 L659.6,202.07 L659.8,202.07 L660,202.07 L660.2,202.07 L660.4,202.07 L660.6,202.07 L660.8,202.07 L661,202.07 L661.2,202.07 L661.4,202.07 L661.6,202.07 L661.8,202.07 L662,202.07 L662.2,202.07 L662.4,202.07 L662.6,202.07 L662.8,202.07 L663,202.08 L663.2,202.08 L663.4,202.08 L663.6,202.08 L663.8,202.08 L664,202.08 L664.2,202.08 L664.4,202.08 L664.6,202.08 L664.8,202.08 L665,202.08 L665.2,202.08 L665.4,202.08 L665.6,202.08 L665.8,202.08 L666,202.08 L666.2,202.08 L666.4,202.08 L666.6,202.08 L666.8,202.08 L667,202.08 L667.2,202.08 L667.4,202.08 L667.6,202.08 L667.8,202.08 L668,202.08 L668.2,202.08 L668.4,202.08 L668.6,202.08 L668.8,202.08 L669,202.08 L669.2,202.08 L669.4,202.08 L669.6,202.08 L669.8,202.08 L670,202.08 L670.2,202.08 L670.4,202.08 L670.6,202.08 L670.8,202.08 L671,202.08 L671.2,202.08 L671.4,202.08 L671.6,202.08 L671.8,202.08 L672,202.08 L672.2,202.08 L672.4,202.08 L672.6,202.08 L672.8,202.08 L673,202.09 L673.2,202.09 L673.4,202.09 L673.6,202.09 L673.8,202.09 L674,202.09 L674.2,202.09 L674.4,202.09 L674.6,202.09 L674.8,202.09 L675,202.09 L675.2,202.09 L675.4,202.09 L675.6,202.09 L675.8,202.09 L676,202.09 L676.2,202.09 L676.4,202.09 L676.6,202.09 L676.8,202.09 L677,202.09 L677.2,202.09 L677.4,202.09 L677.6,202.09 L677.8,202.09 L678,202.09 L678.2,202.09 L678.4,202.09 L678.6,202.09 L678.8,202.09 L679,202.09 L679.2,202.09 L679.4,202.09 L679.6,202.09 L679.8,202.09 L680,202.09 L680.2,202.09 L680.4,202.09 L680.6,202.09 L680.8,202.09 L681,202.09 L681.2,202.09 L681.4,202.09 L681.6,202.09 L681.8,202.09 L682,202.09 L682.2,202.09 L682.4,202.09 L682.6,202.09 L682.8,202.09 L683,202.09 L683.2,202.09 L683.4,202.09" stroke="#ff2020" stroke-width="1.15" fill="none" stroke-linejoin="round"/>
<line x1="315.4" y1="209.5" x2="684" y2="209.5" stroke="#000" stroke-width="1.1" />
<line x1="677.2" y1="209.5" x2="677.2" y2="212.1" stroke="#000" stroke-width="1.0" />
<line x1="646.22" y1="209.5" x2="646.22" y2="211.3" stroke="#000" stroke-width="1.0" />
<line x1="615.24" y1="209.5" x2="615.24" y2="212.1" stroke="#000" stroke-width="1.0" />
<line x1="584.26" y1="209.5" x2="584.26" y2="211.3" stroke="#000" stroke-width="1.0" />
<line x1="553.28" y1="209.5" x2="553.28" y2="212.1" stroke="#000" stroke-width="1.0" />
<line x1="522.3" y1="209.5" x2="522.3" y2="211.3" stroke="#000" stroke-width="1.0" />
<line x1="491.32" y1="209.5" x2="491.32" y2="212.1" stroke="#000" stroke-width="1.0" />
<line x1="460.34" y1="209.5" x2="460.34" y2="211.3" stroke="#000" stroke-width="1.0" />
<line x1="429.36" y1="209.5" x2="429.36" y2="212.1" stroke="#000" stroke-width="1.0" />
<line x1="398.38" y1="209.5" x2="398.38" y2="211.3" stroke="#000" stroke-width="1.0" />
<line x1="367.4" y1="209.5" x2="367.4" y2="212.1" stroke="#000" stroke-width="1.0" />
<line x1="336.42" y1="209.5" x2="336.42" y2="211.3" stroke="#000" stroke-width="1.0" />
<text x="364.9" y="225" font-size="11.3" text-anchor="middle" font-weight="normal" font-style="normal" fill="#222" >10.0</text>
<text x="429.66" y="225" font-size="11.3" text-anchor="middle" font-weight="normal" font-style="normal" fill="#222" >8.0</text>
<text x="491.62" y="225" font-size="11.3" text-anchor="middle" font-weight="normal" font-style="normal" fill="#222" >6.0</text>
<text x="553.58" y="225" font-size="11.3" text-anchor="middle" font-weight="normal" font-style="normal" fill="#222" >4.0</text>
<text x="615.54" y="225" font-size="11.3" text-anchor="middle" font-weight="normal" font-style="normal" fill="#222" >2.0</text>
<text x="677.5" y="225" font-size="11.3" text-anchor="middle" font-weight="normal" font-style="normal" fill="#222" >0.0</text>
<text x="490" y="241.9" font-size="11.9" text-anchor="middle" font-weight="normal" font-style="normal" fill="#222" >δ (ppm)</text>
<text x="328.3" y="39.4" font-size="11" text-anchor="middle" font-weight="normal" font-style="normal" fill="#222" >k</text>
<text x="373.4" y="38.8" font-size="11" text-anchor="middle" font-weight="normal" font-style="normal" fill="#222" >r</text>
<text x="388.4" y="38.8" font-size="11" text-anchor="middle" font-weight="normal" font-style="normal" fill="#3cb43c" >i</text>
<text x="399.6" y="38.8" font-size="11" text-anchor="middle" font-weight="normal" font-style="normal" fill="#222" >m</text>
<text x="408.9" y="38.8" font-size="11" text-anchor="middle" font-weight="normal" font-style="normal" fill="#222" >q</text>
<text x="423.8" y="26.1" font-size="11" text-anchor="middle" font-weight="normal" font-style="normal" fill="#222" >p</text>
<text x="423.8" y="39.4" font-size="11" text-anchor="middle" font-weight="normal" font-style="normal" fill="#222" >o</text>
<text x="437" y="26.1" font-size="11" text-anchor="middle" font-weight="normal" font-style="normal" fill="#222" >c</text>
<text x="437.2" y="39.4" font-size="11" text-anchor="middle" font-weight="normal" font-style="normal" fill="#222" >d</text>
<text x="450.6" y="38.8" font-size="11" text-anchor="middle" font-weight="normal" font-style="normal" fill="#3cb43c" >j</text>
<text x="461.7" y="26.1" font-size="11" text-anchor="middle" font-weight="normal" font-style="normal" fill="#222" >a</text>
<text x="461.7" y="39.4" font-size="11" text-anchor="middle" font-weight="normal" font-style="normal" fill="#222" >b</text>
<text x="471.6" y="39.4" font-size="11" text-anchor="middle" font-weight="normal" font-style="normal" fill="#222" >n</text>
<text x="480.8" y="39.4" font-size="11" text-anchor="middle" font-weight="normal" font-style="normal" fill="#222" >l</text>
<text x="524.3" y="38.3" font-size="11" text-anchor="middle" font-weight="normal" font-style="normal" fill="#3cb43c" >f</text>
<text x="539.9" y="38.3" font-size="11" text-anchor="middle" font-weight="normal" font-style="normal" fill="#222" >s</text>
<text x="587.3" y="38.6" font-size="11" text-anchor="middle" font-weight="normal" font-style="normal" fill="#222" >h</text>
<text x="611" y="36.3" font-size="11" text-anchor="middle" font-weight="normal" font-style="normal" fill="#222" >g</text>
<text x="623.7" y="27.7" font-size="11" text-anchor="middle" font-weight="normal" font-style="normal" fill="#222" >e</text>
<text x="646.1" y="38.6" font-size="11" text-anchor="middle" font-weight="normal" font-style="normal" fill="#222" >t</text>
<line x1="328.3" y1="46.7" x2="327.7" y2="84.7" stroke="#383838" stroke-width="1.75" stroke-dasharray="3.1,2.5"/>
<line x1="375.3" y1="45.3" x2="394.9" y2="83.2" stroke="#383838" stroke-width="1.75" stroke-dasharray="3.1,2.5"/>
<line x1="392" y1="46.7" x2="409.5" y2="81.8" stroke="#383838" stroke-width="1.75" stroke-dasharray="3.1,2.5"/>
<line x1="403.6" y1="46.7" x2="412.4" y2="81.8" stroke="#383838" stroke-width="1.75" stroke-dasharray="3.1,2.5"/>
<line x1="410.4" y1="45.3" x2="421.2" y2="83.2" stroke="#383838" stroke-width="1.75" stroke-dasharray="3.1,2.5"/>
<line x1="425" y1="43.8" x2="428.5" y2="86.1" stroke="#383838" stroke-width="1.75" stroke-dasharray="3.1,2.5"/>
<line x1="437.2" y1="43.8" x2="432.8" y2="87.6" stroke="#383838" stroke-width="1.75" stroke-dasharray="3.1,2.5"/>
<line x1="450.4" y1="43.8" x2="437.2" y2="89" stroke="#383838" stroke-width="1.75" stroke-dasharray="3.1,2.5"/>
<line x1="460.6" y1="43.8" x2="443" y2="87.6" stroke="#383838" stroke-width="1.75" stroke-dasharray="3.1,2.5"/>
<line x1="471.7" y1="43.8" x2="447.4" y2="89" stroke="#383838" stroke-width="1.75" stroke-dasharray="3.1,2.5"/>
<line x1="482.5" y1="43.8" x2="453.3" y2="87.6" stroke="#383838" stroke-width="1.75" stroke-dasharray="3.1,2.5"/>
<line x1="525.5" y1="46.4" x2="527.9" y2="88.3" stroke="#383838" stroke-width="1.75" stroke-dasharray="3.1,2.5"/>
<line x1="540.5" y1="46.4" x2="537.5" y2="86.8" stroke="#383838" stroke-width="1.75" stroke-dasharray="3.1,2.5"/>
<line x1="587.2" y1="46.4" x2="595.2" y2="85.3" stroke="#383838" stroke-width="1.75" stroke-dasharray="3.1,2.5"/>
<line x1="611.7" y1="44.3" x2="610.2" y2="86.8" stroke="#383838" stroke-width="1.75" stroke-dasharray="3.1,2.5"/>
<line x1="643.1" y1="43.4" x2="631.1" y2="71.8" stroke="#383838" stroke-width="1.75" stroke-dasharray="3.1,2.5"/>
<text x="367.2" y="142" font-size="11" text-anchor="middle" font-weight="normal" font-style="normal" fill="#222" >R</text>
<text x="383.2" y="142" font-size="11" text-anchor="middle" font-weight="normal" font-style="normal" fill="#222" >Q</text>
<text x="400.7" y="142" font-size="11" text-anchor="middle" font-weight="normal" font-style="normal" fill="#222" >O</text>
<text x="417.7" y="142" font-size="11" text-anchor="middle" font-weight="normal" font-style="normal" fill="#222" >P</text>
<text x="427.9" y="142" font-size="11" text-anchor="middle" font-weight="normal" font-style="normal" fill="#222" >M</text>
<text x="436.6" y="142" font-size="11" text-anchor="middle" font-weight="normal" font-style="normal" fill="#222" >L</text>
<text x="447.4" y="142" font-size="11" text-anchor="middle" font-weight="normal" font-style="normal" fill="#3cb43c" >I</text>
<text x="459.1" y="128" font-size="11" text-anchor="middle" font-weight="normal" font-style="normal" fill="#222" >A</text>
<text x="459.1" y="142" font-size="11" text-anchor="middle" font-weight="normal" font-style="normal" fill="#222" >B</text>
<text x="473.1" y="142" font-size="11" text-anchor="middle" font-weight="normal" font-style="normal" fill="#222" >N</text>
<text x="481.2" y="142" font-size="11" text-anchor="middle" font-weight="normal" font-style="normal" fill="#222" >C</text>
<text x="492.2" y="142" font-size="11" text-anchor="middle" font-weight="normal" font-style="normal" fill="#222" >D</text>
<text x="508.4" y="141.8" font-size="11" text-anchor="middle" font-weight="normal" font-style="normal" fill="#3cb43c" >J</text>
<text x="545.2" y="141.8" font-size="11" text-anchor="middle" font-weight="normal" font-style="normal" fill="#222" >S</text>
<text x="585.1" y="141.8" font-size="11" text-anchor="middle" font-weight="normal" font-style="normal" fill="#222" >H</text>
<text x="605.1" y="141.8" font-size="11" text-anchor="middle" font-weight="normal" font-style="normal" fill="#3cb43c" >F</text>
<text x="618.1" y="141.8" font-size="11" text-anchor="middle" font-weight="normal" font-style="normal" fill="#222" >G</text>
<text x="635.1" y="141.8" font-size="11" text-anchor="middle" font-weight="normal" font-style="normal" fill="#222" >T</text>
<text x="652.5" y="141.8" font-size="11" text-anchor="middle" font-weight="normal" font-style="normal" fill="#222" >E′</text>
<text x="667.5" y="141.8" font-size="11" text-anchor="middle" font-weight="normal" font-style="normal" fill="#222" >E</text>
<line x1="371.5" y1="145.3" x2="400.7" y2="187.6" stroke="#383838" stroke-width="1.75" stroke-dasharray="3.1,2.5"/>
<line x1="387.6" y1="146.7" x2="425.5" y2="189" stroke="#383838" stroke-width="1.75" stroke-dasharray="3.1,2.5"/>
<line x1="406.6" y1="146.7" x2="434.3" y2="192" stroke="#383838" stroke-width="1.75" stroke-dasharray="3.1,2.5"/>
<line x1="419.7" y1="146.7" x2="443" y2="193.4" stroke="#383838" stroke-width="1.75" stroke-dasharray="3.1,2.5"/>
<line x1="428.5" y1="146.7" x2="451.8" y2="190.5" stroke="#383838" stroke-width="1.75" stroke-dasharray="3.1,2.5"/>
<line x1="437.8" y1="146.7" x2="454.7" y2="189" stroke="#383838" stroke-width="1.75" stroke-dasharray="3.1,2.5"/>
<line x1="448.3" y1="146.7" x2="456.2" y2="189" stroke="#383838" stroke-width="1.75" stroke-dasharray="3.1,2.5"/>
<line x1="459.1" y1="145.3" x2="459.1" y2="187.6" stroke="#383838" stroke-width="1.75" stroke-dasharray="3.1,2.5"/>
<line x1="475.2" y1="146.7" x2="462" y2="189" stroke="#383838" stroke-width="1.75" stroke-dasharray="3.1,2.5"/>
<line x1="484" y1="146.7" x2="469.3" y2="193.4" stroke="#383838" stroke-width="1.75" stroke-dasharray="3.1,2.5"/>
<line x1="493.5" y1="144.9" x2="471" y2="193" stroke="#383838" stroke-width="1.75" stroke-dasharray="3.1,2.5"/>
<line x1="505.4" y1="149.4" x2="496.5" y2="191.3" stroke="#383838" stroke-width="1.75" stroke-dasharray="3.1,2.5"/>
<line x1="542.9" y1="147.9" x2="539.3" y2="188.3" stroke="#383838" stroke-width="1.75" stroke-dasharray="3.1,2.5"/>
<line x1="584.8" y1="147.9" x2="581.2" y2="189.8" stroke="#383838" stroke-width="1.75" stroke-dasharray="3.1,2.5"/>
<line x1="605.1" y1="147.9" x2="605.7" y2="189.8" stroke="#383838" stroke-width="1.75" stroke-dasharray="3.1,2.5"/>
<line x1="619.2" y1="147.9" x2="620.1" y2="192.8" stroke="#383838" stroke-width="1.75" stroke-dasharray="3.1,2.5"/>
<line x1="635" y1="147.9" x2="631.1" y2="177.8" stroke="#383838" stroke-width="1.75" stroke-dasharray="3.1,2.5"/>
<line x1="652.1" y1="144.9" x2="641.6" y2="167.3" stroke="#383838" stroke-width="1.75" stroke-dasharray="3.1,2.5"/>
<line x1="663.2" y1="146.4" x2="644" y2="174.8" stroke="#383838" stroke-width="1.75" stroke-dasharray="3.1,2.5"/>
<g clip-path="url(#dclip)">
<path d="M36.4,382.9 L36.71,383.05 L37.12,383.22 L37.61,383.41 L38.15,383.65 L38.72,383.94 L39.31,384.31 L39.87,384.75 L40.4,385.3 L40.89,385.98 L41.38,386.78 L41.86,387.68 L42.35,388.65 L42.84,389.65 L43.34,390.64 L43.86,391.61 L44.4,392.5 L44.96,393.39 L45.52,394.34 L46.11,395.31 L46.7,396.25 L47.31,397.12 L47.93,397.88 L48.56,398.49 L49.2,398.9 L49.86,399.06 L50.54,398.97 L51.24,398.71 L51.95,398.35 L52.66,397.96 L53.38,397.61 L54.09,397.36 L54.8,397.3 L55.5,397.46 L56.2,397.81 L56.9,398.26 L57.6,398.75 L58.3,399.21 L59,399.57 L59.7,399.76 L60.4,399.7 L61.09,399.44 L61.78,399.07 L62.46,398.57 L63.15,397.95 L63.84,397.2 L64.54,396.31 L65.26,395.28 L66,394.1 L66.75,392.68 L67.52,390.96 L68.29,389.05 L69.08,387.03 L69.88,385 L70.7,383.04 L71.54,381.24 L72.4,379.7 L73.31,378.39 L74.27,377.22 L75.26,376.16 L76.26,375.2 L77.26,374.32 L78.23,373.51 L79.15,372.74 L80,372 L80.79,371.28 L81.54,370.6 L82.24,369.97 L82.92,369.39 L83.57,368.9 L84.19,368.49 L84.8,368.19 L85.4,368 L85.98,367.95 L86.54,368.03 L87.07,368.22 L87.58,368.5 L88.08,368.84 L88.56,369.22 L89.03,369.61 L89.5,370 L89.96,370.39 L90.43,370.82 L90.88,371.29 L91.32,371.78 L91.74,372.3 L92.13,372.85 L92.48,373.41 L92.8,374 L93.07,374.63 L93.29,375.3 L93.47,376.02 L93.62,376.75 L93.77,377.48 L93.9,378.2 L94.04,378.87 L94.2,379.5 L94.37,380.07 L94.53,380.6 L94.69,381.11 L94.85,381.59 L95.01,382.06 L95.17,382.53 L95.33,383.01 L95.5,383.5 L95.66,383.97 L95.82,384.39 L95.98,384.79 L96.14,385.2 L96.31,385.66 L96.49,386.19 L96.69,386.82 L96.9,387.6 L97.12,388.54 L97.34,389.62 L97.56,390.82 L97.8,392.09 L98.06,393.39 L98.36,394.71 L98.7,395.99 L99.1,397.2 L99.55,398.39 L100.03,399.62 L100.55,400.85 L101.11,402.07 L101.71,403.25 L102.34,404.36 L103,405.39 L103.7,406.3 L104.43,407.08 L105.19,407.75 L105.99,408.32 L106.82,408.83 L107.68,409.31 L108.59,409.78 L109.52,410.26 L110.5,410.8 L111.53,411.37 L112.61,411.94 L113.74,412.52 L114.9,413.09 L116.08,413.67 L117.26,414.25 L118.44,414.82 L119.6,415.4 L120.73,415.99 L121.84,416.61 L122.95,417.23 L124.06,417.85 L125.18,418.45 L126.34,419.02 L127.54,419.54 L128.8,420 L129.67,420.4 L129.94,420.77 L130,421.1 L130.21,421.39 L130.97,421.64 L132.63,421.86 L135.58,422.05 L140.2,422.2 L147.28,422.31 L156.8,422.35 L167.93,422.36 L179.81,422.34 L191.61,422.3 L202.46,422.25 L211.54,422.22 L218,422.2" stroke="#c89628" stroke-width="1.2" fill="none" stroke-dasharray="0.3,2.9" stroke-linecap="round"/>
<path d="M36.4,368.4 L36.65,368.7 L36.98,369.08 L37.37,369.53 L37.8,370.04 L38.26,370.6 L38.73,371.19 L39.18,371.79 L39.6,372.4 L39.99,372.98 L40.38,373.54 L40.76,374.1 L41.15,374.7 L41.54,375.37 L41.94,376.14 L42.36,377.04 L42.8,378.1 L43.27,379.4 L43.76,380.95 L44.28,382.66 L44.8,384.46 L45.32,386.26 L45.84,387.98 L46.33,389.56 L46.8,390.9 L47.23,392.07 L47.62,393.16 L47.99,394.16 L48.35,395.05 L48.72,395.83 L49.11,396.47 L49.53,396.96 L50,397.3 L50.53,397.4 L51.12,397.24 L51.75,396.9 L52.4,396.45 L53.05,395.95 L53.67,395.48 L54.27,395.11 L54.8,394.9 L55.27,394.82 L55.69,394.8 L56.08,394.82 L56.45,394.9 L56.81,395.02 L57.18,395.2 L57.57,395.42 L58,395.7 L58.46,396.13 L58.94,396.78 L59.44,397.53 L59.95,398.3 L60.46,399 L60.98,399.52 L61.49,399.79 L62,399.7 L62.48,399.23 L62.94,398.46 L63.39,397.44 L63.85,396.25 L64.32,394.94 L64.83,393.57 L65.39,392.2 L66,390.9 L66.69,389.59 L67.43,388.2 L68.22,386.74 L69.05,385.26 L69.89,383.78 L70.74,382.34 L71.58,380.97 L72.4,379.7 L73.21,378.56 L74.03,377.52 L74.85,376.55 L75.67,375.61 L76.49,374.68 L77.28,373.73 L78.06,372.71 L78.8,371.6 L79.52,370.37 L80.23,369.03 L80.92,367.63 L81.59,366.2 L82.23,364.78 L82.85,363.42 L83.44,362.15 L84,361 L84.51,359.96 L84.96,358.98 L85.38,358.07 L85.77,357.22 L86.15,356.44 L86.54,355.72 L86.95,355.07 L87.4,354.5 L87.89,354 L88.41,353.58 L88.95,353.24 L89.49,352.96 L90.03,352.74 L90.56,352.58 L91.05,352.46 L91.5,352.4 L91.9,352.39 L92.27,352.44 L92.62,352.55 L92.94,352.72 L93.25,352.93 L93.56,353.19 L93.87,353.48 L94.2,353.8 L94.54,354.16 L94.89,354.55 L95.24,354.99 L95.59,355.46 L95.94,355.98 L96.27,356.54 L96.6,357.15 L96.9,357.8 L97.18,358.52 L97.43,359.3 L97.67,360.14 L97.9,361.02 L98.13,361.93 L98.37,362.83 L98.62,363.73 L98.9,364.6 L99.21,365.45 L99.55,366.3 L99.91,367.15 L100.28,368.01 L100.64,368.86 L100.99,369.71 L101.31,370.55 L101.6,371.4 L101.85,372.24 L102.07,373.07 L102.27,373.89 L102.46,374.71 L102.63,375.54 L102.81,376.38 L103,377.23 L103.2,378.1 L103.42,379 L103.65,379.93 L103.88,380.88 L104.11,381.84 L104.35,382.79 L104.57,383.73 L104.79,384.63 L105,385.5 L105.19,386.32 L105.37,387.11 L105.55,387.87 L105.71,388.61 L105.88,389.34 L106.05,390.08 L106.22,390.83 L106.4,391.6 L106.58,392.39 L106.76,393.2 L106.95,394.01 L107.13,394.83 L107.33,395.65 L107.53,396.47 L107.76,397.29 L108,398.1 L108.27,398.91 L108.55,399.73 L108.85,400.55 L109.16,401.37 L109.49,402.18 L109.82,402.97 L110.16,403.75 L110.5,404.5 L110.83,405.22 L111.14,405.92 L111.45,406.59 L111.77,407.26 L112.13,407.91 L112.52,408.57 L112.97,409.23 L113.5,409.9 L114.08,410.58 L114.68,411.26 L115.33,411.95 L116.03,412.63 L116.79,413.32 L117.63,414.01 L118.56,414.7 L119.6,415.4 L120.75,416.13 L122.02,416.92 L123.37,417.72 L124.81,418.52 L126.3,419.28 L127.84,419.99 L129.41,420.6 L131,421.1 L132.22,421.47 L132.93,421.74 L133.47,421.93 L134.15,422.06 L135.31,422.14 L137.29,422.19 L140.41,422.24 L145,422.3 L151.8,422.36 L160.81,422.38 L171.26,422.39 L182.38,422.38 L193.38,422.35 L203.5,422.33 L211.96,422.31 L218,422.3" stroke="#3cb450" stroke-width="1.2" fill="none" stroke-dasharray="0.3,2.9" stroke-linecap="round"/>
<path d="M36.4,350.8 L36.46,351.6 L36.53,352.59 L36.62,353.75 L36.72,355.09 L36.83,356.6 L36.95,358.26 L37.07,360.06 L37.2,362 L37.33,364.27 L37.46,366.98 L37.59,369.94 L37.73,373 L37.89,375.99 L38.06,378.75 L38.27,381.11 L38.5,382.9 L38.77,384.07 L39.08,384.76 L39.42,385.08 L39.78,385.16 L40.15,385.1 L40.51,385.02 L40.87,385.05 L41.2,385.3 L41.51,385.7 L41.82,386.09 L42.12,386.51 L42.42,386.95 L42.71,387.44 L43.01,387.98 L43.3,388.6 L43.6,389.3 L43.89,390.12 L44.18,391.05 L44.46,392.06 L44.75,393.13 L45.04,394.22 L45.34,395.3 L45.66,396.33 L46,397.3 L46.36,398.26 L46.73,399.27 L47.11,400.29 L47.5,401.27 L47.91,402.17 L48.33,402.96 L48.76,403.58 L49.2,404 L49.67,404.17 L50.16,404.1 L50.68,403.87 L51.2,403.52 L51.72,403.11 L52.24,402.7 L52.73,402.34 L53.2,402.1 L53.64,401.93 L54.06,401.77 L54.46,401.61 L54.85,401.48 L55.24,401.38 L55.62,401.31 L56.01,401.28 L56.4,401.3 L56.8,401.4 L57.21,401.57 L57.61,401.79 L58.02,402.05 L58.42,402.31 L58.82,402.56 L59.21,402.76 L59.6,402.9 L59.97,403.04 L60.33,403.22 L60.68,403.4 L61.03,403.55 L61.38,403.61 L61.74,403.56 L62.11,403.33 L62.5,402.9 L62.91,402.25 L63.32,401.41 L63.75,400.42 L64.18,399.3 L64.62,398.08 L65.08,396.79 L65.53,395.45 L66,394.1 L66.48,392.64 L66.98,391.01 L67.5,389.28 L68.02,387.5 L68.54,385.75 L69.04,384.09 L69.53,382.58 L70,381.3 L70.43,380.25 L70.84,379.38 L71.22,378.64 L71.6,378.01 L71.98,377.43 L72.36,376.88 L72.77,376.32 L73.2,375.7 L73.67,375.05 L74.17,374.41 L74.69,373.78 L75.22,373.16 L75.75,372.56 L76.27,371.96 L76.75,371.37 L77.2,370.8 L77.6,370.25 L77.97,369.75 L78.31,369.26 L78.64,368.78 L78.96,368.28 L79.29,367.77 L79.63,367.21 L80,366.6 L80.4,365.9 L80.81,365.11 L81.23,364.27 L81.66,363.41 L82.1,362.57 L82.54,361.78 L82.97,361.08 L83.4,360.5 L83.83,360.03 L84.27,359.63 L84.71,359.3 L85.14,359.03 L85.58,358.82 L86,358.66 L86.41,358.56 L86.8,358.5 L87.17,358.48 L87.52,358.5 L87.86,358.57 L88.19,358.7 L88.52,358.89 L88.84,359.15 L89.17,359.48 L89.5,359.9 L89.84,360.41 L90.17,360.99 L90.51,361.66 L90.85,362.39 L91.19,363.19 L91.53,364.05 L91.86,364.95 L92.2,365.9 L92.54,366.91 L92.88,368 L93.21,369.15 L93.55,370.35 L93.89,371.59 L94.23,372.85 L94.56,374.13 L94.9,375.4 L95.24,376.68 L95.58,377.98 L95.91,379.29 L96.25,380.63 L96.59,381.99 L96.92,383.37 L97.26,384.77 L97.6,386.2 L97.93,387.67 L98.26,389.18 L98.58,390.73 L98.91,392.29 L99.24,393.86 L99.58,395.41 L99.93,396.93 L100.3,398.4 L100.69,399.86 L101.08,401.33 L101.48,402.79 L101.9,404.22 L102.33,405.61 L102.77,406.94 L103.23,408.17 L103.7,409.3 L104.19,410.32 L104.7,411.25 L105.22,412.1 L105.76,412.88 L106.31,413.59 L106.87,414.26 L107.43,414.9 L108,415.5 L108.53,416.06 L109.01,416.55 L109.47,416.99 L109.96,417.39 L110.49,417.76 L111.12,418.11 L111.88,418.46 L112.8,418.8 L113.91,419.14 L115.19,419.47 L116.59,419.79 L118.09,420.09 L119.63,420.37 L121.2,420.63 L122.73,420.88 L124.2,421.1 L125.54,421.3 L126.75,421.48 L127.9,421.64 L129.09,421.78 L130.37,421.91 L131.84,422.02 L133.55,422.11 L135.6,422.2 L137.8,422.27 L140,422.32 L142.32,422.35 L144.89,422.37 L147.82,422.38 L151.23,422.39 L155.25,422.39 L160,422.4 L166.04,422.41 L173.5,422.41 L181.84,422.41 L190.53,422.41 L199.02,422.41 L206.79,422.4 L213.3,422.4 L218,422.4" stroke="#e8383c" stroke-width="1.1" fill="none" />
<path d="M36.4,368 L36.44,369.26 L36.5,370.97 L36.56,373 L36.64,375.25 L36.72,377.59 L36.81,379.91 L36.9,382.08 L37,384 L37.1,385.75 L37.21,387.48 L37.33,389.17 L37.45,390.79 L37.58,392.31 L37.71,393.7 L37.85,394.94 L38,396 L38.14,396.84 L38.26,397.45 L38.37,397.9 L38.5,398.23 L38.65,398.5 L38.84,398.74 L39.09,399.03 L39.4,399.4 L39.8,399.82 L40.28,400.22 L40.81,400.61 L41.39,401.01 L41.98,401.43 L42.55,401.87 L43.1,402.36 L43.6,402.9 L44.05,403.5 L44.47,404.17 L44.87,404.88 L45.26,405.62 L45.64,406.37 L46.02,407.11 L46.41,407.82 L46.8,408.5 L47.2,409.17 L47.6,409.86 L48,410.56 L48.4,411.23 L48.8,411.86 L49.2,412.44 L49.6,412.92 L50,413.3 L50.39,413.56 L50.78,413.71 L51.16,413.78 L51.55,413.79 L51.94,413.75 L52.34,413.69 L52.76,413.64 L53.2,413.6 L53.67,413.56 L54.16,413.49 L54.68,413.39 L55.2,413.28 L55.72,413.18 L56.24,413.09 L56.73,413.02 L57.2,413 L57.64,413.04 L58.08,413.14 L58.49,413.28 L58.9,413.43 L59.29,413.56 L59.68,413.65 L60.04,413.67 L60.4,413.6 L60.73,413.45 L61.04,413.26 L61.32,413.03 L61.6,412.74 L61.88,412.39 L62.16,411.97 L62.47,411.48 L62.8,410.9 L63.16,410.23 L63.52,409.47 L63.91,408.64 L64.3,407.73 L64.71,406.77 L65.12,405.77 L65.56,404.75 L66,403.7 L66.46,402.6 L66.94,401.41 L67.44,400.17 L67.95,398.9 L68.46,397.63 L68.98,396.39 L69.49,395.2 L70,394.1 L70.51,393.05 L71.02,392 L71.54,390.98 L72.05,390 L72.56,389.08 L73.06,388.25 L73.54,387.52 L74,386.9 L74.44,386.44 L74.87,386.14 L75.28,385.96 L75.68,385.84 L76.06,385.76 L76.45,385.67 L76.82,385.53 L77.2,385.3 L77.54,385.01 L77.83,384.72 L78.1,384.41 L78.38,384.07 L78.67,383.7 L79.03,383.27 L79.46,382.77 L80,382.2 L80.66,381.54 L81.42,380.79 L82.26,379.98 L83.16,379.11 L84.08,378.21 L85.01,377.28 L85.93,376.34 L86.8,375.4 L87.66,374.49 L88.54,373.59 L89.43,372.7 L90.32,371.77 L91.18,370.79 L92.01,369.74 L92.79,368.58 L93.5,367.3 L94.14,365.89 L94.71,364.37 L95.23,362.75 L95.72,361.06 L96.18,359.3 L96.64,357.49 L97.11,355.65 L97.6,353.8 L98.11,351.87 L98.62,349.81 L99.13,347.69 L99.64,345.53 L100.15,343.4 L100.64,341.33 L101.13,339.39 L101.6,337.6 L102.05,335.96 L102.48,334.4 L102.89,332.92 L103.29,331.53 L103.7,330.22 L104.11,329 L104.55,327.86 L105,326.8 L105.48,325.8 L105.97,324.85 L106.48,323.96 L107,323.17 L107.52,322.49 L108.05,321.93 L108.58,321.53 L109.1,321.3 L109.62,321.21 L110.14,321.22 L110.65,321.36 L111.17,321.64 L111.7,322.09 L112.23,322.72 L112.76,323.55 L113.3,324.6 L113.86,325.96 L114.45,327.64 L115.04,329.57 L115.64,331.66 L116.23,333.83 L116.79,336 L117.32,338.08 L117.8,340 L118.22,341.71 L118.58,343.28 L118.9,344.78 L119.2,346.27 L119.49,347.82 L119.8,349.49 L120.13,351.37 L120.5,353.5 L120.92,355.93 L121.36,358.61 L121.83,361.47 L122.31,364.47 L122.79,367.54 L123.27,370.62 L123.75,373.66 L124.2,376.6 L124.63,379.52 L125.04,382.51 L125.44,385.52 L125.84,388.51 L126.25,391.44 L126.67,394.26 L127.12,396.93 L127.6,399.4 L128.11,401.7 L128.64,403.89 L129.19,405.95 L129.76,407.89 L130.34,409.7 L130.94,411.38 L131.56,412.91 L132.2,414.3 L132.85,415.51 L133.51,416.55 L134.2,417.43 L134.89,418.18 L135.61,418.83 L136.35,419.4 L137.11,419.91 L137.9,420.4 L138.67,420.82 L139.39,421.14 L140.11,421.38 L140.87,421.56 L141.7,421.69 L142.64,421.79 L143.72,421.89 L145,422 L146.2,422.11 L147.19,422.19 L148.16,422.26 L149.32,422.3 L150.88,422.33 L153.04,422.36 L156.01,422.38 L160,422.4 L165.59,422.42 L172.84,422.43 L181.15,422.43 L189.94,422.42 L198.61,422.42 L206.57,422.41 L213.23,422.4 L218,422.4" stroke="#3a78e6" stroke-width="1.1" fill="none" />
<path d="M36.4,362 L36.46,363.45 L36.53,365.45 L36.62,367.84 L36.73,370.46 L36.84,373.14 L36.95,375.73 L37.08,378.07 L37.2,380 L37.32,381.57 L37.43,382.94 L37.55,384.16 L37.68,385.24 L37.82,386.21 L37.98,387.09 L38.17,387.91 L38.4,388.7 L38.67,389.43 L38.98,390.06 L39.32,390.62 L39.67,391.09 L40.05,391.51 L40.43,391.88 L40.82,392.2 L41.2,392.5 L41.59,392.7 L41.99,392.76 L42.41,392.74 L42.83,392.69 L43.24,392.66 L43.65,392.72 L44.04,392.91 L44.4,393.3 L44.73,393.9 L45.04,394.67 L45.32,395.57 L45.6,396.55 L45.88,397.58 L46.16,398.61 L46.47,399.59 L46.8,400.5 L47.15,401.38 L47.51,402.29 L47.87,403.2 L48.25,404.1 L48.65,404.95 L49.07,405.71 L49.52,406.37 L50,406.9 L50.52,407.26 L51.07,407.47 L51.65,407.56 L52.25,407.58 L52.87,407.57 L53.51,407.55 L54.15,407.59 L54.8,407.7 L55.48,407.91 L56.2,408.19 L56.95,408.5 L57.7,408.82 L58.44,409.12 L59.15,409.37 L59.81,409.54 L60.4,409.6 L60.9,409.6 L61.33,409.59 L61.71,409.54 L62.05,409.42 L62.39,409.2 L62.74,408.86 L63.14,408.37 L63.6,407.7 L64.13,406.8 L64.71,405.68 L65.32,404.39 L65.95,402.98 L66.59,401.51 L67.22,400.04 L67.83,398.62 L68.4,397.3 L68.94,396.05 L69.46,394.81 L69.96,393.57 L70.45,392.35 L70.94,391.15 L71.42,389.97 L71.91,388.82 L72.4,387.7 L72.9,386.59 L73.41,385.47 L73.92,384.36 L74.43,383.28 L74.93,382.26 L75.43,381.3 L75.92,380.45 L76.4,379.7 L76.85,379.12 L77.25,378.71 L77.64,378.41 L78.03,378.18 L78.43,377.95 L78.88,377.68 L79.4,377.31 L80,376.8 L80.7,376.15 L81.48,375.4 L82.32,374.59 L83.21,373.73 L84.12,372.82 L85.03,371.88 L85.93,370.94 L86.8,370 L87.66,369.08 L88.56,368.16 L89.46,367.24 L90.36,366.29 L91.23,365.29 L92.06,364.24 L92.82,363.12 L93.5,361.9 L94.09,360.56 L94.6,359.1 L95.06,357.56 L95.46,355.96 L95.84,354.35 L96.19,352.74 L96.54,351.18 L96.9,349.7 L97.25,348.33 L97.55,347.06 L97.84,345.85 L98.11,344.64 L98.39,343.4 L98.69,342.08 L99.02,340.62 L99.4,339 L99.83,337.18 L100.29,335.21 L100.78,333.12 L101.29,330.94 L101.81,328.71 L102.34,326.47 L102.88,324.25 L103.4,322.1 L103.92,319.93 L104.44,317.67 L104.96,315.37 L105.49,313.09 L106.02,310.89 L106.57,308.8 L107.13,306.89 L107.7,305.2 L108.3,303.7 L108.92,302.32 L109.56,301.07 L110.21,299.96 L110.85,299.01 L111.49,298.22 L112.11,297.62 L112.7,297.2 L113.27,296.96 L113.83,296.87 L114.37,296.95 L114.9,297.2 L115.42,297.63 L115.93,298.25 L116.42,299.07 L116.9,300.1 L117.36,301.35 L117.79,302.81 L118.2,304.48 L118.6,306.34 L119,308.36 L119.41,310.54 L119.84,312.86 L120.3,315.3 L120.79,317.98 L121.32,320.95 L121.86,324.14 L122.42,327.45 L122.97,330.78 L123.51,334.05 L124.02,337.15 L124.5,340 L124.94,342.52 L125.35,344.78 L125.73,346.87 L126.1,348.89 L126.46,350.96 L126.83,353.16 L127.21,355.61 L127.6,358.4 L128.01,361.63 L128.43,365.22 L128.85,369.08 L129.27,373.06 L129.7,377.07 L130.14,380.97 L130.57,384.65 L131,388 L131.43,391.08 L131.84,394.03 L132.26,396.84 L132.68,399.51 L133.11,402.03 L133.55,404.39 L134.01,406.58 L134.5,408.6 L135.01,410.42 L135.53,412.05 L136.06,413.5 L136.61,414.8 L137.18,415.96 L137.77,417 L138.37,417.94 L139,418.8 L139.59,419.54 L140.12,420.11 L140.63,420.56 L141.18,420.9 L141.81,421.17 L142.57,421.39 L143.52,421.59 L144.7,421.8 L145.86,421.99 L146.85,422.13 L147.86,422.23 L149.08,422.29 L150.71,422.32 L152.95,422.35 L155.98,422.37 L160,422.4 L165.6,422.43 L172.86,422.44 L181.17,422.44 L189.96,422.44 L198.62,422.43 L206.58,422.41 L213.23,422.4 L218,422.4" stroke="#3cb450" stroke-width="1.1" fill="none" />
<path d="M36.4,395.7 L36.7,395.88 L37.1,396.11 L37.57,396.39 L38.1,396.7 L38.67,397.04 L39.25,397.39 L39.83,397.75 L40.4,398.1 L40.96,398.44 L41.54,398.77 L42.14,399.1 L42.75,399.45 L43.36,399.83 L43.98,400.26 L44.59,400.74 L45.2,401.3 L45.8,401.99 L46.4,402.81 L47,403.71 L47.6,404.65 L48.2,405.57 L48.8,406.42 L49.4,407.15 L50,407.7 L50.59,408.06 L51.18,408.27 L51.76,408.38 L52.35,408.4 L52.94,408.39 L53.54,408.37 L54.16,408.4 L54.8,408.5 L55.48,408.68 L56.2,408.92 L56.95,409.18 L57.7,409.45 L58.44,409.7 L59.15,409.91 L59.81,410.05 L60.4,410.1 L60.9,410.1 L61.33,410.08 L61.71,410.02 L62.05,409.9 L62.39,409.71 L62.74,409.43 L63.14,409.03 L63.6,408.5 L64.12,407.8 L64.67,406.93 L65.25,405.93 L65.85,404.85 L66.47,403.72 L67.11,402.59 L67.75,401.51 L68.4,400.5 L69.06,399.55 L69.73,398.61 L70.42,397.68 L71.12,396.76 L71.84,395.85 L72.55,394.98 L73.28,394.12 L74,393.3 L74.73,392.51 L75.45,391.76 L76.19,391.04 L76.93,390.34 L77.67,389.65 L78.43,388.97 L79.21,388.29 L80,387.6 L80.81,386.92 L81.65,386.28 L82.5,385.65 L83.36,385.01 L84.22,384.37 L85.09,383.69 L85.95,382.97 L86.8,382.2 L87.66,381.35 L88.56,380.42 L89.46,379.44 L90.36,378.44 L91.23,377.44 L92.06,376.46 L92.82,375.54 L93.5,374.7 L94.08,373.97 L94.58,373.33 L95.02,372.75 L95.41,372.19 L95.77,371.63 L96.13,371.01 L96.5,370.32 L96.9,369.5 L97.33,368.59 L97.75,367.62 L98.18,366.6 L98.61,365.52 L99.03,364.37 L99.46,363.16 L99.88,361.87 L100.3,360.5 L100.72,359.02 L101.13,357.41 L101.54,355.7 L101.95,353.94 L102.36,352.15 L102.77,350.38 L103.18,348.65 L103.6,347 L104.02,345.39 L104.45,343.76 L104.89,342.14 L105.32,340.56 L105.75,339.02 L106.18,337.57 L106.59,336.22 L107,335 L107.39,333.9 L107.78,332.89 L108.16,331.98 L108.53,331.15 L108.9,330.4 L109.27,329.73 L109.63,329.13 L110,328.6 L110.36,328.14 L110.71,327.75 L111.06,327.43 L111.4,327.19 L111.75,327.03 L112.11,326.94 L112.5,326.93 L112.9,327 L113.33,327.13 L113.79,327.33 L114.27,327.6 L114.76,327.94 L115.25,328.38 L115.74,328.91 L116.23,329.55 L116.7,330.3 L117.16,331.15 L117.61,332.07 L118.05,333.09 L118.49,334.21 L118.94,335.44 L119.38,336.81 L119.84,338.33 L120.3,340 L120.77,341.82 L121.24,343.78 L121.71,345.87 L122.19,348.09 L122.67,350.46 L123.17,352.96 L123.68,355.61 L124.2,358.4 L124.75,361.46 L125.33,364.83 L125.93,368.42 L126.53,372.11 L127.13,375.8 L127.72,379.39 L128.28,382.75 L128.8,385.8 L129.27,388.55 L129.71,391.13 L130.11,393.55 L130.51,395.83 L130.9,398 L131.3,400.07 L131.73,402.06 L132.2,404 L132.69,405.89 L133.17,407.7 L133.65,409.43 L134.16,411.07 L134.71,412.6 L135.3,414.03 L135.96,415.33 L136.7,416.5 L137.48,417.52 L138.28,418.41 L139.12,419.17 L140.02,419.81 L141.01,420.36 L142.1,420.84 L143.33,421.24 L144.7,421.6 L145.97,421.87 L147.01,422.02 L148.03,422.08 L149.22,422.07 L150.81,422.02 L153,421.96 L155.99,421.91 L160,421.9 L165.6,421.91 L172.86,421.92 L181.17,421.92 L189.96,421.92 L198.62,421.91 L206.58,421.91 L213.23,421.9 L218,421.9" stroke="#c89628" stroke-width="1.2" fill="none" />
</g>
<defs><clipPath id="dclip"><rect x="36.4" y="265" width="181.6" height="158"/></clipPath></defs>
<line x1="150" y1="421.8" x2="218" y2="421.8" stroke="#c89628" stroke-width="1.6" />
<line x1="33.8" y1="265.3" x2="218.3" y2="265.3" stroke="#777" stroke-width="1.1" />
<line x1="218.3" y1="265.3" x2="218.3" y2="423" stroke="#444" stroke-width="1.1" />
<line x1="36.3" y1="265" x2="36.3" y2="423" stroke="#000" stroke-width="1.1" />
<line x1="35.8" y1="423.2" x2="218.8" y2="423.2" stroke="#000" stroke-width="1.2" />
<line x1="33.1" y1="422.8" x2="36.3" y2="422.8" stroke="#000" stroke-width="1.0" />
<line x1="34.3" y1="407.05" x2="36.3" y2="407.05" stroke="#000" stroke-width="1.0" />
<line x1="34.3" y1="391.3" x2="36.3" y2="391.3" stroke="#000" stroke-width="1.0" />
<line x1="34.3" y1="375.55" x2="36.3" y2="375.55" stroke="#000" stroke-width="1.0" />
<line x1="33.1" y1="359.8" x2="36.3" y2="359.8" stroke="#000" stroke-width="1.0" />
<line x1="34.3" y1="344.05" x2="36.3" y2="344.05" stroke="#000" stroke-width="1.0" />
<line x1="34.3" y1="328.3" x2="36.3" y2="328.3" stroke="#000" stroke-width="1.0" />
<line x1="34.3" y1="312.55" x2="36.3" y2="312.55" stroke="#000" stroke-width="1.0" />
<line x1="33.1" y1="296.8" x2="36.3" y2="296.8" stroke="#000" stroke-width="1.0" />
<line x1="34.3" y1="281.05" x2="36.3" y2="281.05" stroke="#000" stroke-width="1.0" />
<text x="30.2" y="427.1" font-size="11.6" text-anchor="end" font-weight="normal" font-style="normal" fill="#222" >0</text>
<text x="30.2" y="364.1" font-size="11.6" text-anchor="end" font-weight="normal" font-style="normal" fill="#222" >1</text>
<text x="30.2" y="301.1" font-size="11.6" text-anchor="end" font-weight="normal" font-style="normal" fill="#222" >2</text>
<line x1="42.5" y1="423.2" x2="42.5" y2="425.4" stroke="#000" stroke-width="1.0" />
<line x1="58.5" y1="423.2" x2="58.5" y2="425.4" stroke="#000" stroke-width="1.0" />
<line x1="74.5" y1="423.2" x2="74.5" y2="425.4" stroke="#000" stroke-width="1.0" />
<line x1="90.5" y1="423.2" x2="90.5" y2="426.4" stroke="#000" stroke-width="1.0" />
<line x1="106.5" y1="423.2" x2="106.5" y2="425.4" stroke="#000" stroke-width="1.0" />
<line x1="122.5" y1="423.2" x2="122.5" y2="425.4" stroke="#000" stroke-width="1.0" />
<line x1="138.5" y1="423.2" x2="138.5" y2="425.4" stroke="#000" stroke-width="1.0" />
<line x1="154.5" y1="423.2" x2="154.5" y2="426.4" stroke="#000" stroke-width="1.0" />
<line x1="170.5" y1="423.2" x2="170.5" y2="425.4" stroke="#000" stroke-width="1.0" />
<line x1="186.5" y1="423.2" x2="186.5" y2="425.4" stroke="#000" stroke-width="1.0" />
<line x1="202.5" y1="423.2" x2="202.5" y2="425.4" stroke="#000" stroke-width="1.0" />
<line x1="218.5" y1="423.2" x2="218.5" y2="426.4" stroke="#000" stroke-width="1.0" />
<text x="36" y="439.3" font-size="11.7" text-anchor="middle" font-weight="normal" font-style="normal" fill="#222" >200</text>
<text x="87.4" y="439.3" font-size="11.7" text-anchor="middle" font-weight="normal" font-style="normal" fill="#222" >400</text>
<text x="152.3" y="439.3" font-size="11.7" text-anchor="middle" font-weight="normal" font-style="normal" fill="#222" >600</text>
<text x="214.1" y="439.3" font-size="11.7" text-anchor="middle" font-weight="normal" font-style="normal" fill="#222" >800</text>
<text x="132.3" y="454" font-size="12" text-anchor="middle" font-weight="normal" font-style="normal" fill="#222" >Wavelength (nm)</text>
<text x="0" y="0" font-size="12" text-anchor="middle" font-weight="normal" font-style="normal" fill="#222" transform="translate(15.6,345) rotate(-90)">Absorbance</text>
<line x1="130.1" y1="275.2" x2="144" y2="275.2" stroke="#3a78e6" stroke-width="1.2" />
<text x="146.6" y="279.5" font-size="10.3" text-anchor="start" font-weight="normal" font-style="normal" fill="#222" >VPMEH</text>
<line x1="130.1" y1="287.47" x2="144" y2="287.47" stroke="#e8383c" stroke-width="1.2" />
<text x="146.6" y="291.77" font-size="10.3" text-anchor="start" font-weight="normal" font-style="normal" fill="#222" >VPSP</text>
<line x1="130.1" y1="299.74" x2="144" y2="299.74" stroke="#3cb450" stroke-width="1.2" />
<text x="146.6" y="304.04" font-size="10.3" text-anchor="start" font-weight="normal" font-style="normal" fill="#222" >VPMEH-CB[7]</text>
<line x1="130.8" y1="312.01" x2="144" y2="312.01" stroke="#3cb450" stroke-width="1.5" stroke-dasharray="0.4,3.6" stroke-linecap="round"/>
<text x="146.6" y="316.31" font-size="10.3" text-anchor="start" font-weight="normal" font-style="normal" fill="#222" >VPSP-CB[7]</text>
<line x1="130.1" y1="324.28" x2="144" y2="324.28" stroke="#c89628" stroke-width="1.2" />
<text x="146.6" y="328.58" font-size="10.3" text-anchor="start" font-weight="normal" font-style="normal" fill="#222" >VPMEH-CB[8]</text>
<line x1="130.8" y1="336.55" x2="144" y2="336.55" stroke="#c89628" stroke-width="1.5" stroke-dasharray="0.4,3.6" stroke-linecap="round"/>
<text x="146.6" y="340.85" font-size="10.3" text-anchor="start" font-weight="normal" font-style="normal" fill="#222" >VPSP-CB[8]</text>
<defs><linearGradient id="cuvtop" x1="0" y1="0" x2="1" y2="0"><stop offset="0" stop-color="#b4b4b4"/><stop offset="0.5" stop-color="#e6e6e6"/><stop offset="1" stop-color="#bcbcbc"/></linearGradient></defs>
<rect x="148.4" y="350.8" width="15.8" height="52.0" fill="#8e8676"/>
<rect x="149.70000000000002" y="351.4" width="13.2" height="50.6" fill="url(#cuvtop)"/>
<path d="M149.70000000000002,364.6 Q156.3,369.4 162.9,364.6 L162.9,401.4 L149.70000000000002,401.4 Z" fill="url(#cuv1)"/>
<path d="M150.0,364.8 Q156.3,369.2 162.6,364.8" fill="none" stroke="#a0602a" stroke-width="0.9"/>
<text x="156.3" y="417.2" font-size="12.5" text-anchor="middle" font-weight="bold" font-style="normal" fill="#2a4ae6" >1</text>
<rect x="187.4" y="350.8" width="15.8" height="52.0" fill="#b0b0a0"/>
<rect x="188.70000000000002" y="351.4" width="13.2" height="50.6" fill="url(#cuvtop)"/>
<path d="M188.70000000000002,364.6 Q195.3,369.4 201.9,364.6 L201.9,401.4 L188.70000000000002,401.4 Z" fill="url(#cuv2)"/>
<path d="M189.0,364.8 Q195.3,369.2 201.6,364.8" fill="none" stroke="#c8b040" stroke-width="0.9"/>
<text x="195.3" y="417.2" font-size="12.5" text-anchor="middle" font-weight="bold" font-style="normal" fill="#ee2020" >2</text>
<rect x="302.45" y="267.6" width="21.75" height="153.6" fill="#c2c2c2"/>
<rect x="344.55" y="267.6" width="21.75" height="153.6" fill="#c2c2c2"/>
<rect x="386.65" y="267.6" width="21.75" height="153.6" fill="#c2c2c2"/>
<rect x="428.75" y="267.6" width="21.75" height="153.6" fill="#c2c2c2"/>
<rect x="470.85" y="267.6" width="21.75" height="153.6" fill="#c2c2c2"/>
<rect x="512.95" y="267.6" width="21.75" height="153.6" fill="#c2c2c2"/>
<rect x="555.05" y="267.6" width="21.75" height="153.6" fill="#c2c2c2"/>
<rect x="597.15" y="267.6" width="21.75" height="153.6" fill="#c2c2c2"/>
<rect x="639.25" y="267.6" width="21.75" height="153.6" fill="#c2c2c2"/>
<line x1="282.89" y1="305.59" x2="301.96" y2="392.31" stroke="#46b864" stroke-width="1.7" stroke-dasharray="9,8.5" stroke-dashoffset="0"/>
<line x1="303.94" y1="392.31" x2="323.01" y2="305.59" stroke="#46b864" stroke-width="1.7" stroke-dasharray="9,8.5" stroke-dashoffset="0"/>
<line x1="324.99" y1="305.59" x2="344.06" y2="392.31" stroke="#46b864" stroke-width="1.7" stroke-dasharray="9,8.5" stroke-dashoffset="0"/>
<line x1="346.04" y1="392.31" x2="365.11" y2="305.59" stroke="#46b864" stroke-width="1.7" stroke-dasharray="9,8.5" stroke-dashoffset="0"/>
<line x1="367.09" y1="305.59" x2="386.16" y2="392.31" stroke="#46b864" stroke-width="1.7" stroke-dasharray="9,8.5" stroke-dashoffset="0"/>
<line x1="388.14" y1="392.31" x2="407.21" y2="305.59" stroke="#46b864" stroke-width="1.7" stroke-dasharray="9,8.5" stroke-dashoffset="0"/>
<line x1="409.19" y1="305.59" x2="428.26" y2="392.31" stroke="#46b864" stroke-width="1.7" stroke-dasharray="9,8.5" stroke-dashoffset="0"/>
<line x1="430.24" y1="392.31" x2="449.31" y2="305.59" stroke="#46b864" stroke-width="1.7" stroke-dasharray="9,8.5" stroke-dashoffset="0"/>
<line x1="451.29" y1="305.59" x2="470.36" y2="392.31" stroke="#46b864" stroke-width="1.7" stroke-dasharray="9,8.5" stroke-dashoffset="0"/>
<line x1="472.34" y1="392.31" x2="491.41" y2="305.89" stroke="#46b864" stroke-width="1.7" stroke-dasharray="9,8.5" stroke-dashoffset="0"/>
<line x1="493.39" y1="305.89" x2="512.46" y2="392.31" stroke="#46b864" stroke-width="1.7" stroke-dasharray="9,8.5" stroke-dashoffset="0"/>
<line x1="514.44" y1="392.31" x2="533.51" y2="306.09" stroke="#46b864" stroke-width="1.7" stroke-dasharray="9,8.5" stroke-dashoffset="0"/>
<line x1="535.49" y1="306.09" x2="554.56" y2="392.31" stroke="#46b864" stroke-width="1.7" stroke-dasharray="9,8.5" stroke-dashoffset="0"/>
<line x1="556.55" y1="392.31" x2="575.6" y2="306.29" stroke="#46b864" stroke-width="1.7" stroke-dasharray="9,8.5" stroke-dashoffset="0"/>
<line x1="577.6" y1="306.29" x2="596.65" y2="392.31" stroke="#46b864" stroke-width="1.7" stroke-dasharray="9,8.5" stroke-dashoffset="0"/>
<line x1="598.66" y1="392.31" x2="617.69" y2="307.59" stroke="#46b864" stroke-width="1.7" stroke-dasharray="9,8.5" stroke-dashoffset="0"/>
<line x1="619.71" y1="307.59" x2="638.74" y2="392.31" stroke="#46b864" stroke-width="1.7" stroke-dasharray="9,8.5" stroke-dashoffset="0"/>
<line x1="640.76" y1="392.31" x2="659.79" y2="307.79" stroke="#46b864" stroke-width="1.7" stroke-dasharray="9,8.5" stroke-dashoffset="0"/>
<circle cx="281.9" cy="301.1" r="3.9" fill="#fff" stroke="#46b864" stroke-width="1.6"/>
<circle cx="324" cy="301.1" r="3.9" fill="#fff" stroke="#46b864" stroke-width="1.6"/>
<circle cx="366.1" cy="301.1" r="3.9" fill="#fff" stroke="#46b864" stroke-width="1.6"/>
<circle cx="408.2" cy="301.1" r="3.9" fill="#fff" stroke="#46b864" stroke-width="1.6"/>
<circle cx="450.3" cy="301.1" r="3.9" fill="#fff" stroke="#46b864" stroke-width="1.6"/>
<circle cx="492.4" cy="301.4" r="3.9" fill="#fff" stroke="#46b864" stroke-width="1.6"/>
<circle cx="534.5" cy="301.6" r="3.9" fill="#fff" stroke="#46b864" stroke-width="1.6"/>
<circle cx="576.6" cy="301.8" r="3.9" fill="#fff" stroke="#46b864" stroke-width="1.6"/>
<circle cx="618.7" cy="303.1" r="3.9" fill="#fff" stroke="#46b864" stroke-width="1.6"/>
<circle cx="660.8" cy="303.3" r="3.9" fill="#fff" stroke="#46b864" stroke-width="1.6"/>
<circle cx="302.95" cy="396.8" r="3.9" fill="#fff" stroke="#46b864" stroke-width="1.6"/>
<circle cx="345.05" cy="396.8" r="3.9" fill="#fff" stroke="#46b864" stroke-width="1.6"/>
<circle cx="387.15" cy="396.8" r="3.9" fill="#fff" stroke="#46b864" stroke-width="1.6"/>
<circle cx="429.25" cy="396.8" r="3.9" fill="#fff" stroke="#46b864" stroke-width="1.6"/>
<circle cx="471.35" cy="396.8" r="3.9" fill="#fff" stroke="#46b864" stroke-width="1.6"/>
<circle cx="513.45" cy="396.8" r="3.9" fill="#fff" stroke="#46b864" stroke-width="1.6"/>
<circle cx="555.55" cy="396.8" r="3.9" fill="#fff" stroke="#46b864" stroke-width="1.6"/>
<circle cx="597.65" cy="396.8" r="3.9" fill="#fff" stroke="#46b864" stroke-width="1.6"/>
<circle cx="639.75" cy="396.8" r="3.9" fill="#fff" stroke="#46b864" stroke-width="1.6"/>
<line x1="282.92" y1="323.68" x2="301.93" y2="406.82" stroke="#3a78e6" stroke-width="1.7" stroke-dasharray="9,8.5" stroke-dashoffset="0"/>
<line x1="303.97" y1="406.82" x2="322.98" y2="323.68" stroke="#3a78e6" stroke-width="1.7" stroke-dasharray="9,8.5" stroke-dashoffset="0"/>
<line x1="325.02" y1="323.68" x2="344.03" y2="406.82" stroke="#3a78e6" stroke-width="1.7" stroke-dasharray="9,8.5" stroke-dashoffset="0"/>
<line x1="346.07" y1="406.82" x2="365.08" y2="323.68" stroke="#3a78e6" stroke-width="1.7" stroke-dasharray="9,8.5" stroke-dashoffset="0"/>
<line x1="367.12" y1="323.68" x2="386.13" y2="406.82" stroke="#3a78e6" stroke-width="1.7" stroke-dasharray="9,8.5" stroke-dashoffset="0"/>
<line x1="388.17" y1="406.82" x2="407.18" y2="323.68" stroke="#3a78e6" stroke-width="1.7" stroke-dasharray="9,8.5" stroke-dashoffset="0"/>
<line x1="409.22" y1="323.68" x2="428.23" y2="406.82" stroke="#3a78e6" stroke-width="1.7" stroke-dasharray="9,8.5" stroke-dashoffset="0"/>
<line x1="430.27" y1="406.82" x2="449.28" y2="323.68" stroke="#3a78e6" stroke-width="1.7" stroke-dasharray="9,8.5" stroke-dashoffset="0"/>
<line x1="451.32" y1="323.68" x2="470.33" y2="406.82" stroke="#3a78e6" stroke-width="1.7" stroke-dasharray="9,8.5" stroke-dashoffset="0"/>
<line x1="472.38" y1="406.82" x2="491.37" y2="324.08" stroke="#3a78e6" stroke-width="1.7" stroke-dasharray="9,8.5" stroke-dashoffset="0"/>
<line x1="493.43" y1="324.08" x2="512.42" y2="406.82" stroke="#3a78e6" stroke-width="1.7" stroke-dasharray="9,8.5" stroke-dashoffset="0"/>
<line x1="514.48" y1="406.82" x2="533.47" y2="324.28" stroke="#3a78e6" stroke-width="1.7" stroke-dasharray="9,8.5" stroke-dashoffset="0"/>
<line x1="535.53" y1="324.28" x2="554.52" y2="406.82" stroke="#3a78e6" stroke-width="1.7" stroke-dasharray="9,8.5" stroke-dashoffset="0"/>
<line x1="556.58" y1="406.82" x2="575.57" y2="324.48" stroke="#3a78e6" stroke-width="1.7" stroke-dasharray="9,8.5" stroke-dashoffset="0"/>
<line x1="577.63" y1="324.48" x2="596.62" y2="406.82" stroke="#3a78e6" stroke-width="1.7" stroke-dasharray="9,8.5" stroke-dashoffset="0"/>
<line x1="598.7" y1="406.82" x2="617.65" y2="325.68" stroke="#3a78e6" stroke-width="1.7" stroke-dasharray="9,8.5" stroke-dashoffset="0"/>
<line x1="619.75" y1="325.68" x2="638.7" y2="406.82" stroke="#3a78e6" stroke-width="1.7" stroke-dasharray="9,8.5" stroke-dashoffset="0"/>
<line x1="640.81" y1="406.82" x2="659.74" y2="326.88" stroke="#3a78e6" stroke-width="1.7" stroke-dasharray="9,8.5" stroke-dashoffset="0"/>
<rect x="278.5" y="315.8" width="6.8" height="6.8" fill="#fff" stroke="#3a78e6" stroke-width="1.6"/>
<rect x="320.6" y="315.8" width="6.8" height="6.8" fill="#fff" stroke="#3a78e6" stroke-width="1.6"/>
<rect x="362.7" y="315.8" width="6.8" height="6.8" fill="#fff" stroke="#3a78e6" stroke-width="1.6"/>
<rect x="404.8" y="315.8" width="6.8" height="6.8" fill="#fff" stroke="#3a78e6" stroke-width="1.6"/>
<rect x="446.9" y="315.8" width="6.8" height="6.8" fill="#fff" stroke="#3a78e6" stroke-width="1.6"/>
<rect x="489" y="316.2" width="6.8" height="6.8" fill="#fff" stroke="#3a78e6" stroke-width="1.6"/>
<rect x="531.1" y="316.4" width="6.8" height="6.8" fill="#fff" stroke="#3a78e6" stroke-width="1.6"/>
<rect x="573.2" y="316.6" width="6.8" height="6.8" fill="#fff" stroke="#3a78e6" stroke-width="1.6"/>
<rect x="615.3" y="317.8" width="6.8" height="6.8" fill="#fff" stroke="#3a78e6" stroke-width="1.6"/>
<rect x="657.4" y="319" width="6.8" height="6.8" fill="#fff" stroke="#3a78e6" stroke-width="1.6"/>
<rect x="299.55" y="407.9" width="6.8" height="6.8" fill="#fff" stroke="#3a78e6" stroke-width="1.6"/>
<rect x="341.65" y="407.9" width="6.8" height="6.8" fill="#fff" stroke="#3a78e6" stroke-width="1.6"/>
<rect x="383.75" y="407.9" width="6.8" height="6.8" fill="#fff" stroke="#3a78e6" stroke-width="1.6"/>
<rect x="425.85" y="407.9" width="6.8" height="6.8" fill="#fff" stroke="#3a78e6" stroke-width="1.6"/>
<rect x="467.95" y="407.9" width="6.8" height="6.8" fill="#fff" stroke="#3a78e6" stroke-width="1.6"/>
<rect x="510.05" y="407.9" width="6.8" height="6.8" fill="#fff" stroke="#3a78e6" stroke-width="1.6"/>
<rect x="552.15" y="407.9" width="6.8" height="6.8" fill="#fff" stroke="#3a78e6" stroke-width="1.6"/>
<rect x="594.25" y="407.9" width="6.8" height="6.8" fill="#fff" stroke="#3a78e6" stroke-width="1.6"/>
<rect x="636.35" y="407.9" width="6.8" height="6.8" fill="#fff" stroke="#3a78e6" stroke-width="1.6"/>
<line x1="283.06" y1="327.25" x2="301.79" y2="398.95" stroke="#c89628" stroke-width="1.7" stroke-dasharray="9,8.5" stroke-dashoffset="0"/>
<line x1="304.11" y1="398.95" x2="322.84" y2="327.25" stroke="#c89628" stroke-width="1.7" stroke-dasharray="9,8.5" stroke-dashoffset="0"/>
<line x1="325.16" y1="327.25" x2="343.89" y2="398.95" stroke="#c89628" stroke-width="1.7" stroke-dasharray="9,8.5" stroke-dashoffset="0"/>
<line x1="346.21" y1="398.95" x2="364.94" y2="327.25" stroke="#c89628" stroke-width="1.7" stroke-dasharray="9,8.5" stroke-dashoffset="0"/>
<line x1="367.26" y1="327.25" x2="385.99" y2="398.95" stroke="#c89628" stroke-width="1.7" stroke-dasharray="9,8.5" stroke-dashoffset="0"/>
<line x1="388.31" y1="398.95" x2="407.04" y2="327.25" stroke="#c89628" stroke-width="1.7" stroke-dasharray="9,8.5" stroke-dashoffset="0"/>
<line x1="409.36" y1="327.25" x2="428.09" y2="398.95" stroke="#c89628" stroke-width="1.7" stroke-dasharray="9,8.5" stroke-dashoffset="0"/>
<line x1="430.41" y1="398.95" x2="449.14" y2="327.25" stroke="#c89628" stroke-width="1.7" stroke-dasharray="9,8.5" stroke-dashoffset="0"/>
<line x1="451.46" y1="327.25" x2="470.19" y2="398.95" stroke="#c89628" stroke-width="1.7" stroke-dasharray="9,8.5" stroke-dashoffset="0"/>
<line x1="472.51" y1="398.95" x2="491.24" y2="327.25" stroke="#c89628" stroke-width="1.7" stroke-dasharray="9,8.5" stroke-dashoffset="0"/>
<line x1="493.56" y1="327.25" x2="512.29" y2="398.95" stroke="#c89628" stroke-width="1.7" stroke-dasharray="9,8.5" stroke-dashoffset="0"/>
<line x1="514.62" y1="398.95" x2="533.33" y2="327.55" stroke="#c89628" stroke-width="1.7" stroke-dasharray="9,8.5" stroke-dashoffset="0"/>
<line x1="535.67" y1="327.55" x2="554.38" y2="398.95" stroke="#c89628" stroke-width="1.7" stroke-dasharray="9,8.5" stroke-dashoffset="0"/>
<line x1="556.72" y1="398.95" x2="575.43" y2="327.75" stroke="#c89628" stroke-width="1.7" stroke-dasharray="9,8.5" stroke-dashoffset="0"/>
<line x1="577.77" y1="327.75" x2="596.48" y2="398.95" stroke="#c89628" stroke-width="1.7" stroke-dasharray="9,8.5" stroke-dashoffset="0"/>
<line x1="598.86" y1="398.96" x2="617.49" y2="330.74" stroke="#c89628" stroke-width="1.7" stroke-dasharray="9,8.5" stroke-dashoffset="0"/>
<line x1="619.91" y1="330.74" x2="638.54" y2="398.96" stroke="#c89628" stroke-width="1.7" stroke-dasharray="9,8.5" stroke-dashoffset="0"/>
<line x1="640.98" y1="398.97" x2="659.57" y2="332.03" stroke="#c89628" stroke-width="1.7" stroke-dasharray="9,8.5" stroke-dashoffset="0"/>
<path d="M277,326.2 L286.8,326.2 L281.9,318.2 Z" fill="#fff" stroke="#c89628" stroke-width="1.6" stroke-linejoin="miter"/>
<path d="M319.1,326.2 L328.9,326.2 L324,318.2 Z" fill="#fff" stroke="#c89628" stroke-width="1.6" stroke-linejoin="miter"/>
<path d="M361.2,326.2 L371,326.2 L366.1,318.2 Z" fill="#fff" stroke="#c89628" stroke-width="1.6" stroke-linejoin="miter"/>
<path d="M403.3,326.2 L413.1,326.2 L408.2,318.2 Z" fill="#fff" stroke="#c89628" stroke-width="1.6" stroke-linejoin="miter"/>
<path d="M445.4,326.2 L455.2,326.2 L450.3,318.2 Z" fill="#fff" stroke="#c89628" stroke-width="1.6" stroke-linejoin="miter"/>
<path d="M487.5,326.2 L497.3,326.2 L492.4,318.2 Z" fill="#fff" stroke="#c89628" stroke-width="1.6" stroke-linejoin="miter"/>
<path d="M529.6,326.5 L539.4,326.5 L534.5,318.5 Z" fill="#fff" stroke="#c89628" stroke-width="1.6" stroke-linejoin="miter"/>
<path d="M571.7,326.7 L581.5,326.7 L576.6,318.7 Z" fill="#fff" stroke="#c89628" stroke-width="1.6" stroke-linejoin="miter"/>
<path d="M613.8,329.7 L623.6,329.7 L618.7,321.7 Z" fill="#fff" stroke="#c89628" stroke-width="1.6" stroke-linejoin="miter"/>
<path d="M655.9,331 L665.7,331 L660.8,323 Z" fill="#fff" stroke="#c89628" stroke-width="1.6" stroke-linejoin="miter"/>
<path d="M298.05,406.8 L307.85,406.8 L302.95,398.8 Z" fill="#fff" stroke="#c89628" stroke-width="1.6" stroke-linejoin="miter"/>
<path d="M340.15,406.8 L349.95,406.8 L345.05,398.8 Z" fill="#fff" stroke="#c89628" stroke-width="1.6" stroke-linejoin="miter"/>
<path d="M382.25,406.8 L392.05,406.8 L387.15,398.8 Z" fill="#fff" stroke="#c89628" stroke-width="1.6" stroke-linejoin="miter"/>
<path d="M424.35,406.8 L434.15,406.8 L429.25,398.8 Z" fill="#fff" stroke="#c89628" stroke-width="1.6" stroke-linejoin="miter"/>
<path d="M466.45,406.8 L476.25,406.8 L471.35,398.8 Z" fill="#fff" stroke="#c89628" stroke-width="1.6" stroke-linejoin="miter"/>
<path d="M508.55,406.8 L518.35,406.8 L513.45,398.8 Z" fill="#fff" stroke="#c89628" stroke-width="1.6" stroke-linejoin="miter"/>
<path d="M550.65,406.8 L560.45,406.8 L555.55,398.8 Z" fill="#fff" stroke="#c89628" stroke-width="1.6" stroke-linejoin="miter"/>
<path d="M592.75,406.8 L602.55,406.8 L597.65,398.8 Z" fill="#fff" stroke="#c89628" stroke-width="1.6" stroke-linejoin="miter"/>
<path d="M634.85,406.8 L644.65,406.8 L639.75,398.8 Z" fill="#fff" stroke="#c89628" stroke-width="1.6" stroke-linejoin="miter"/>
<line x1="267.9" y1="267.6" x2="673.7" y2="267.6" stroke="#555" stroke-width="1.1" />
<line x1="673.7" y1="267.6" x2="673.7" y2="421.2" stroke="#333" stroke-width="1.1" />
<line x1="269.4" y1="267.6" x2="269.4" y2="421.7" stroke="#000" stroke-width="1.1" />
<line x1="268.9" y1="421.2" x2="674.2" y2="421.2" stroke="#000" stroke-width="1.1" />
<line x1="264.6" y1="415.4" x2="269.4" y2="415.4" stroke="#000" stroke-width="1.0" />
<line x1="267.2" y1="385.85" x2="269.4" y2="385.85" stroke="#000" stroke-width="1.0" />
<line x1="264.6" y1="356.3" x2="269.4" y2="356.3" stroke="#000" stroke-width="1.0" />
<line x1="267.2" y1="326.75" x2="269.4" y2="326.75" stroke="#000" stroke-width="1.0" />
<line x1="264.6" y1="297.2" x2="269.4" y2="297.2" stroke="#000" stroke-width="1.0" />
<text x="260.9" y="419.8" font-size="11.6" text-anchor="end" font-weight="normal" font-style="normal" fill="#222" >0</text>
<text x="260.9" y="360.7" font-size="11.6" text-anchor="end" font-weight="normal" font-style="normal" fill="#222" >1</text>
<text x="260.9" y="301.6" font-size="11.6" text-anchor="end" font-weight="normal" font-style="normal" fill="#222" >2</text>
<line x1="281.9" y1="421.2" x2="281.9" y2="423.4" stroke="#000" stroke-width="1.0" />
<line x1="324" y1="421.2" x2="324" y2="424.2" stroke="#000" stroke-width="1.0" />
<line x1="366.1" y1="421.2" x2="366.1" y2="423.4" stroke="#000" stroke-width="1.0" />
<line x1="408.2" y1="421.2" x2="408.2" y2="424.2" stroke="#000" stroke-width="1.0" />
<line x1="450.3" y1="421.2" x2="450.3" y2="423.4" stroke="#000" stroke-width="1.0" />
<line x1="492.4" y1="421.2" x2="492.4" y2="424.2" stroke="#000" stroke-width="1.0" />
<line x1="534.5" y1="421.2" x2="534.5" y2="423.4" stroke="#000" stroke-width="1.0" />
<line x1="576.6" y1="421.2" x2="576.6" y2="424.2" stroke="#000" stroke-width="1.0" />
<line x1="618.7" y1="421.2" x2="618.7" y2="423.4" stroke="#000" stroke-width="1.0" />
<line x1="660.8" y1="421.2" x2="660.8" y2="424.2" stroke="#000" stroke-width="1.0" />
<text x="324" y="439.3" font-size="11.6" text-anchor="middle" font-weight="normal" font-style="normal" fill="#222" >2</text>
<text x="408.2" y="439.3" font-size="11.6" text-anchor="middle" font-weight="normal" font-style="normal" fill="#222" >4</text>
<text x="492.4" y="439.3" font-size="11.6" text-anchor="middle" font-weight="normal" font-style="normal" fill="#222" >6</text>
<text x="576.6" y="439.3" font-size="11.6" text-anchor="middle" font-weight="normal" font-style="normal" fill="#222" >8</text>
<text x="660.8" y="439.3" font-size="11.6" text-anchor="middle" font-weight="normal" font-style="normal" fill="#222" >10</text>
<text x="466" y="454" font-size="12" text-anchor="middle" font-weight="normal" font-style="normal" fill="#222" >Cycle number</text>
<text x="0" y="0" font-size="12" text-anchor="middle" font-weight="normal" font-style="normal" fill="#222" transform="translate(246.3,345) rotate(-90)">Absorbance at 460 nm</text>
<path d="M35.8,563.4 L35.8,561.21 L36.4,560.48 L37,560.8 L37.6,560.62 L38.2,560.05 L38.8,560.88 L39.4,561.38 L40,559.08 L40.6,560.34 L41.2,560.76 L41.8,560.51 L42.4,560.9 L43,560.65 L43.6,561.15 L44.2,559.84 L44.8,560.77 L45.4,561.19 L46,560.12 L46.6,560.59 L47.2,560.35 L47.8,560.47 L48.4,561.07 L49,560.42 L49.6,560.85 L50.2,560.24 L50.8,560.31 L51.4,560.63 L52,561.01 L52.6,560.86 L53.2,560.85 L53.8,560.87 L54.4,560.65 L55,560.78 L55.6,561.25 L56.2,560.35 L56.8,560.85 L57.4,561.19 L58,560.4 L58.6,560.94 L59.2,560.85 L59.8,561.45 L60.4,560.56 L61,560.65 L61.6,560.89 L62.2,559.7 L62.8,560.27 L63.4,560.94 L64,561.09 L64.6,560.8 L65.2,560.8 L65.8,561.28 L66.4,560.55 L67,560.62 L67.6,561.21 L68.2,560.76 L68.8,561.47 L69.4,560.43 L70,561.02 L70.6,560.7 L71.2,560.74 L71.8,561.16 L72.4,561.48 L73,561 L73.6,560.55 L74.2,561.29 L74.8,560.64 L75.4,561.36 L76,561.34 L76.6,560.8 L77.2,561.29 L77.8,560.68 L78.4,561.29 L79,561.11 L79.6,561.19 L80.2,561.47 L80.8,560.52 L81.4,561.21 L82,561.21 L82.6,560.77 L83.2,559.96 L83.8,561.5 L84.4,560.55 L85,561.37 L85.6,560.55 L86.2,561.03 L86.8,560.31 L87.4,561.06 L88,560.88 L88.6,561.05 L89.2,560.68 L89.8,561.24 L90.4,560.57 L91,560.34 L91.6,560.72 L92.2,561.23 L92.8,560.88 L93.4,559.6 L94,560.1 L94.6,561.37 L95.2,560.98 L95.8,561.22 L96.4,561.3 L97,560.99 L97.6,560.06 L98.2,561.46 L98.8,560.74 L99.4,560.78 L100,560.99 L100.6,561.23 L101.2,561.16 L101.8,560.73 L102.4,560.7 L103,561.34 L103.6,559.93 L104.2,560.19 L104.8,560.01 L105.4,561.1 L106,561.39 L106.6,561.52 L107.2,561.26 L107.8,560.75 L108.4,561.39 L109,561.53 L109.6,560.04 L110.2,561.35 L110.8,561.21 L111.4,561.58 L112,560.72 L112.6,560.76 L113.2,560.72 L113.8,561 L114.4,561.41 L115,561.33 L115.6,561.39 L116.2,561.24 L116.8,561.06 L117.4,561.3 L118,561.36 L118.6,560.88 L119.2,561.39 L119.8,561.17 L120.4,561.12 L121,560.79 L121.6,560.8 L122.2,561.41 L122.8,561.23 L123.4,561.54 L124,559.48 L124.6,561.53 L125.2,560.79 L125.8,560.81 L126.4,560.86 L127,559.5 L127.6,561.67 L128.2,560.89 L128.8,560.89 L129.4,561.03 L130,561.55 L130.6,561.57 L131.2,561.11 L131.8,561.65 L132.4,561 L133,561.24 L133.6,561.32 L134.2,561.42 L134.8,561.7 L135.4,561.36 L136,561.67 L136.6,561.4 L137.2,561.01 L137.8,561.38 L138.4,560.92 L139,561.3 L139.6,561.36 L140.2,560.55 L140.8,560.91 L141.4,561.26 L142,560.96 L142.6,561.16 L143.2,561.31 L143.8,561.62 L143.9,563.4 Z" fill="#4a4a4a" stroke="#4a4a4a" stroke-width="0.4"/>
<path d="M56.6,562.4 L57.5,510 L58.4,562.4 Z" fill="#4a4a4a" stroke="#4a4a4a" stroke-width="0.7"/>
<line x1="35.5" y1="563.7" x2="144.2" y2="563.7" stroke="#333" stroke-width="1.2" />
<line x1="35.8" y1="563.4" x2="35.8" y2="566.2" stroke="#333" stroke-width="1.0" />
<line x1="90" y1="563.4" x2="90" y2="566.2" stroke="#333" stroke-width="1.0" />
<line x1="143.9" y1="563.4" x2="143.9" y2="566.2" stroke="#333" stroke-width="1.0" />
<text x="37.2" y="487.3" font-size="12" text-anchor="start" font-weight="normal" font-style="normal" fill="#222" textLength="76.3" lengthAdjust="spacingAndGlyphs">{VPMEH+CB[7]}</text>
<text x="114.6" y="480.8" font-size="9.5" text-anchor="start" font-weight="normal" font-style="normal" fill="#222" >+</text>
<text x="34.8" y="504.8" font-size="11.8" text-anchor="start" font-weight="normal" font-style="normal" fill="#222" >1680.72</text>
<text x="40.8" y="577.9" font-size="11.9" text-anchor="middle" font-weight="normal" font-style="normal" fill="#222" >1600</text>
<text x="142.2" y="577.9" font-size="11.9" text-anchor="middle" font-weight="normal" font-style="normal" fill="#222" >2000</text>
<text x="91.8" y="591" font-size="12.2" text-anchor="middle" font-weight="normal" font-style="normal" fill="#222" >m/z</text>
<path d="M207.2,563 L207.2,556.91 L207.8,554.22 L208.4,557.48 L209,558.56 L209.6,557.82 L210.2,558.94 L210.8,558.36 L211.4,556.87 L212,558 L212.6,558.66 L213.2,558.21 L213.8,558.42 L214.4,558.07 L215,557.58 L215.6,559.04 L216.2,556.92 L216.8,558.94 L217.4,557.43 L218,557.17 L218.6,557.46 L219.2,557 L219.8,559.01 L220.4,557.66 L221,558.12 L221.6,557.17 L222.2,557.4 L222.8,557.28 L223.4,558.31 L224,557.21 L224.6,557.06 L225.2,552.13 L225.8,558.8 L226.4,558.71 L227,557.76 L227.6,558.22 L228.2,558.06 L228.8,558.97 L229.4,557.24 L230,559.3 L230.6,557.75 L231.2,559.03 L231.8,559.35 L232.4,553.52 L233,559.25 L233.6,556.85 L234.2,557.42 L234.8,556.4 L235.4,559.11 L236,559.33 L236.6,559.47 L237.2,554.71 L237.8,555.43 L238.4,552.23 L239,557.87 L239.6,558.11 L240.2,559.29 L240.8,559.48 L241.4,557.78 L242,557.47 L242.6,557.57 L243.2,554.98 L243.8,556.9 L244.4,554.65 L245,558.68 L245.6,559.26 L246.2,559 L246.8,555.92 L247.4,559.24 L248,555.95 L248.6,558.45 L249.2,557.48 L249.8,559.09 L250.4,559.05 L251,558.21 L251.6,556.23 L252.2,558.4 L252.8,554.71 L253.4,558.59 L254,556.68 L254.6,558.61 L255.2,552.6 L255.8,557.5 L256.4,558.69 L257,556.61 L257.6,558.31 L258.2,557.89 L258.8,558.52 L259.4,551.99 L260,555.17 L260.6,559.47 L261.2,557.84 L261.8,559.67 L262.4,558.8 L263,559.25 L263.6,558.07 L264.2,553.4 L264.8,559.3 L265.4,558.87 L266,558.08 L266.6,559.32 L267.2,557.89 L267.8,557.66 L268.4,559.69 L269,558.07 L269.6,558.68 L270.2,558.77 L270.8,559.18 L271.4,558.74 L272,558.04 L272.6,557.26 L273.2,556.91 L273.8,558.33 L274.4,558.54 L275,559.59 L275.6,555.92 L276.2,554.15 L276.8,557.71 L277.4,558.81 L278,558.39 L278.6,558.89 L279.2,559.59 L279.8,557.83 L280.4,559.63 L281,552.83 L281.6,558.87 L282.2,559 L282.8,558.21 L283.4,559.55 L284,559.79 L284.6,555.66 L285.2,558.86 L285.8,558.4 L286.4,558.41 L287,557.89 L287.6,558.34 L288.2,558.32 L288.8,559.43 L289.4,559.07 L290,557.9 L290.6,559.88 L291.2,558.45 L291.8,558.58 L292.4,559.88 L293,558.44 L293.6,558.09 L294.2,559.72 L294.8,554.21 L295.4,554.06 L296,559.66 L296.6,556.3 L297.2,552.83 L297.8,557.61 L298.4,558.28 L299,558.45 L299.6,558.62 L300.2,559.44 L300.8,555.66 L301.4,559.63 L302,558.43 L302.6,558.65 L303.2,557.86 L303.8,559.24 L304.4,556.71 L305,558.1 L305.6,558.95 L306.2,559.14 L306.8,559.41 L307.4,559.08 L308,553.38 L308.6,559.44 L309.2,558.49 L309.8,559.27 L310.4,559.86 L311,559.29 L311.6,558.41 L312.2,558.84 L312.8,559.61 L313.4,553.52 L314,559.85 L314.6,559.34 L315.2,557.46 L315.8,559.76 L316.4,559.53 L317,558.34 L317.6,558.88 L317.7,563 Z" fill="#4a4a4a" stroke="#4a4a4a" stroke-width="0.4"/>
<path d="M216.2,562 L217,553 L217.8,562 Z" fill="#4a4a4a" stroke="#4a4a4a" stroke-width="0.8"/>
<path d="M252.9,562 L253.5,554.5 L254.1,562 Z" fill="#4a4a4a" stroke="#4a4a4a" stroke-width="0.8"/>
<path d="M240.4,562 L241,555 L241.6,562 Z" fill="#4a4a4a" stroke="#4a4a4a" stroke-width="0.8"/>
<path d="M273.4,562 L274,555.5 L274.6,562 Z" fill="#4a4a4a" stroke="#4a4a4a" stroke-width="0.8"/>
<path d="M228.2,562 L229.1,509 L230,562 Z" fill="#4a4a4a" stroke="#4a4a4a" stroke-width="0.7"/>
<line x1="206.9" y1="563.3" x2="318" y2="563.3" stroke="#333" stroke-width="1.2" />
<line x1="207.2" y1="563" x2="207.2" y2="565.8" stroke="#333" stroke-width="1.0" />
<line x1="234.8" y1="563" x2="234.8" y2="565.8" stroke="#333" stroke-width="1.0" />
<line x1="262.4" y1="563" x2="262.4" y2="565.8" stroke="#333" stroke-width="1.0" />
<line x1="290" y1="563" x2="290" y2="565.8" stroke="#333" stroke-width="1.0" />
<line x1="317.7" y1="563" x2="317.7" y2="565.8" stroke="#333" stroke-width="1.0" />
<text x="202.9" y="487.3" font-size="12" text-anchor="start" font-weight="normal" font-style="normal" fill="#222" textLength="67.1" lengthAdjust="spacingAndGlyphs">{VPSP+CB[7]}</text>
<text x="270.8" y="480.8" font-size="9.5" text-anchor="start" font-weight="normal" font-style="normal" fill="#222" >+</text>
<text x="206.9" y="504.8" font-size="11.8" text-anchor="start" font-weight="normal" font-style="normal" fill="#222" >1679.57</text>
<text x="210.3" y="577.9" font-size="11.9" text-anchor="middle" font-weight="normal" font-style="normal" fill="#222" >1600</text>
<text x="313.4" y="577.9" font-size="11.9" text-anchor="middle" font-weight="normal" font-style="normal" fill="#222" >2000</text>
<text x="262.5" y="591" font-size="12.2" text-anchor="middle" font-weight="normal" font-style="normal" fill="#222" >m/z</text>
<path d="M381,564.2 L381,560.31 L381.6,560.02 L382.2,559.44 L382.8,558.97 L383.4,560.33 L384,559.8 L384.6,559.78 L385.2,560.52 L385.8,558.9 L386.4,559.19 L387,560.71 L387.6,559.53 L388.2,560.79 L388.8,559.8 L389.4,558.89 L390,558.79 L390.6,559.06 L391.2,558.76 L391.8,560.34 L392.4,558.7 L393,559.46 L393.6,559.73 L394.2,560.08 L394.8,559.56 L395.4,559.34 L396,558.95 L396.6,556.97 L397.2,558.71 L397.8,559.59 L398.4,560.39 L399,559.59 L399.6,560.73 L400.2,556.51 L400.8,559.47 L401.4,559.15 L402,560.77 L402.6,560.77 L403.2,560.13 L403.8,558.68 L404.4,558.64 L405,560.7 L405.6,560.02 L406.2,559.49 L406.8,558.94 L407.4,558.74 L408,560.03 L408.6,559.72 L409.2,559.55 L409.8,559.5 L410.4,559.75 L411,558.78 L411.6,558.7 L412.2,558.86 L412.8,558.14 L413.4,557.98 L414,559.85 L414.6,560.1 L415.2,559.2 L415.8,559.38 L416.4,560.33 L417,559.57 L417.6,560.08 L418.2,560.07 L418.8,560.22 L419.4,557.88 L420,559.26 L420.6,560.39 L421.2,559.5 L421.8,558.79 L422.4,560.15 L423,559.92 L423.6,560.52 L424.2,559.45 L424.8,559.77 L425.4,557.55 L426,558.6 L426.6,559.11 L427.2,559.11 L427.8,560.61 L428.4,559.14 L429,560.13 L429.6,559.97 L430.2,558.86 L430.8,558.81 L431.4,558.72 L432,558.8 L432.6,560.41 L433.2,559.05 L433.8,559.76 L434.4,560.1 L435,559.6 L435.6,556.54 L436.2,559.37 L436.8,558.93 L437.4,557.7 L438,560.53 L438.6,559.45 L439.2,559.99 L439.8,559.56 L440.4,560.35 L441,559.86 L441.6,558.96 L442.2,557 L442.8,558.88 L443.4,557.6 L444,558.59 L444.6,560.32 L445.2,559.98 L445.8,559.17 L446.4,560.58 L447,558.77 L447.6,560.73 L448.2,560.22 L448.8,560.14 L449.4,559.63 L450,560.5 L450.6,560.65 L451.2,559.35 L451.8,560.06 L452.4,559.59 L453,560.09 L453.6,559.56 L454.2,560.11 L454.8,559.38 L455.4,559.4 L456,560.39 L456.6,558.57 L457.2,559.99 L457.8,558.88 L458.4,558.96 L459,560.35 L459.6,560.66 L460.2,559.48 L460.8,559.2 L461.4,559.32 L462,560.7 L462.6,558.87 L463.2,560.74 L463.8,559 L464.4,556.77 L465,559.46 L465.6,558.85 L466.2,557.17 L466.8,559.82 L467.4,560.7 L468,558.34 L468.6,559.71 L469.2,560.03 L469.8,559.59 L470.4,560.08 L471,560.07 L471.6,558.97 L472.2,558.82 L472.8,557.59 L473.4,559.29 L474,559.82 L474.6,559.54 L475.2,558.68 L475.8,558.95 L476.4,559.98 L477,560.54 L477.6,560.51 L478.2,558.54 L478.8,558.87 L479.4,559.41 L480,559.09 L480.6,560.36 L481.2,559.91 L481.8,560.57 L482.4,560.25 L483,560.64 L483.6,559.91 L484.2,559.94 L484.8,559.17 L485.4,559.91 L486,559.1 L486.6,559.36 L487.2,559.6 L487.8,559.4 L488.4,558.88 L489,560.04 L489.6,560.55 L490.2,559.1 L490.8,560.41 L491.4,560.28 L492,559.3 L492.6,559.16 L493.2,560.19 L493.8,558.92 L493.9,564.2 Z" fill="#4a4a4a" stroke="#4a4a4a" stroke-width="0.4"/>
<path d="M415.5,563.2 L416.4,545.6 L417.3,563.2 Z" fill="#4a4a4a" stroke="#4a4a4a" stroke-width="0.8"/>
<path d="M452.1,563.2 L452.9,550.5 L453.7,563.2 Z" fill="#4a4a4a" stroke="#4a4a4a" stroke-width="0.8"/>
<path d="M401,563.2 L402,553.5 L403,563.2 Z" fill="#4a4a4a" stroke="#4a4a4a" stroke-width="0.8"/>
<path d="M462,563.2 L462.9,510 L463.8,563.2 Z" fill="#4a4a4a" stroke="#4a4a4a" stroke-width="0.7"/>
<line x1="380.7" y1="564.5" x2="494.2" y2="564.5" stroke="#333" stroke-width="1.2" />
<line x1="381" y1="564.2" x2="381" y2="567" stroke="#333" stroke-width="1.0" />
<line x1="437.4" y1="564.2" x2="437.4" y2="567" stroke="#333" stroke-width="1.0" />
<line x1="493.9" y1="564.2" x2="493.9" y2="567" stroke="#333" stroke-width="1.0" />
<text x="370.1" y="487.3" font-size="12" text-anchor="start" font-weight="normal" font-style="normal" fill="#222" textLength="74.9" lengthAdjust="spacingAndGlyphs">{2VPMEH+CB[8]}</text>
<text x="446" y="480.8" font-size="9.5" text-anchor="start" font-weight="normal" font-style="normal" fill="#222" >+•</text>
<text x="437.4" y="504.8" font-size="11.8" text-anchor="start" font-weight="normal" font-style="normal" fill="#222" >2363.60</text>
<text x="382.8" y="577.9" font-size="11.9" text-anchor="middle" font-weight="normal" font-style="normal" fill="#222" >2000</text>
<text x="489.6" y="577.9" font-size="11.9" text-anchor="middle" font-weight="normal" font-style="normal" fill="#222" >2500</text>
<text x="440" y="591" font-size="12.2" text-anchor="middle" font-weight="normal" font-style="normal" fill="#222" >m/z</text>
<path d="M557.3,562.6 L557.3,558.11 L557.9,558.26 L558.5,557.58 L559.1,556.52 L559.7,558.78 L560.3,559.04 L560.9,557.77 L561.5,557.23 L562.1,558.19 L562.7,557.73 L563.3,559.31 L563.9,558.11 L564.5,559.13 L565.1,559.31 L565.7,557.72 L566.3,558.88 L566.9,558.33 L567.5,557.76 L568.1,558.66 L568.7,558.03 L569.3,557.81 L569.9,558.23 L570.5,558.42 L571.1,558.81 L571.7,559.11 L572.3,559.1 L572.9,558.95 L573.5,558 L574.1,558.39 L574.7,558.93 L575.3,557.97 L575.9,559.04 L576.5,559.17 L577.1,559.44 L577.7,557.72 L578.3,558.05 L578.9,559.5 L579.5,557.59 L580.1,558.71 L580.7,558.29 L581.3,557.91 L581.9,559.27 L582.5,557.61 L583.1,559.28 L583.7,557.97 L584.3,555.56 L584.9,558.65 L585.5,557.49 L586.1,558.05 L586.7,559.06 L587.3,559.31 L587.9,558.01 L588.5,557.59 L589.1,559.08 L589.7,559.49 L590.3,559.07 L590.9,557.91 L591.5,559.51 L592.1,558.7 L592.7,557.81 L593.3,557.73 L593.9,557.61 L594.5,557.79 L595.1,558.01 L595.7,558.27 L596.3,557.86 L596.9,557.76 L597.5,558.29 L598.1,558.32 L598.7,558.55 L599.3,558.24 L599.9,557.78 L600.5,559.45 L601.1,557.71 L601.7,559.51 L602.3,559.35 L602.9,558.06 L603.5,558.36 L604.1,558.14 L604.7,556.08 L605.3,559.58 L605.9,559.39 L606.5,558.08 L607.1,558.54 L607.7,559.22 L608.3,558.97 L608.9,558.11 L609.5,558.58 L610.1,558.47 L610.7,557.95 L611.3,559.36 L611.9,558.14 L612.5,559.61 L613.1,556.63 L613.7,558.9 L614.3,557.85 L614.9,557.64 L615.5,558.44 L616.1,558.65 L616.7,557.99 L617.3,559.52 L617.9,559.27 L618.5,558.04 L619.1,555.25 L619.7,558.1 L620.3,559 L620.9,557.92 L621.5,559.65 L622.1,558.62 L622.7,558.29 L623.3,556.79 L623.9,558.98 L624.5,557.78 L625.1,558.38 L625.7,559.07 L626.3,558.78 L626.9,559.09 L627.5,558.18 L628.1,556.47 L628.7,558.99 L629.3,559.24 L629.9,555.15 L630.5,558.98 L631.1,559.02 L631.7,559.51 L632.3,556.07 L632.9,559.07 L633.5,556.41 L634.1,558.13 L634.7,558.17 L635.3,559.4 L635.9,558.77 L636.5,557.94 L637.1,556.04 L637.7,558.44 L638.3,558.55 L638.9,559.14 L639.5,558.95 L640.1,558.03 L640.7,558.48 L641.3,558.54 L641.9,558.04 L642.5,558.97 L643.1,559.19 L643.7,558.31 L644.3,558.43 L644.9,559.05 L645.5,558.51 L646.1,557.92 L646.7,558.02 L647.3,558.69 L647.9,559.32 L648.5,558.08 L649.1,558.89 L649.7,555.53 L650.3,558.48 L650.9,557.97 L651.5,558.67 L652.1,559.69 L652.7,556.06 L653.3,559.22 L653.9,558.46 L654.5,558.55 L655.1,558.14 L655.7,558.73 L656.3,558.43 L656.9,556.12 L657.5,558.63 L658.1,558.16 L658.7,559.05 L659.3,558.19 L659.9,559.06 L660.5,559.72 L661.1,559.74 L661.7,556.76 L662.3,556.84 L662.9,558.91 L663.5,559.44 L664.1,557.97 L664.7,558.11 L665.3,559.1 L665.9,558.28 L666.5,559.59 L667.1,558.14 L667.7,558.62 L668.3,556.95 L668.9,559.33 L669.5,558.6 L670.1,558.19 L670.4,562.6 Z" fill="#4a4a4a" stroke="#4a4a4a" stroke-width="0.4"/>
<path d="M592.3,561.6 L593,555.5 L593.7,561.6 Z" fill="#4a4a4a" stroke="#4a4a4a" stroke-width="0.8"/>
<path d="M579.4,561.6 L580,556.5 L580.6,561.6 Z" fill="#4a4a4a" stroke="#4a4a4a" stroke-width="0.8"/>
<path d="M611.3,561.6 L612.2,509.3 L613.1,561.6 Z" fill="#4a4a4a" stroke="#4a4a4a" stroke-width="0.7"/>
<line x1="557" y1="562.9" x2="670.7" y2="562.9" stroke="#333" stroke-width="1.2" />
<line x1="557.3" y1="562.6" x2="557.3" y2="565.4" stroke="#333" stroke-width="1.0" />
<line x1="585.6" y1="562.6" x2="585.6" y2="565.4" stroke="#333" stroke-width="1.0" />
<line x1="613.8" y1="562.6" x2="613.8" y2="565.4" stroke="#333" stroke-width="1.0" />
<line x1="642.1" y1="562.6" x2="642.1" y2="565.4" stroke="#333" stroke-width="1.0" />
<line x1="670.4" y1="562.6" x2="670.4" y2="565.4" stroke="#333" stroke-width="1.0" />
<text x="543.8" y="487.3" font-size="12" text-anchor="start" font-weight="normal" font-style="normal" fill="#222" textLength="66.6" lengthAdjust="spacingAndGlyphs">{VPSP+CB[8]}</text>
<text x="611.2" y="480.8" font-size="9.5" text-anchor="start" font-weight="normal" font-style="normal" fill="#222" >+</text>
<text x="587.9" y="504.8" font-size="11.8" text-anchor="start" font-weight="normal" font-style="normal" fill="#222" >1845.21</text>
<text x="558.3" y="577.9" font-size="11.9" text-anchor="middle" font-weight="normal" font-style="normal" fill="#222" >1700</text>
<text x="665.6" y="577.9" font-size="11.9" text-anchor="middle" font-weight="normal" font-style="normal" fill="#222" >2000</text>
<text x="613.9" y="591" font-size="12.2" text-anchor="middle" font-weight="normal" font-style="normal" fill="#222" >m/z</text>
</svg>
</body></html>
